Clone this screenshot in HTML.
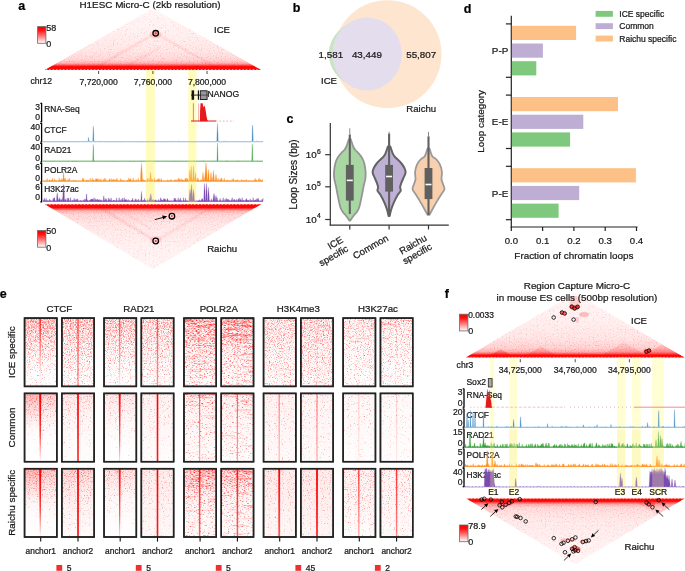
<!DOCTYPE html>
<html><head><meta charset="utf-8"><style>
html,body{margin:0;padding:0;background:#fff;width:685px;height:571px;overflow:hidden}
svg{display:block;will-change:transform}
text{font-family:"Liberation Sans",sans-serif;stroke:currentColor;stroke-width:0.22px;paint-order:stroke}
</style></head><body>
<svg width="685" height="571" viewBox="0 0 685 571" font-family="Liberation Sans, sans-serif">
<defs>
<filter id="speck" x="0" y="0" width="100%" height="100%" color-interpolation-filters="sRGB">
  <feTurbulence type="fractalNoise" baseFrequency="0.9" numOctaves="1" seed="4" result="n"/>
  <feColorMatrix in="n" type="matrix" values="0 0 0 0 1  0 0 0 0 0  0 0 0 0 0  9 0 0 0 -5.2"/>
</filter>
<filter id="speck2" x="0" y="0" width="100%" height="100%" color-interpolation-filters="sRGB">
  <feTurbulence type="fractalNoise" baseFrequency="0.9" numOctaves="1" seed="11" result="n"/>
  <feColorMatrix in="n" type="matrix" values="0 0 0 0 1  0 0 0 0 0  0 0 0 0 0  7 0 0 0 -3.6"/>
</filter>
<filter id="streak" x="0" y="0" width="100%" height="100%" color-interpolation-filters="sRGB">
  <feTurbulence type="fractalNoise" baseFrequency="0.35 1.2" numOctaves="2" seed="21" result="n"/>
  <feColorMatrix in="n" type="matrix" values="0 0 0 0 1  0 0 0 0 0  0 0 0 0 0  9 0 0 0 -4.9"/>
</filter>
<filter id="dens" x="0" y="0" width="100%" height="100%" color-interpolation-filters="sRGB">
  <feTurbulence type="fractalNoise" baseFrequency="0.85" numOctaves="2" seed="4" result="t"/>
  <feColorMatrix in="t" type="matrix" values="1 0 0 0 0  0 0 0 0 0  0 0 0 0 0  0 0 0 0 1" result="n"/>
  <feComposite in="n" in2="SourceGraphic" operator="arithmetic" k1="0" k2="1" k3="1" k4="-0.975" result="s"/>
  <feColorMatrix in="s" type="matrix" values="0 0 0 0 1  0 0 0 0 0.05  0 0 0 0 0.05  1.6 0 0 0 0"/>
</filter>
<filter id="densH" x="0" y="0" width="100%" height="100%" color-interpolation-filters="sRGB">
  <feTurbulence type="fractalNoise" baseFrequency="0.75" numOctaves="1" seed="9" result="t"/>
  <feColorMatrix in="t" type="matrix" values="1 0 0 0 0  0 0 0 0 0  0 0 0 0 0  0 0 0 0 1" result="n"/>
  <feComposite in="n" in2="SourceGraphic" operator="arithmetic" k1="0" k2="1" k3="1" k4="-1" result="s"/>
  <feColorMatrix in="s" type="matrix" values="0 0 0 0 1  0 0 0 0 0.1  0 0 0 0 0.1  0.8 0 0 0 0"/>
</filter>
<filter id="densS" x="0" y="0" width="100%" height="100%" color-interpolation-filters="sRGB">
  <feTurbulence type="fractalNoise" baseFrequency="0.5 1.1" numOctaves="3" seed="21" result="t"/>
  <feColorMatrix in="t" type="matrix" values="1 0 0 0 0  0 0 0 0 0  0 0 0 0 0  0 0 0 0 1" result="n"/>
  <feComposite in="n" in2="SourceGraphic" operator="arithmetic" k1="0" k2="1" k3="1" k4="-1" result="s"/>
  <feColorMatrix in="s" type="matrix" values="0 0 0 0 1  0 0 0 0 0  0 0 0 0 0  2 0 0 0 0"/>
</filter>
<linearGradient id="cbar" x1="0" y1="0" x2="0" y2="1">
  <stop offset="0" stop-color="#ff0000"/><stop offset="0.2" stop-color="#ff0a0a"/><stop offset="1" stop-color="#ffffff"/>
</linearGradient>
<linearGradient id="ga1" gradientUnits="userSpaceOnUse" x1="0" y1="70.0" x2="0" y2="8.3"><stop offset="0" stop-color="#ff0000"/><stop offset="0.055" stop-color="#ff0000"/><stop offset="0.08" stop-color="#ff6060"/><stop offset="0.11" stop-color="#ffb4b4"/><stop offset="0.16" stop-color="#ffd8d8"/><stop offset="0.3" stop-color="#ffe8e8"/><stop offset="0.6" stop-color="#fff1f1"/><stop offset="1" stop-color="#fff7f7"/></linearGradient><linearGradient id="gda1" gradientUnits="userSpaceOnUse" x1="0" y1="70.0" x2="0" y2="8.3"><stop offset="0" stop-color="#ffffff"/><stop offset="0.055" stop-color="#b2b2b2"/><stop offset="0.09" stop-color="#8a8a8a"/><stop offset="0.2" stop-color="#7a7a7a"/><stop offset="0.5" stop-color="#707070"/><stop offset="1" stop-color="#696969"/></linearGradient><clipPath id="ca1"><polygon points="44.7,70.0 261.2,70.0 152.95,8.3"/></clipPath><linearGradient id="ga2" gradientUnits="userSpaceOnUse" x1="0" y1="204.2" x2="0" y2="269.4"><stop offset="0" stop-color="#ff0000"/><stop offset="0.05" stop-color="#ff0000"/><stop offset="0.075" stop-color="#ff6060"/><stop offset="0.1" stop-color="#ffb4b4"/><stop offset="0.15" stop-color="#ffd8d8"/><stop offset="0.3" stop-color="#ffe8e8"/><stop offset="0.6" stop-color="#fff1f1"/><stop offset="1" stop-color="#fff7f7"/></linearGradient><linearGradient id="gda2" gradientUnits="userSpaceOnUse" x1="0" y1="204.2" x2="0" y2="269.4"><stop offset="0" stop-color="#ffffff"/><stop offset="0.05" stop-color="#b2b2b2"/><stop offset="0.08" stop-color="#8a8a8a"/><stop offset="0.2" stop-color="#7a7a7a"/><stop offset="0.5" stop-color="#707070"/><stop offset="1" stop-color="#696969"/></linearGradient><clipPath id="ca2"><polygon points="44.7,204.2 261.2,204.2 152.95,269.4"/></clipPath><clipPath id="hc1"><rect x="24.55" y="318.1" width="32.3" height="68.3"/></clipPath><linearGradient id="ht1" x1="0" y1="0" x2="0" y2="1"><stop offset="0" stop-color="#ff0000" stop-opacity="0.07"/><stop offset="0.35" stop-color="#ff0000" stop-opacity="0.02"/><stop offset="1" stop-color="#ff0000" stop-opacity="0"/></linearGradient><linearGradient id="hd1" x1="0" y1="0" x2="0" y2="1"><stop offset="0" stop-color="#a1a1a1"/><stop offset="0.2" stop-color="#969696"/><stop offset="0.45" stop-color="#858585"/><stop offset="0.7" stop-color="#6e6e6e"/><stop offset="1" stop-color="#545454"/></linearGradient><linearGradient id="hl1" x1="0" y1="0" x2="0" y2="1"><stop offset="0" stop-color="#ff0000" stop-opacity="0.75"/><stop offset="0.45" stop-color="#ff0000" stop-opacity="0.4"/><stop offset="0.8" stop-color="#ff0000" stop-opacity="0.12"/><stop offset="1" stop-color="#ff0000" stop-opacity="0"/></linearGradient><clipPath id="hc2"><rect x="61.849999999999994" y="318.1" width="32.3" height="68.3"/></clipPath><linearGradient id="ht2" x1="0" y1="0" x2="0" y2="1"><stop offset="0" stop-color="#ff0000" stop-opacity="0.05"/><stop offset="0.4" stop-color="#ff0000" stop-opacity="0.01"/><stop offset="1" stop-color="#ff0000" stop-opacity="0.0"/></linearGradient><linearGradient id="hd2" x1="0" y1="0" x2="0" y2="1"><stop offset="0" stop-color="#999999"/><stop offset="0.3" stop-color="#8c8c8c"/><stop offset="0.6" stop-color="#7d7d7d"/><stop offset="1" stop-color="#6b6b6b"/></linearGradient><linearGradient id="hl2" x1="0" y1="0" x2="0" y2="1"><stop offset="0" stop-color="#ff0000" stop-opacity="0.6"/><stop offset="1" stop-color="#ff0000" stop-opacity="0.35"/></linearGradient><clipPath id="hc3"><rect x="104.05" y="318.1" width="32.3" height="68.3"/></clipPath><linearGradient id="ht3" x1="0" y1="0" x2="0" y2="1"><stop offset="0" stop-color="#ff0000" stop-opacity="0.04"/><stop offset="0.4" stop-color="#ff0000" stop-opacity="0.01"/><stop offset="1" stop-color="#ff0000" stop-opacity="0"/></linearGradient><linearGradient id="hd3" x1="0" y1="0" x2="0" y2="1"><stop offset="0" stop-color="#999999"/><stop offset="0.3" stop-color="#8a8a8a"/><stop offset="0.6" stop-color="#787878"/><stop offset="1" stop-color="#5e5e5e"/></linearGradient><linearGradient id="hl3" x1="0" y1="0" x2="0" y2="1"><stop offset="0" stop-color="#ff0000" stop-opacity="0.65"/><stop offset="0.7" stop-color="#ff0000" stop-opacity="0.35"/><stop offset="1" stop-color="#ff0000" stop-opacity="0.1"/></linearGradient><clipPath id="hc4"><rect x="141.35" y="318.1" width="32.3" height="68.3"/></clipPath><linearGradient id="ht4" x1="0" y1="0" x2="0" y2="1"><stop offset="0" stop-color="#ff0000" stop-opacity="0.03"/><stop offset="1" stop-color="#ff0000" stop-opacity="0"/></linearGradient><linearGradient id="hd4" x1="0" y1="0" x2="0" y2="1"><stop offset="0" stop-color="#949494"/><stop offset="0.3" stop-color="#878787"/><stop offset="0.6" stop-color="#7a7a7a"/><stop offset="1" stop-color="#696969"/></linearGradient><linearGradient id="hl4" x1="0" y1="0" x2="0" y2="1"><stop offset="0" stop-color="#ff0000" stop-opacity="0.6"/><stop offset="1" stop-color="#ff0000" stop-opacity="0.4"/></linearGradient><clipPath id="hc5"><rect x="183.95" y="318.1" width="32.3" height="68.3"/></clipPath><linearGradient id="ht5" x1="0" y1="0" x2="0" y2="1"><stop offset="0" stop-color="#ff0000" stop-opacity="0.06"/><stop offset="0.5" stop-color="#ff0000" stop-opacity="0.03"/><stop offset="1" stop-color="#ff0000" stop-opacity="0.01"/></linearGradient><linearGradient id="hd5" x1="0" y1="0" x2="0" y2="1"><stop offset="0" stop-color="#999999"/><stop offset="0.3" stop-color="#919191"/><stop offset="0.5" stop-color="#808080"/><stop offset="1" stop-color="#737373"/></linearGradient><linearGradient id="hl5" x1="0" y1="0" x2="0" y2="1"><stop offset="0" stop-color="#ff0000" stop-opacity="0.12"/><stop offset="1" stop-color="#ff0000" stop-opacity="0.06"/></linearGradient><clipPath id="sc00"><rect x="183.95" y="318.1" width="32.3" height="68.3"/></clipPath><clipPath id="hc6"><rect x="221.25" y="318.1" width="32.3" height="68.3"/></clipPath><linearGradient id="ht6" x1="0" y1="0" x2="0" y2="1"><stop offset="0" stop-color="#ff0000" stop-opacity="0.06"/><stop offset="0.5" stop-color="#ff0000" stop-opacity="0.03"/><stop offset="1" stop-color="#ff0000" stop-opacity="0.01"/></linearGradient><linearGradient id="hd6" x1="0" y1="0" x2="0" y2="1"><stop offset="0" stop-color="#999999"/><stop offset="0.3" stop-color="#919191"/><stop offset="0.5" stop-color="#808080"/><stop offset="1" stop-color="#737373"/></linearGradient><linearGradient id="hl6" x1="0" y1="0" x2="0" y2="1"><stop offset="0" stop-color="#ff0000" stop-opacity="0.15"/><stop offset="1" stop-color="#ff0000" stop-opacity="0.08"/></linearGradient><clipPath id="sc01"><rect x="221.25" y="318.1" width="32.3" height="68.3"/></clipPath><clipPath id="hc7"><rect x="263.55" y="318.1" width="32.3" height="68.3"/></clipPath><linearGradient id="ht7" x1="0" y1="0" x2="0" y2="1"><stop offset="0" stop-color="#ff0000" stop-opacity="0.03"/><stop offset="1" stop-color="#ff0000" stop-opacity="0.01"/></linearGradient><linearGradient id="hd7" x1="0" y1="0" x2="0" y2="1"><stop offset="0" stop-color="#878787"/><stop offset="0.4" stop-color="#7d7d7d"/><stop offset="1" stop-color="#707070"/></linearGradient><linearGradient id="hl7" x1="0" y1="0" x2="0" y2="1"><stop offset="0" stop-color="#ff0000" stop-opacity="0.08"/><stop offset="1" stop-color="#ff0000" stop-opacity="0.03"/></linearGradient><clipPath id="sc030"><rect x="263.55" y="318.1" width="32.3" height="68.3"/></clipPath><clipPath id="hc8"><rect x="300.85" y="318.1" width="32.3" height="68.3"/></clipPath><linearGradient id="ht8" x1="0" y1="0" x2="0" y2="1"><stop offset="0" stop-color="#ff0000" stop-opacity="0.03"/><stop offset="1" stop-color="#ff0000" stop-opacity="0.01"/></linearGradient><linearGradient id="hd8" x1="0" y1="0" x2="0" y2="1"><stop offset="0" stop-color="#8a8a8a"/><stop offset="0.4" stop-color="#808080"/><stop offset="1" stop-color="#737373"/></linearGradient><linearGradient id="hl8" x1="0" y1="0" x2="0" y2="1"><stop offset="0" stop-color="#ff0000" stop-opacity="0.12"/><stop offset="1" stop-color="#ff0000" stop-opacity="0.05"/></linearGradient><clipPath id="sc031"><rect x="300.85" y="318.1" width="32.3" height="68.3"/></clipPath><clipPath id="hc9"><rect x="343.15" y="318.1" width="32.3" height="68.3"/></clipPath><linearGradient id="ht9" x1="0" y1="0" x2="0" y2="1"><stop offset="0" stop-color="#ff0000" stop-opacity="0.02"/><stop offset="1" stop-color="#ff0000" stop-opacity="0.0"/></linearGradient><linearGradient id="hd9" x1="0" y1="0" x2="0" y2="1"><stop offset="0" stop-color="#828282"/><stop offset="0.3" stop-color="#7a7a7a"/><stop offset="1" stop-color="#696969"/></linearGradient><linearGradient id="hl9" x1="0" y1="0" x2="0" y2="1"><stop offset="0" stop-color="#ff0000" stop-opacity="0.06"/><stop offset="1" stop-color="#ff0000" stop-opacity="0.02"/></linearGradient><clipPath id="sc040"><rect x="343.15" y="318.1" width="32.3" height="68.3"/></clipPath><clipPath id="hc10"><rect x="380.45" y="318.1" width="32.3" height="68.3"/></clipPath><linearGradient id="ht10" x1="0" y1="0" x2="0" y2="1"><stop offset="0" stop-color="#ff0000" stop-opacity="0.02"/><stop offset="1" stop-color="#ff0000" stop-opacity="0.0"/></linearGradient><linearGradient id="hd10" x1="0" y1="0" x2="0" y2="1"><stop offset="0" stop-color="#858585"/><stop offset="0.3" stop-color="#7a7a7a"/><stop offset="1" stop-color="#696969"/></linearGradient><linearGradient id="hl10" x1="0" y1="0" x2="0" y2="1"><stop offset="0" stop-color="#ff0000" stop-opacity="0.06"/><stop offset="1" stop-color="#ff0000" stop-opacity="0.02"/></linearGradient><clipPath id="sc041"><rect x="380.45" y="318.1" width="32.3" height="68.3"/></clipPath><clipPath id="hc11"><rect x="24.55" y="393.4" width="32.3" height="68.3"/></clipPath><linearGradient id="ht11" x1="0" y1="0" x2="0" y2="1"><stop offset="0" stop-color="#ff0000" stop-opacity="0.18"/><stop offset="0.3" stop-color="#ff0000" stop-opacity="0.06"/><stop offset="0.6" stop-color="#ff0000" stop-opacity="0.01"/><stop offset="1" stop-color="#ff0000" stop-opacity="0"/></linearGradient><linearGradient id="hd11" x1="0" y1="0" x2="0" y2="1"><stop offset="0" stop-color="#808080"/><stop offset="0.3" stop-color="#6b6b6b"/><stop offset="0.6" stop-color="#4f4f4f"/><stop offset="1" stop-color="#333333"/></linearGradient><linearGradient id="hl11" x1="0" y1="0" x2="0" y2="1"><stop offset="0" stop-color="#ff0000" stop-opacity="1"/><stop offset="0.6" stop-color="#ff0000" stop-opacity="0.85"/><stop offset="0.9" stop-color="#ff0000" stop-opacity="0.3"/><stop offset="1" stop-color="#ff0000" stop-opacity="0"/></linearGradient><linearGradient id="hq11" x1="0" y1="0" x2="0" y2="1"><stop offset="0" stop-color="#ff0000" stop-opacity="0.1"/><stop offset="0.5" stop-color="#ff0000" stop-opacity="0"/></linearGradient><clipPath id="hc12"><rect x="61.849999999999994" y="393.4" width="32.3" height="68.3"/></clipPath><linearGradient id="ht12" x1="0" y1="0" x2="0" y2="1"><stop offset="0" stop-color="#ff0000" stop-opacity="0.08"/><stop offset="0.4" stop-color="#ff0000" stop-opacity="0.03"/><stop offset="1" stop-color="#ff0000" stop-opacity="0.01"/></linearGradient><linearGradient id="hd12" x1="0" y1="0" x2="0" y2="1"><stop offset="0" stop-color="#737373"/><stop offset="0.4" stop-color="#5e5e5e"/><stop offset="1" stop-color="#474747"/></linearGradient><linearGradient id="hl12" x1="0" y1="0" x2="0" y2="1"><stop offset="0" stop-color="#ff0000" stop-opacity="1"/><stop offset="1" stop-color="#ff0000" stop-opacity="0.8"/></linearGradient><clipPath id="hc13"><rect x="104.05" y="393.4" width="32.3" height="68.3"/></clipPath><linearGradient id="ht13" x1="0" y1="0" x2="0" y2="1"><stop offset="0" stop-color="#ff0000" stop-opacity="0.08"/><stop offset="0.5" stop-color="#ff0000" stop-opacity="0.02"/><stop offset="1" stop-color="#ff0000" stop-opacity="0"/></linearGradient><linearGradient id="hd13" x1="0" y1="0" x2="0" y2="1"><stop offset="0" stop-color="#737373"/><stop offset="0.4" stop-color="#5c5c5c"/><stop offset="1" stop-color="#383838"/></linearGradient><linearGradient id="hl13" x1="0" y1="0" x2="0" y2="1"><stop offset="0" stop-color="#ff0000" stop-opacity="1"/><stop offset="0.7" stop-color="#ff0000" stop-opacity="0.7"/><stop offset="1" stop-color="#ff0000" stop-opacity="0.2"/></linearGradient><clipPath id="hc14"><rect x="141.35" y="393.4" width="32.3" height="68.3"/></clipPath><linearGradient id="ht14" x1="0" y1="0" x2="0" y2="1"><stop offset="0" stop-color="#ff0000" stop-opacity="0.05"/><stop offset="1" stop-color="#ff0000" stop-opacity="0.01"/></linearGradient><linearGradient id="hd14" x1="0" y1="0" x2="0" y2="1"><stop offset="0" stop-color="#666666"/><stop offset="1" stop-color="#474747"/></linearGradient><linearGradient id="hl14" x1="0" y1="0" x2="0" y2="1"><stop offset="0" stop-color="#ff0000" stop-opacity="1"/><stop offset="1" stop-color="#ff0000" stop-opacity="0.9"/></linearGradient><clipPath id="hc15"><rect x="183.95" y="393.4" width="32.3" height="68.3"/></clipPath><linearGradient id="ht15" x1="0" y1="0" x2="0" y2="1"><stop offset="0" stop-color="#ff0000" stop-opacity="0.05"/><stop offset="1" stop-color="#ff0000" stop-opacity="0.01"/></linearGradient><linearGradient id="hd15" x1="0" y1="0" x2="0" y2="1"><stop offset="0" stop-color="#7a7a7a"/><stop offset="0.4" stop-color="#6e6e6e"/><stop offset="1" stop-color="#616161"/></linearGradient><linearGradient id="hl15" x1="0" y1="0" x2="0" y2="1"><stop offset="0" stop-color="#ff0000" stop-opacity="0.6"/><stop offset="1" stop-color="#ff0000" stop-opacity="0.35"/></linearGradient><clipPath id="sc10"><rect x="183.95" y="393.4" width="32.3" height="68.3"/></clipPath><clipPath id="hc16"><rect x="221.25" y="393.4" width="32.3" height="68.3"/></clipPath><linearGradient id="ht16" x1="0" y1="0" x2="0" y2="1"><stop offset="0" stop-color="#ff0000" stop-opacity="0.05"/><stop offset="1" stop-color="#ff0000" stop-opacity="0.01"/></linearGradient><linearGradient id="hd16" x1="0" y1="0" x2="0" y2="1"><stop offset="0" stop-color="#787878"/><stop offset="0.4" stop-color="#6b6b6b"/><stop offset="1" stop-color="#616161"/></linearGradient><linearGradient id="hl16" x1="0" y1="0" x2="0" y2="1"><stop offset="0" stop-color="#ff0000" stop-opacity="0.6"/><stop offset="1" stop-color="#ff0000" stop-opacity="0.35"/></linearGradient><clipPath id="sc11"><rect x="221.25" y="393.4" width="32.3" height="68.3"/></clipPath><clipPath id="hc17"><rect x="263.55" y="393.4" width="32.3" height="68.3"/></clipPath><linearGradient id="ht17" x1="0" y1="0" x2="0" y2="1"><stop offset="0" stop-color="#ff0000" stop-opacity="0.05"/><stop offset="1" stop-color="#ff0000" stop-opacity="0.02"/></linearGradient><linearGradient id="hd17" x1="0" y1="0" x2="0" y2="1"><stop offset="0" stop-color="#666666"/><stop offset="1" stop-color="#545454"/></linearGradient><linearGradient id="hl17" x1="0" y1="0" x2="0" y2="1"><stop offset="0" stop-color="#ff0000" stop-opacity="0.42"/><stop offset="1" stop-color="#ff0000" stop-opacity="0.22"/></linearGradient><clipPath id="hc18"><rect x="300.85" y="393.4" width="32.3" height="68.3"/></clipPath><linearGradient id="ht18" x1="0" y1="0" x2="0" y2="1"><stop offset="0" stop-color="#ff0000" stop-opacity="0.04"/><stop offset="1" stop-color="#ff0000" stop-opacity="0.02"/></linearGradient><linearGradient id="hd18" x1="0" y1="0" x2="0" y2="1"><stop offset="0" stop-color="#666666"/><stop offset="1" stop-color="#545454"/></linearGradient><linearGradient id="hl18" x1="0" y1="0" x2="0" y2="1"><stop offset="0" stop-color="#ff0000" stop-opacity="0.42"/><stop offset="1" stop-color="#ff0000" stop-opacity="0.28"/></linearGradient><clipPath id="hc19"><rect x="343.15" y="393.4" width="32.3" height="68.3"/></clipPath><linearGradient id="ht19" x1="0" y1="0" x2="0" y2="1"><stop offset="0" stop-color="#ff0000" stop-opacity="0.03"/><stop offset="1" stop-color="#ff0000" stop-opacity="0.01"/></linearGradient><linearGradient id="hd19" x1="0" y1="0" x2="0" y2="1"><stop offset="0" stop-color="#616161"/><stop offset="1" stop-color="#4c4c4c"/></linearGradient><linearGradient id="hl19" x1="0" y1="0" x2="0" y2="1"><stop offset="0" stop-color="#ff0000" stop-opacity="0.18"/><stop offset="1" stop-color="#ff0000" stop-opacity="0.06"/></linearGradient><clipPath id="hc20"><rect x="380.45" y="393.4" width="32.3" height="68.3"/></clipPath><linearGradient id="ht20" x1="0" y1="0" x2="0" y2="1"><stop offset="0" stop-color="#ff0000" stop-opacity="0.02"/><stop offset="1" stop-color="#ff0000" stop-opacity="0.01"/></linearGradient><linearGradient id="hd20" x1="0" y1="0" x2="0" y2="1"><stop offset="0" stop-color="#616161"/><stop offset="1" stop-color="#4c4c4c"/></linearGradient><linearGradient id="hl20" x1="0" y1="0" x2="0" y2="1"><stop offset="0" stop-color="#ff0000" stop-opacity="0.18"/><stop offset="1" stop-color="#ff0000" stop-opacity="0.08"/></linearGradient><clipPath id="hc21"><rect x="24.55" y="468.7" width="32.3" height="68.3"/></clipPath><linearGradient id="ht21" x1="0" y1="0" x2="0" y2="1"><stop offset="0" stop-color="#ff0000" stop-opacity="0.2"/><stop offset="0.3" stop-color="#ff0000" stop-opacity="0.07"/><stop offset="0.6" stop-color="#ff0000" stop-opacity="0.02"/><stop offset="1" stop-color="#ff0000" stop-opacity="0"/></linearGradient><linearGradient id="hd21" x1="0" y1="0" x2="0" y2="1"><stop offset="0" stop-color="#878787"/><stop offset="0.3" stop-color="#737373"/><stop offset="0.6" stop-color="#525252"/><stop offset="1" stop-color="#333333"/></linearGradient><linearGradient id="hl21" x1="0" y1="0" x2="0" y2="1"><stop offset="0" stop-color="#ff0000" stop-opacity="1"/><stop offset="0.6" stop-color="#ff0000" stop-opacity="0.85"/><stop offset="0.9" stop-color="#ff0000" stop-opacity="0.3"/><stop offset="1" stop-color="#ff0000" stop-opacity="0"/></linearGradient><linearGradient id="hq21" x1="0" y1="0" x2="0" y2="1"><stop offset="0" stop-color="#ff0000" stop-opacity="0.1"/><stop offset="0.5" stop-color="#ff0000" stop-opacity="0"/></linearGradient><clipPath id="hc22"><rect x="61.849999999999994" y="468.7" width="32.3" height="68.3"/></clipPath><linearGradient id="ht22" x1="0" y1="0" x2="0" y2="1"><stop offset="0" stop-color="#ff0000" stop-opacity="0.15"/><stop offset="0.4" stop-color="#ff0000" stop-opacity="0.06"/><stop offset="1" stop-color="#ff0000" stop-opacity="0.02"/></linearGradient><linearGradient id="hd22" x1="0" y1="0" x2="0" y2="1"><stop offset="0" stop-color="#808080"/><stop offset="0.4" stop-color="#696969"/><stop offset="1" stop-color="#4c4c4c"/></linearGradient><linearGradient id="hl22" x1="0" y1="0" x2="0" y2="1"><stop offset="0" stop-color="#ff0000" stop-opacity="1"/><stop offset="1" stop-color="#ff0000" stop-opacity="0.85"/></linearGradient><clipPath id="hc23"><rect x="104.05" y="468.7" width="32.3" height="68.3"/></clipPath><linearGradient id="ht23" x1="0" y1="0" x2="0" y2="1"><stop offset="0" stop-color="#ff0000" stop-opacity="0.11"/><stop offset="0.4" stop-color="#ff0000" stop-opacity="0.03"/><stop offset="1" stop-color="#ff0000" stop-opacity="0"/></linearGradient><linearGradient id="hd23" x1="0" y1="0" x2="0" y2="1"><stop offset="0" stop-color="#7a7a7a"/><stop offset="0.4" stop-color="#616161"/><stop offset="1" stop-color="#383838"/></linearGradient><linearGradient id="hl23" x1="0" y1="0" x2="0" y2="1"><stop offset="0" stop-color="#ff0000" stop-opacity="1"/><stop offset="0.7" stop-color="#ff0000" stop-opacity="0.7"/><stop offset="1" stop-color="#ff0000" stop-opacity="0.2"/></linearGradient><clipPath id="hc24"><rect x="141.35" y="468.7" width="32.3" height="68.3"/></clipPath><linearGradient id="ht24" x1="0" y1="0" x2="0" y2="1"><stop offset="0" stop-color="#ff0000" stop-opacity="0.07"/><stop offset="1" stop-color="#ff0000" stop-opacity="0.03"/></linearGradient><linearGradient id="hd24" x1="0" y1="0" x2="0" y2="1"><stop offset="0" stop-color="#6e6e6e"/><stop offset="1" stop-color="#4c4c4c"/></linearGradient><linearGradient id="hl24" x1="0" y1="0" x2="0" y2="1"><stop offset="0" stop-color="#ff0000" stop-opacity="1"/><stop offset="1" stop-color="#ff0000" stop-opacity="0.9"/></linearGradient><clipPath id="hc25"><rect x="183.95" y="468.7" width="32.3" height="68.3"/></clipPath><linearGradient id="ht25" x1="0" y1="0" x2="0" y2="1"><stop offset="0" stop-color="#ff0000" stop-opacity="0.14"/><stop offset="0.35" stop-color="#ff0000" stop-opacity="0.05"/><stop offset="1" stop-color="#ff0000" stop-opacity="0.01"/></linearGradient><linearGradient id="hd25" x1="0" y1="0" x2="0" y2="1"><stop offset="0" stop-color="#949494"/><stop offset="0.25" stop-color="#878787"/><stop offset="0.45" stop-color="#757575"/><stop offset="1" stop-color="#696969"/></linearGradient><linearGradient id="hl25" x1="0" y1="0" x2="0" y2="1"><stop offset="0" stop-color="#ff0000" stop-opacity="0.9"/><stop offset="1" stop-color="#ff0000" stop-opacity="0.6"/></linearGradient><clipPath id="sc20"><rect x="183.95" y="468.7" width="32.3" height="68.3"/></clipPath><clipPath id="hc26"><rect x="221.25" y="468.7" width="32.3" height="68.3"/></clipPath><linearGradient id="ht26" x1="0" y1="0" x2="0" y2="1"><stop offset="0" stop-color="#ff0000" stop-opacity="0.12"/><stop offset="0.35" stop-color="#ff0000" stop-opacity="0.04"/><stop offset="1" stop-color="#ff0000" stop-opacity="0.01"/></linearGradient><linearGradient id="hd26" x1="0" y1="0" x2="0" y2="1"><stop offset="0" stop-color="#8f8f8f"/><stop offset="0.25" stop-color="#828282"/><stop offset="0.45" stop-color="#737373"/><stop offset="1" stop-color="#696969"/></linearGradient><linearGradient id="hl26" x1="0" y1="0" x2="0" y2="1"><stop offset="0" stop-color="#ff0000" stop-opacity="0.9"/><stop offset="1" stop-color="#ff0000" stop-opacity="0.6"/></linearGradient><clipPath id="sc21"><rect x="221.25" y="468.7" width="32.3" height="68.3"/></clipPath><clipPath id="hc27"><rect x="263.55" y="468.7" width="32.3" height="68.3"/></clipPath><linearGradient id="ht27" x1="0" y1="0" x2="0" y2="1"><stop offset="0" stop-color="#ff0000" stop-opacity="0.08"/><stop offset="1" stop-color="#ff0000" stop-opacity="0.03"/></linearGradient><linearGradient id="hd27" x1="0" y1="0" x2="0" y2="1"><stop offset="0" stop-color="#6b6b6b"/><stop offset="1" stop-color="#575757"/></linearGradient><linearGradient id="hl27" x1="0" y1="0" x2="0" y2="1"><stop offset="0" stop-color="#ff0000" stop-opacity="1"/><stop offset="1" stop-color="#ff0000" stop-opacity="0.65"/></linearGradient><clipPath id="hc28"><rect x="300.85" y="468.7" width="32.3" height="68.3"/></clipPath><linearGradient id="ht28" x1="0" y1="0" x2="0" y2="1"><stop offset="0" stop-color="#ff0000" stop-opacity="0.08"/><stop offset="1" stop-color="#ff0000" stop-opacity="0.04"/></linearGradient><linearGradient id="hd28" x1="0" y1="0" x2="0" y2="1"><stop offset="0" stop-color="#6b6b6b"/><stop offset="1" stop-color="#575757"/></linearGradient><linearGradient id="hl28" x1="0" y1="0" x2="0" y2="1"><stop offset="0" stop-color="#ff0000" stop-opacity="1"/><stop offset="1" stop-color="#ff0000" stop-opacity="0.8"/></linearGradient><clipPath id="hc29"><rect x="343.15" y="468.7" width="32.3" height="68.3"/></clipPath><linearGradient id="ht29" x1="0" y1="0" x2="0" y2="1"><stop offset="0" stop-color="#ff0000" stop-opacity="0.05"/><stop offset="1" stop-color="#ff0000" stop-opacity="0.01"/></linearGradient><linearGradient id="hd29" x1="0" y1="0" x2="0" y2="1"><stop offset="0" stop-color="#787878"/><stop offset="0.5" stop-color="#696969"/><stop offset="1" stop-color="#595959"/></linearGradient><linearGradient id="hl29" x1="0" y1="0" x2="0" y2="1"><stop offset="0" stop-color="#ff0000" stop-opacity="0.75"/><stop offset="1" stop-color="#ff0000" stop-opacity="0.3"/></linearGradient><clipPath id="hc30"><rect x="380.45" y="468.7" width="32.3" height="68.3"/></clipPath><linearGradient id="ht30" x1="0" y1="0" x2="0" y2="1"><stop offset="0" stop-color="#ff0000" stop-opacity="0.04"/><stop offset="1" stop-color="#ff0000" stop-opacity="0.02"/></linearGradient><linearGradient id="hd30" x1="0" y1="0" x2="0" y2="1"><stop offset="0" stop-color="#707070"/><stop offset="1" stop-color="#595959"/></linearGradient><linearGradient id="hl30" x1="0" y1="0" x2="0" y2="1"><stop offset="0" stop-color="#ff0000" stop-opacity="0.8"/><stop offset="1" stop-color="#ff0000" stop-opacity="0.45"/></linearGradient><linearGradient id="gf1" gradientUnits="userSpaceOnUse" x1="0" y1="357.4" x2="0" y2="293.0"><stop offset="0" stop-color="#ff0000"/><stop offset="0.035" stop-color="#ff0000"/><stop offset="0.055" stop-color="#ff6060"/><stop offset="0.085" stop-color="#ffb4b4"/><stop offset="0.14" stop-color="#ffd4d4"/><stop offset="0.3" stop-color="#ffe8e8"/><stop offset="0.6" stop-color="#fff1f1"/><stop offset="1" stop-color="#fff7f7"/></linearGradient><linearGradient id="gdf1" gradientUnits="userSpaceOnUse" x1="0" y1="357.4" x2="0" y2="293.0"><stop offset="0" stop-color="#ffffff"/><stop offset="0.035" stop-color="#b2b2b2"/><stop offset="0.07" stop-color="#8c8c8c"/><stop offset="0.2" stop-color="#7d7d7d"/><stop offset="0.5" stop-color="#707070"/><stop offset="1" stop-color="#696969"/></linearGradient><clipPath id="cf1"><polygon points="465.7,357.4 684.5,357.4 575.1,293.0"/></clipPath><linearGradient id="tgf10" gradientUnits="userSpaceOnUse" x1="0" y1="357.4" x2="0" y2="348.9"><stop offset="0" stop-color="#ff0000" stop-opacity="0.6"/><stop offset="1" stop-color="#ff0000" stop-opacity="0.15"/></linearGradient><linearGradient id="tgf11" gradientUnits="userSpaceOnUse" x1="0" y1="357.4" x2="0" y2="346.2"><stop offset="0" stop-color="#ff0000" stop-opacity="0.32"/><stop offset="1" stop-color="#ff0000" stop-opacity="0.08"/></linearGradient><linearGradient id="tgf12" gradientUnits="userSpaceOnUse" x1="0" y1="357.4" x2="0" y2="342.1"><stop offset="0" stop-color="#ff0000" stop-opacity="0.22"/><stop offset="1" stop-color="#ff0000" stop-opacity="0.06"/></linearGradient><linearGradient id="tgf13" gradientUnits="userSpaceOnUse" x1="0" y1="357.4" x2="0" y2="344.3"><stop offset="0" stop-color="#ff0000" stop-opacity="0.35"/><stop offset="1" stop-color="#ff0000" stop-opacity="0.09"/></linearGradient><linearGradient id="gf2" gradientUnits="userSpaceOnUse" x1="0" y1="498.6" x2="0" y2="564.3"><stop offset="0" stop-color="#ff0000"/><stop offset="0.04" stop-color="#ff0000"/><stop offset="0.06" stop-color="#ff6060"/><stop offset="0.09" stop-color="#ffb8b8"/><stop offset="0.14" stop-color="#ffdcdc"/><stop offset="0.3" stop-color="#ffeaea"/><stop offset="0.6" stop-color="#fff1f1"/><stop offset="1" stop-color="#fff7f7"/></linearGradient><linearGradient id="gdf2" gradientUnits="userSpaceOnUse" x1="0" y1="498.6" x2="0" y2="564.3"><stop offset="0" stop-color="#ffffff"/><stop offset="0.04" stop-color="#b2b2b2"/><stop offset="0.075" stop-color="#878787"/><stop offset="0.2" stop-color="#787878"/><stop offset="0.5" stop-color="#707070"/><stop offset="1" stop-color="#696969"/></linearGradient><clipPath id="cf2"><polygon points="466.3,498.6 684.5,498.6 575.4,564.3"/></clipPath><linearGradient id="tgf20" gradientUnits="userSpaceOnUse" x1="0" y1="498.6" x2="0" y2="514.8"><stop offset="0" stop-color="#ff0000" stop-opacity="0.22"/><stop offset="1" stop-color="#ff0000" stop-opacity="0.06"/></linearGradient><linearGradient id="tgf21" gradientUnits="userSpaceOnUse" x1="0" y1="498.6" x2="0" y2="515.0"><stop offset="0" stop-color="#ff0000" stop-opacity="0.18"/><stop offset="1" stop-color="#ff0000" stop-opacity="0.04"/></linearGradient></defs>
<text x="18.3" y="10.3" font-size="12.5" text-anchor="start" font-weight="bold" fill="#000" >a</text>
<text x="150" y="8.0" font-size="9.9" text-anchor="middle" fill="#1a1a1a" >H1ESC Micro-C (2kb resolution)</text>
<rect x="37.6" y="26.6" width="8.3" height="16.7" fill="url(#cbar)" stroke="#6a6a6a" stroke-width="0.8"/>
<text x="46.2" y="30.5" font-size="9.0" text-anchor="start" fill="#1a1a1a" >58</text>
<text x="46.2" y="46.599999999999994" font-size="9.0" text-anchor="start" fill="#1a1a1a" >0</text>
<polygon points="44.7,70.0 261.2,70.0 152.95,8.3" fill="url(#ga1)"/>
<g clip-path="url(#ca1)">
<ellipse cx="155.7" cy="34.5" rx="6" ry="4" fill="#ff0000" opacity="0.12"/>
<line x1="91.1" y1="70" x2="155.7" y2="33.3" stroke="#ff0000" stroke-width="3" stroke-opacity="0.07" stroke-linecap="round"/>
<line x1="220.3" y1="70" x2="155.7" y2="33.3" stroke="#ff0000" stroke-width="3" stroke-opacity="0.06" stroke-linecap="round"/>
<line x1="120" y1="70" x2="160" y2="47.3" stroke="#ff0000" stroke-width="2.5" stroke-opacity="0.05" stroke-linecap="round"/>
</g>
<polygon points="44.7,70.0 261.2,70.0 152.95,8.3" fill="url(#gda1)" filter="url(#densH)"/>
<path d="M45.23,70.05 L46.43,69.25 L47.63,70.05 Z M48.68,70.05 L49.88,69.25 L51.08,70.05 Z M52.13,70.05 L53.33,69.25 L54.53,70.05 Z M55.58,70.05 L56.78,69.25 L57.98,70.05 Z M59.03,70.05 L60.23,69.25 L61.43,70.05 Z M62.48,70.05 L63.68,69.25 L64.88,70.05 Z M65.93,70.05 L67.13,69.25 L68.33,70.05 Z M69.38,70.05 L70.58,69.25 L71.78,70.05 Z M72.83,70.05 L74.03,69.25 L75.23,70.05 Z M76.28,70.05 L77.48,69.25 L78.68,70.05 Z M79.73,70.05 L80.93,69.25 L82.13,70.05 Z M83.18,70.05 L84.38,69.25 L85.58,70.05 Z M86.63,70.05 L87.83,69.25 L89.03,70.05 Z M90.08,70.05 L91.28,69.25 L92.48,70.05 Z M93.53,70.05 L94.73,69.25 L95.93,70.05 Z M96.98,70.05 L98.18,69.25 L99.38,70.05 Z M100.43,70.05 L101.63,69.25 L102.83,70.05 Z M103.88,70.05 L105.08,69.25 L106.28,70.05 Z M107.33,70.05 L108.53,69.25 L109.73,70.05 Z M110.78,70.05 L111.98,69.25 L113.18,70.05 Z M114.23,70.05 L115.43,69.25 L116.63,70.05 Z M117.68,70.05 L118.88,69.25 L120.08,70.05 Z M121.13,70.05 L122.33,69.25 L123.53,70.05 Z M124.58,70.05 L125.78,69.25 L126.98,70.05 Z M128.03,70.05 L129.23,69.25 L130.43,70.05 Z M131.48,70.05 L132.68,69.25 L133.88,70.05 Z M134.93,70.05 L136.13,69.25 L137.33,70.05 Z M138.38,70.05 L139.58,69.25 L140.78,70.05 Z M141.83,70.05 L143.03,69.25 L144.22,70.05 Z M145.28,70.05 L146.47,69.25 L147.67,70.05 Z M148.72,70.05 L149.92,69.25 L151.12,70.05 Z M152.17,70.05 L153.37,69.25 L154.57,70.05 Z M155.62,70.05 L156.82,69.25 L158.02,70.05 Z M159.07,70.05 L160.27,69.25 L161.47,70.05 Z M162.52,70.05 L163.72,69.25 L164.92,70.05 Z M165.97,70.05 L167.17,69.25 L168.37,70.05 Z M169.42,70.05 L170.62,69.25 L171.82,70.05 Z M172.87,70.05 L174.07,69.25 L175.27,70.05 Z M176.32,70.05 L177.52,69.25 L178.72,70.05 Z M179.77,70.05 L180.97,69.25 L182.17,70.05 Z M183.22,70.05 L184.42,69.25 L185.62,70.05 Z M186.67,70.05 L187.87,69.25 L189.07,70.05 Z M190.12,70.05 L191.32,69.25 L192.52,70.05 Z M193.57,70.05 L194.77,69.25 L195.97,70.05 Z M197.02,70.05 L198.22,69.25 L199.42,70.05 Z M200.47,70.05 L201.67,69.25 L202.87,70.05 Z M203.92,70.05 L205.12,69.25 L206.32,70.05 Z M207.37,70.05 L208.57,69.25 L209.77,70.05 Z M210.82,70.05 L212.02,69.25 L213.22,70.05 Z M214.27,70.05 L215.47,69.25 L216.67,70.05 Z M217.72,70.05 L218.92,69.25 L220.12,70.05 Z M221.17,70.05 L222.37,69.25 L223.57,70.05 Z M224.62,70.05 L225.82,69.25 L227.02,70.05 Z M228.07,70.05 L229.27,69.25 L230.47,70.05 Z M231.52,70.05 L232.72,69.25 L233.92,70.05 Z M234.97,70.05 L236.17,69.25 L237.37,70.05 Z M238.42,70.05 L239.62,69.25 L240.82,70.05 Z M241.87,70.05 L243.07,69.25 L244.27,70.05 Z M245.32,70.05 L246.52,69.25 L247.72,70.05 Z M248.77,70.05 L249.97,69.25 L251.17,70.05 Z M252.22,70.05 L253.42,69.25 L254.62,70.05 Z M255.67,70.05 L256.87,69.25 L258.07,70.05 Z " fill="#fff" opacity="0.85"/>
<text x="214" y="33.2" font-size="9.6" text-anchor="start" fill="#1a1a1a" >ICE</text>
<circle cx="155.7" cy="33.3" r="2.8" fill="#ffb0b0" stroke="#000" stroke-width="1.3"/><circle cx="155.7" cy="33.3" r="1.1" fill="#ff3030"/>
<rect x="146.1" y="70" width="8.700000000000017" height="133" fill="#fffcbc"/>
<rect x="188.3" y="70" width="8.099999999999994" height="133" fill="#fffcbc"/>
<line x1="98.6" y1="71.0" x2="98.6" y2="74.0" stroke="#222" stroke-width="0.8"/>
<text x="98.6" y="85" font-size="8.6" text-anchor="middle" fill="#1a1a1a" >7,720,000</text>
<line x1="152.9" y1="71.0" x2="152.9" y2="74.0" stroke="#222" stroke-width="0.8"/>
<text x="152.9" y="85" font-size="8.6" text-anchor="middle" fill="#1a1a1a" >7,760,000</text>
<line x1="207.0" y1="71.0" x2="207.0" y2="74.0" stroke="#222" stroke-width="0.8"/>
<text x="207.0" y="85" font-size="8.6" text-anchor="middle" fill="#1a1a1a" >7,800,000</text>
<text x="30.5" y="83.9" font-size="8.6" text-anchor="start" fill="#1a1a1a" >chr12</text>
<line x1="191" y1="95.1" x2="207.5" y2="95.1" stroke="#111" stroke-width="0.9"/>
<rect x="191.6" y="90.4" width="2.5" height="9.4" fill="#151515"/>
<rect x="197.8" y="90.4" width="1.2" height="9.4" fill="#151515"/>
<rect x="200.3" y="90.8" width="6.8" height="8.7" fill="#9a9a9a" stroke="#111" stroke-width="0.9"/>
<line x1="200.3" y1="95.1" x2="207.1" y2="95.1" stroke="#222" stroke-width="0.6"/>
<text x="207.6" y="97.4" font-size="8.6" text-anchor="start" fill="#1a1a1a" >NANOG</text>
<line x1="41.6" y1="102.8" x2="41.6" y2="122.4" stroke="#000" stroke-width="1.3"/>
<line x1="40.2" y1="103.3" x2="41.6" y2="103.3" stroke="#000" stroke-width="1"/>
<line x1="40.2" y1="121.9" x2="41.6" y2="121.9" stroke="#000" stroke-width="1"/>
<text x="40.1" y="109.7" font-size="8.6" text-anchor="end" fill="#1a1a1a" >3</text>
<text x="40.1" y="120.4" font-size="8.6" text-anchor="end" fill="#1a1a1a" >0</text>
<line x1="41.6" y1="123.0" x2="41.6" y2="142.6" stroke="#000" stroke-width="1.3"/>
<line x1="40.2" y1="123.5" x2="41.6" y2="123.5" stroke="#000" stroke-width="1"/>
<line x1="40.2" y1="142.1" x2="41.6" y2="142.1" stroke="#000" stroke-width="1"/>
<text x="40.1" y="129.9" font-size="8.6" text-anchor="end" fill="#1a1a1a" >40</text>
<text x="40.1" y="140.6" font-size="8.6" text-anchor="end" fill="#1a1a1a" >0</text>
<line x1="41.6" y1="143.0" x2="41.6" y2="162.6" stroke="#000" stroke-width="1.3"/>
<line x1="40.2" y1="143.5" x2="41.6" y2="143.5" stroke="#000" stroke-width="1"/>
<line x1="40.2" y1="162.1" x2="41.6" y2="162.1" stroke="#000" stroke-width="1"/>
<text x="40.1" y="149.9" font-size="8.6" text-anchor="end" fill="#1a1a1a" >40</text>
<text x="40.1" y="160.6" font-size="8.6" text-anchor="end" fill="#1a1a1a" >0</text>
<line x1="41.6" y1="163.0" x2="41.6" y2="182.6" stroke="#000" stroke-width="1.3"/>
<line x1="40.2" y1="163.5" x2="41.6" y2="163.5" stroke="#000" stroke-width="1"/>
<line x1="40.2" y1="182.1" x2="41.6" y2="182.1" stroke="#000" stroke-width="1"/>
<text x="40.1" y="169.9" font-size="8.6" text-anchor="end" fill="#1a1a1a" >6</text>
<text x="40.1" y="180.6" font-size="8.6" text-anchor="end" fill="#1a1a1a" >0</text>
<line x1="41.6" y1="182.8" x2="41.6" y2="202.4" stroke="#000" stroke-width="1.3"/>
<line x1="40.2" y1="183.3" x2="41.6" y2="183.3" stroke="#000" stroke-width="1"/>
<line x1="40.2" y1="201.9" x2="41.6" y2="201.9" stroke="#000" stroke-width="1"/>
<text x="40.1" y="189.70000000000002" font-size="8.6" text-anchor="end" fill="#1a1a1a" >6</text>
<text x="40.1" y="200.4" font-size="8.6" text-anchor="end" fill="#1a1a1a" >0</text>
<text x="44.3" y="112.39999999999999" font-size="8.4" text-anchor="start" fill="#1a1a1a" >RNA-Seq</text>
<text x="44.3" y="132.6" font-size="8.4" text-anchor="start" fill="#1a1a1a" >CTCF</text>
<text x="44.3" y="152.6" font-size="8.4" text-anchor="start" fill="#1a1a1a" >RAD21</text>
<text x="44.3" y="172.6" font-size="8.4" text-anchor="start" fill="#1a1a1a" >POLR2A</text>
<text x="44.3" y="192.4" font-size="8.4" text-anchor="start" fill="#1a1a1a" >H3K27ac</text>
<line x1="193.4" y1="121.3" x2="193.4" y2="103.2" stroke="#e8532a" stroke-width="0.7"/>
<line x1="198.6" y1="121.3" x2="198.6" y2="103.4" stroke="#f06060" stroke-width="0.5"/>
<path d="M199.9,121.3 L200.1,110 L200.6,103.2 L202.6,103.2 L203.2,106 L203.7,107.5 L204.2,106.2 L204.8,105.8 L205.3,108.5 L205.9,112 L206.5,116 L207.2,119.5 L208,121.3 Z" fill="#e41a1c"/>
<line x1="191" y1="121.0" x2="216" y2="121.0" stroke="#e41a1c" stroke-width="1.0"/>
<line x1="216" y1="121.1" x2="234" y2="121.1" stroke="#f08080" stroke-width="0.7" stroke-dasharray="1.5 2"/>
<path d="M43.00,141.80 L43.00,141.80 L43.25,141.80 L43.50,141.80 L43.75,141.80 L44.00,141.80 L44.25,141.80 L44.50,141.80 L44.75,141.80 L45.00,141.80 L45.25,141.80 L45.50,141.80 L45.75,141.80 L46.00,141.80 L46.25,141.80 L46.50,141.80 L46.75,141.80 L47.00,141.80 L47.25,141.80 L47.50,141.80 L47.75,141.80 L48.00,141.64 L48.25,141.64 L48.50,141.80 L48.75,141.80 L49.00,141.80 L49.25,141.80 L49.50,141.80 L49.75,141.80 L50.00,141.80 L50.25,141.80 L50.50,141.80 L50.75,141.80 L51.00,141.80 L51.25,141.80 L51.50,141.80 L51.75,141.80 L52.00,141.80 L52.25,141.80 L52.50,141.80 L52.75,141.80 L53.00,141.80 L53.25,141.80 L53.50,141.80 L53.75,141.80 L54.00,141.80 L54.25,141.80 L54.50,141.80 L54.75,141.80 L55.00,141.80 L55.25,141.80 L55.50,141.80 L55.75,141.80 L56.00,141.80 L56.25,141.80 L56.50,141.57 L56.75,141.57 L57.00,141.80 L57.25,141.80 L57.50,141.80 L57.75,141.80 L58.00,141.02 L58.25,141.02 L58.50,141.80 L58.75,141.80 L59.00,141.80 L59.25,141.80 L59.50,141.80 L59.75,141.80 L60.00,141.80 L60.25,141.80 L60.50,141.80 L60.75,141.80 L61.00,141.80 L61.25,141.80 L61.50,141.80 L61.75,141.80 L62.00,141.80 L62.25,141.80 L62.50,141.26 L62.75,141.26 L63.00,141.80 L63.25,141.80 L63.50,141.80 L63.75,141.80 L64.00,141.80 L64.25,141.80 L64.50,141.80 L64.75,141.80 L65.00,141.80 L65.25,141.80 L65.50,141.80 L65.75,141.80 L66.00,141.80 L66.25,141.80 L66.50,141.80 L66.75,141.80 L67.00,141.80 L67.25,141.80 L67.50,141.80 L67.75,141.80 L68.00,141.80 L68.25,141.80 L68.50,141.80 L68.75,141.80 L69.00,141.80 L69.25,141.80 L69.50,141.80 L69.75,141.80 L70.00,141.80 L70.25,141.80 L70.50,141.72 L70.75,141.72 L71.00,141.80 L71.25,141.80 L71.50,140.99 L71.75,140.99 L72.00,141.80 L72.25,141.80 L72.50,141.80 L72.75,141.80 L73.00,141.80 L73.25,141.80 L73.50,141.80 L73.75,141.80 L74.00,141.80 L74.25,141.80 L74.50,141.80 L74.75,141.80 L75.00,141.80 L75.25,141.80 L75.50,141.80 L75.75,141.80 L76.00,141.80 L76.25,141.80 L76.50,141.80 L76.75,141.80 L77.00,141.57 L77.25,141.57 L77.50,141.80 L77.75,141.80 L78.00,141.80 L78.25,141.80 L78.50,141.15 L78.75,141.15 L79.00,141.80 L79.25,141.80 L79.50,141.80 L79.75,141.80 L80.00,141.28 L80.25,141.28 L80.50,141.41 L80.75,141.41 L81.00,141.80 L81.25,141.80 L81.50,141.05 L81.75,141.05 L82.00,141.56 L82.25,141.56 L82.50,141.80 L82.75,141.80 L83.00,141.77 L83.25,141.77 L83.50,141.80 L83.75,141.80 L84.00,141.80 L84.25,141.80 L84.50,141.80 L84.75,141.80 L85.00,141.69 L85.25,141.69 L85.50,141.38 L85.75,141.38 L86.00,140.90 L86.25,140.90 L86.50,141.30 L86.75,141.30 L87.00,141.75 L87.25,141.75 L87.50,141.80 L87.75,141.80 L88.00,141.78 L88.25,138.60 L88.50,137.30 L88.75,138.60 L89.00,141.80 L89.25,141.80 L89.50,140.82 L89.75,140.82 L90.00,141.80 L90.25,141.80 L90.50,141.80 L90.75,141.80 L91.00,141.80 L91.25,141.80 L91.50,141.80 L91.75,141.80 L92.00,141.71 L92.25,141.71 L92.50,141.63 L92.75,141.63 L93.00,130.26 L93.25,126.08 L93.50,128.52 L93.75,133.11 L94.00,141.80 L94.25,141.80 L94.50,141.80 L94.75,141.80 L95.00,141.80 L95.25,141.80 L95.50,141.80 L95.75,141.80 L96.00,141.80 L96.25,141.80 L96.50,141.40 L96.75,141.40 L97.00,141.80 L97.25,141.80 L97.50,141.63 L97.75,141.63 L98.00,141.80 L98.25,141.80 L98.50,141.49 L98.75,141.49 L99.00,141.80 L99.25,141.80 L99.50,141.80 L99.75,141.80 L100.00,140.89 L100.25,140.89 L100.50,141.80 L100.75,141.80 L101.00,141.80 L101.25,141.80 L101.50,141.80 L101.75,141.80 L102.00,141.52 L102.25,141.52 L102.50,141.80 L102.75,141.80 L103.00,141.78 L103.25,141.78 L103.50,141.43 L103.75,141.43 L104.00,141.80 L104.25,141.80 L104.50,141.80 L104.75,141.80 L105.00,141.80 L105.25,141.80 L105.50,141.80 L105.75,141.80 L106.00,141.63 L106.25,141.63 L106.50,141.80 L106.75,141.80 L107.00,141.80 L107.25,141.80 L107.50,141.80 L107.75,141.80 L108.00,141.80 L108.25,141.80 L108.50,141.80 L108.75,141.80 L109.00,141.80 L109.25,141.80 L109.50,141.80 L109.75,141.80 L110.00,141.80 L110.25,141.80 L110.50,141.80 L110.75,141.80 L111.00,141.80 L111.25,141.80 L111.50,141.31 L111.75,141.31 L112.00,141.79 L112.25,141.79 L112.50,141.76 L112.75,141.76 L113.00,141.56 L113.25,141.56 L113.50,141.80 L113.75,141.80 L114.00,141.80 L114.25,141.80 L114.50,141.80 L114.75,141.80 L115.00,140.99 L115.25,140.99 L115.50,141.80 L115.75,141.80 L116.00,141.80 L116.25,141.80 L116.50,141.80 L116.75,141.80 L117.00,141.80 L117.25,141.80 L117.50,141.80 L117.75,141.80 L118.00,141.65 L118.25,141.65 L118.50,141.80 L118.75,141.80 L119.00,141.79 L119.25,141.79 L119.50,141.80 L119.75,141.80 L120.00,141.80 L120.25,141.80 L120.50,141.80 L120.75,141.80 L121.00,141.80 L121.25,141.80 L121.50,141.80 L121.75,141.80 L122.00,141.80 L122.25,141.80 L122.50,141.80 L122.75,141.80 L123.00,141.80 L123.25,141.80 L123.50,141.36 L123.75,141.36 L124.00,141.73 L124.25,141.73 L124.50,141.80 L124.75,141.80 L125.00,141.80 L125.25,141.80 L125.50,141.63 L125.75,141.63 L126.00,141.80 L126.25,141.80 L126.50,141.80 L126.75,141.80 L127.00,141.49 L127.25,141.49 L127.50,141.74 L127.75,141.74 L128.00,141.80 L128.25,141.80 L128.50,141.80 L128.75,141.80 L129.00,141.26 L129.25,141.26 L129.50,141.51 L129.75,141.51 L130.00,141.80 L130.25,141.80 L130.50,141.80 L130.75,141.80 L131.00,141.80 L131.25,141.80 L131.50,141.80 L131.75,141.80 L132.00,141.79 L132.25,141.79 L132.50,141.10 L132.75,141.10 L133.00,141.80 L133.25,141.80 L133.50,141.80 L133.75,141.80 L134.00,141.80 L134.25,141.80 L134.50,141.40 L134.75,141.40 L135.00,141.80 L135.25,141.80 L135.50,141.80 L135.75,141.80 L136.00,141.80 L136.25,141.80 L136.50,141.80 L136.75,141.80 L137.00,141.80 L137.25,141.80 L137.50,141.80 L137.75,141.80 L138.00,141.80 L138.25,141.80 L138.50,141.80 L138.75,141.80 L139.00,141.80 L139.25,141.80 L139.50,141.80 L139.75,141.80 L140.00,141.80 L140.25,141.80 L140.50,141.80 L140.75,141.80 L141.00,141.80 L141.25,141.80 L141.50,141.80 L141.75,141.80 L142.00,141.59 L142.25,141.59 L142.50,141.80 L142.75,141.80 L143.00,141.80 L143.25,141.80 L143.50,141.80 L143.75,141.80 L144.00,141.80 L144.25,141.80 L144.50,141.80 L144.75,141.80 L145.00,141.80 L145.25,141.80 L145.50,141.70 L145.75,141.70 L146.00,141.80 L146.25,141.80 L146.50,141.65 L146.75,141.65 L147.00,141.80 L147.25,141.80 L147.50,141.80 L147.75,141.80 L148.00,141.80 L148.25,141.80 L148.50,141.80 L148.75,141.80 L149.00,141.73 L149.25,141.73 L149.50,141.38 L149.75,141.38 L150.00,141.80 L150.25,141.80 L150.50,141.80 L150.75,141.80 L151.00,141.80 L151.25,141.80 L151.50,141.54 L151.75,141.54 L152.00,141.80 L152.25,141.80 L152.50,141.80 L152.75,141.80 L153.00,141.57 L153.25,141.57 L153.50,141.80 L153.75,141.80 L154.00,141.80 L154.25,141.80 L154.50,141.80 L154.75,141.80 L155.00,141.80 L155.25,141.80 L155.50,141.80 L155.75,141.80 L156.00,141.80 L156.25,141.80 L156.50,141.80 L156.75,141.80 L157.00,141.80 L157.25,141.80 L157.50,141.80 L157.75,141.80 L158.00,141.63 L158.25,141.63 L158.50,141.48 L158.75,141.48 L159.00,141.80 L159.25,141.80 L159.50,141.57 L159.75,141.57 L160.00,141.80 L160.25,141.80 L160.50,141.80 L160.75,141.80 L161.00,141.80 L161.25,141.80 L161.50,141.80 L161.75,141.80 L162.00,141.80 L162.25,141.80 L162.50,141.80 L162.75,141.80 L163.00,141.80 L163.25,141.80 L163.50,141.80 L163.75,141.80 L164.00,141.80 L164.25,141.80 L164.50,141.80 L164.75,141.80 L165.00,141.80 L165.25,141.80 L165.50,141.80 L165.75,141.80 L166.00,141.45 L166.25,141.45 L166.50,141.80 L166.75,141.80 L167.00,141.80 L167.25,141.80 L167.50,141.80 L167.75,141.80 L168.00,141.80 L168.25,141.80 L168.50,141.61 L168.75,141.61 L169.00,141.80 L169.25,141.80 L169.50,141.80 L169.75,141.80 L170.00,141.80 L170.25,141.80 L170.50,141.80 L170.75,141.80 L171.00,140.92 L171.25,140.92 L171.50,141.80 L171.75,141.80 L172.00,141.80 L172.25,141.80 L172.50,141.80 L172.75,141.80 L173.00,141.80 L173.25,141.80 L173.50,141.16 L173.75,141.16 L174.00,141.80 L174.25,141.80 L174.50,141.28 L174.75,141.28 L175.00,141.80 L175.25,141.80 L175.50,141.18 L175.75,141.18 L176.00,141.46 L176.25,141.46 L176.50,141.80 L176.75,141.80 L177.00,141.80 L177.25,141.80 L177.50,141.80 L177.75,141.80 L178.00,141.80 L178.25,141.80 L178.50,140.87 L178.75,140.87 L179.00,141.80 L179.25,141.80 L179.50,141.80 L179.75,141.80 L180.00,141.80 L180.25,141.80 L180.50,141.80 L180.75,141.80 L181.00,141.80 L181.25,141.80 L181.50,141.80 L181.75,141.80 L182.00,141.80 L182.25,141.80 L182.50,141.80 L182.75,141.80 L183.00,141.80 L183.25,141.80 L183.50,141.80 L183.75,141.80 L184.00,141.80 L184.25,141.80 L184.50,141.80 L184.75,141.80 L185.00,141.27 L185.25,141.27 L185.50,141.80 L185.75,141.80 L186.00,141.80 L186.25,141.80 L186.50,141.80 L186.75,141.80 L187.00,141.80 L187.25,141.80 L187.50,141.80 L187.75,141.80 L188.00,141.78 L188.25,141.78 L188.50,141.80 L188.75,141.80 L189.00,141.80 L189.25,141.80 L189.50,141.80 L189.75,141.80 L190.00,141.52 L190.25,141.52 L190.50,141.80 L190.75,141.80 L191.00,141.80 L191.25,141.80 L191.50,141.80 L191.75,141.80 L192.00,141.80 L192.25,141.80 L192.50,141.80 L192.75,141.80 L193.00,141.80 L193.25,141.80 L193.50,141.80 L193.75,141.80 L194.00,141.80 L194.25,141.80 L194.50,141.80 L194.75,141.80 L195.00,141.80 L195.25,141.80 L195.50,141.80 L195.75,141.80 L196.00,141.15 L196.25,141.15 L196.50,141.80 L196.75,141.80 L197.00,141.80 L197.25,141.80 L197.50,141.80 L197.75,141.80 L198.00,141.80 L198.25,141.80 L198.50,141.80 L198.75,141.80 L199.00,141.80 L199.25,141.80 L199.50,141.43 L199.75,141.43 L200.00,141.80 L200.25,141.80 L200.50,141.80 L200.75,141.80 L201.00,141.80 L201.25,141.80 L201.50,141.80 L201.75,141.80 L202.00,141.80 L202.25,141.80 L202.50,141.80 L202.75,141.80 L203.00,141.62 L203.25,141.62 L203.50,141.74 L203.75,141.74 L204.00,141.80 L204.25,141.80 L204.50,141.16 L204.75,141.16 L205.00,141.80 L205.25,141.80 L205.50,141.80 L205.75,141.80 L206.00,141.80 L206.25,141.80 L206.50,141.62 L206.75,141.62 L207.00,141.63 L207.25,141.63 L207.50,141.80 L207.75,141.80 L208.00,141.80 L208.25,141.80 L208.50,141.80 L208.75,141.80 L209.00,141.80 L209.25,141.80 L209.50,141.80 L209.75,141.80 L210.00,141.80 L210.25,141.80 L210.50,141.80 L210.75,141.80 L211.00,141.76 L211.25,141.76 L211.50,141.37 L211.75,141.37 L212.00,141.80 L212.25,141.80 L212.50,141.80 L212.75,141.80 L213.00,141.80 L213.25,141.80 L213.50,141.17 L213.75,141.17 L214.00,141.80 L214.25,141.80 L214.50,141.80 L214.75,141.80 L215.00,141.80 L215.25,141.80 L215.50,141.80 L215.75,141.80 L216.00,141.80 L216.25,141.80 L216.50,141.80 L216.75,141.80 L217.00,133.27 L217.25,127.95 L217.50,123.40 L217.75,127.95 L218.00,133.27 L218.25,141.80 L218.50,141.80 L218.75,141.80 L219.00,141.80 L219.25,141.80 L219.50,141.80 L219.75,141.80 L220.00,141.80 L220.25,141.80 L220.50,141.80 L220.75,141.80 L221.00,141.80 L221.25,141.80 L221.50,141.80 L221.75,141.80 L222.00,141.80 L222.25,141.80 L222.50,141.80 L222.75,141.80 L223.00,141.80 L223.25,141.80 L223.50,141.80 L223.75,141.80 L224.00,140.89 L224.25,140.89 L224.50,141.80 L224.75,141.80 L225.00,141.80 L225.25,141.80 L225.50,141.80 L225.75,141.80 L226.00,140.88 L226.25,140.88 L226.50,141.80 L226.75,141.80 L227.00,141.80 L227.25,141.80 L227.50,141.80 L227.75,141.80 L228.00,141.80 L228.25,141.80 L228.50,141.80 L228.75,141.80 L229.00,141.80 L229.25,141.80 L229.50,141.80 L229.75,141.80 L230.00,141.80 L230.25,141.80 L230.50,141.13 L230.75,141.13 L231.00,141.80 L231.25,141.80 L231.50,141.80 L231.75,141.80 L232.00,141.80 L232.25,141.80 L232.50,141.72 L232.75,141.72 L233.00,141.80 L233.25,141.80 L233.50,141.79 L233.75,141.79 L234.00,141.75 L234.25,141.75 L234.50,141.80 L234.75,141.80 L235.00,141.80 L235.25,141.80 L235.50,141.80 L235.75,141.80 L236.00,141.76 L236.25,141.76 L236.50,141.80 L236.75,141.80 L237.00,141.80 L237.25,141.80 L237.50,141.80 L237.75,141.80 L238.00,141.80 L238.25,141.80 L238.50,141.79 L238.75,141.79 L239.00,141.80 L239.25,141.80 L239.50,141.80 L239.75,141.80 L240.00,141.80 L240.25,141.80 L240.50,141.56 L240.75,141.56 L241.00,141.80 L241.25,141.80 L241.50,141.80 L241.75,141.80 L242.00,141.80 L242.25,141.80 L242.50,141.80 L242.75,141.80 L243.00,141.80 L243.25,141.80 L243.50,141.80 L243.75,141.80 L244.00,141.80 L244.25,141.80 L244.50,141.80 L244.75,141.80 L245.00,141.80 L245.25,141.80 L245.50,141.80 L245.75,141.80 L246.00,141.80 L246.25,141.80 L246.50,141.80 L246.75,141.80 L247.00,141.80 L247.25,141.80 L247.50,141.80 L247.75,141.80 L248.00,141.80 L248.25,141.80 L248.50,141.80 L248.75,141.80 L249.00,141.80 L249.25,141.80 L249.50,141.80 L249.75,141.80 L250.00,141.80 L250.25,141.80 L250.50,141.80 L250.75,141.80 L251.00,141.79 L251.25,141.79 L251.50,141.80 L251.75,141.80 L252.00,140.93 L252.25,129.95 L252.50,125.15 L252.75,126.06 L253.00,131.01 L253.25,141.80 L253.50,141.73 L253.75,141.73 L254.00,141.80 L254.25,141.80 L254.50,141.79 L254.75,141.79 L255.00,141.80 L255.25,141.80 L255.50,141.79 L255.75,141.79 L256.00,141.80 L256.25,141.80 L256.50,140.86 L256.75,140.86 L257.00,141.80 L257.25,141.80 L257.50,141.01 L257.75,141.01 L258.00,141.60 L258.25,141.60 L258.50,141.80 L258.75,141.80 L259.00,141.58 L259.25,141.58 L259.50,141.77 L259.75,141.77 L260.00,141.80 L260.25,141.80 L260.50,141.80 L260.75,141.80 L261.00,141.80 L261.25,141.80 L261.50,141.80 L261.75,141.80 L262.00,141.80 L262.25,141.80 L262.50,141.59 L262.75,141.59 L263.00,141.79 L263.00,141.80 Z" fill="#4a90c8" fill-opacity="1.0" stroke="#4a90c8" stroke-width="0.5" stroke-opacity="0.5"/>
<line x1="43" y1="141.5" x2="263" y2="141.5" stroke="#a9cbe6" stroke-width="0.9"/>
<path d="M43.00,161.40 L43.00,161.40 L43.25,161.40 L43.50,161.40 L43.75,161.40 L44.00,161.40 L44.25,161.40 L44.50,161.40 L44.75,161.40 L45.00,161.40 L45.25,161.40 L45.50,161.40 L45.75,161.40 L46.00,161.40 L46.25,161.40 L46.50,161.40 L46.75,161.40 L47.00,161.40 L47.25,161.40 L47.50,161.40 L47.75,161.40 L48.00,161.40 L48.25,161.40 L48.50,161.40 L48.75,161.40 L49.00,161.40 L49.25,161.40 L49.50,161.40 L49.75,161.40 L50.00,161.18 L50.25,161.18 L50.50,161.40 L50.75,161.40 L51.00,161.40 L51.25,161.40 L51.50,161.40 L51.75,161.40 L52.00,161.40 L52.25,161.40 L52.50,161.07 L52.75,161.07 L53.00,161.40 L53.25,161.40 L53.50,161.40 L53.75,161.40 L54.00,160.96 L54.25,160.96 L54.50,161.40 L54.75,161.40 L55.00,161.40 L55.25,161.40 L55.50,161.40 L55.75,161.40 L56.00,161.40 L56.25,161.40 L56.50,161.40 L56.75,161.40 L57.00,161.40 L57.25,161.40 L57.50,161.40 L57.75,161.40 L58.00,161.40 L58.25,161.40 L58.50,161.40 L58.75,161.40 L59.00,161.40 L59.25,161.40 L59.50,161.39 L59.75,161.39 L60.00,161.40 L60.25,161.40 L60.50,161.40 L60.75,161.40 L61.00,161.40 L61.25,161.40 L61.50,161.40 L61.75,161.40 L62.00,161.40 L62.25,161.40 L62.50,161.40 L62.75,161.40 L63.00,161.40 L63.25,161.40 L63.50,161.40 L63.75,161.40 L64.00,161.40 L64.25,161.40 L64.50,161.40 L64.75,161.40 L65.00,161.40 L65.25,161.40 L65.50,161.40 L65.75,161.40 L66.00,161.40 L66.25,161.40 L66.50,161.40 L66.75,161.40 L67.00,161.40 L67.25,161.40 L67.50,161.40 L67.75,161.40 L68.00,160.97 L68.25,160.97 L68.50,161.40 L68.75,161.40 L69.00,161.40 L69.25,161.40 L69.50,161.40 L69.75,161.40 L70.00,161.40 L70.25,161.40 L70.50,161.40 L70.75,161.40 L71.00,161.40 L71.25,161.40 L71.50,161.40 L71.75,161.40 L72.00,161.40 L72.25,161.40 L72.50,160.98 L72.75,160.98 L73.00,161.40 L73.25,161.40 L73.50,161.03 L73.75,161.03 L74.00,161.40 L74.25,161.40 L74.50,161.36 L74.75,161.36 L75.00,161.40 L75.25,161.40 L75.50,161.40 L75.75,161.40 L76.00,161.19 L76.25,161.19 L76.50,161.11 L76.75,161.11 L77.00,161.40 L77.25,161.40 L77.50,161.40 L77.75,161.40 L78.00,161.40 L78.25,161.40 L78.50,161.40 L78.75,161.40 L79.00,161.40 L79.25,161.40 L79.50,161.40 L79.75,161.40 L80.00,161.21 L80.25,161.21 L80.50,161.38 L80.75,161.38 L81.00,161.40 L81.25,161.40 L81.50,161.40 L81.75,161.40 L82.00,161.40 L82.25,161.40 L82.50,161.40 L82.75,161.40 L83.00,161.40 L83.25,161.40 L83.50,161.40 L83.75,161.40 L84.00,161.40 L84.25,161.40 L84.50,161.40 L84.75,161.40 L85.00,161.40 L85.25,161.40 L85.50,161.40 L85.75,161.40 L86.00,161.40 L86.25,161.40 L86.50,161.40 L86.75,161.40 L87.00,161.40 L87.25,161.40 L87.50,161.40 L87.75,161.40 L88.00,161.40 L88.25,161.40 L88.50,161.40 L88.75,161.40 L89.00,161.40 L89.25,161.40 L89.50,161.40 L89.75,161.40 L90.00,161.40 L90.25,161.40 L90.50,161.40 L90.75,161.40 L91.00,161.40 L91.25,161.40 L91.50,161.40 L91.75,161.40 L92.00,161.40 L92.25,161.40 L92.50,161.31 L92.75,161.31 L93.00,149.92 L93.25,144.66 L93.50,147.72 L93.75,161.19 L94.00,161.40 L94.25,161.40 L94.50,161.18 L94.75,161.18 L95.00,161.40 L95.25,161.40 L95.50,161.40 L95.75,161.40 L96.00,161.40 L96.25,161.40 L96.50,161.40 L96.75,161.40 L97.00,161.40 L97.25,161.40 L97.50,161.40 L97.75,161.40 L98.00,161.40 L98.25,161.40 L98.50,161.40 L98.75,161.40 L99.00,161.40 L99.25,161.40 L99.50,161.40 L99.75,161.40 L100.00,161.40 L100.25,161.40 L100.50,161.40 L100.75,161.40 L101.00,161.40 L101.25,161.40 L101.50,161.40 L101.75,161.40 L102.00,161.40 L102.25,161.40 L102.50,161.40 L102.75,161.40 L103.00,161.40 L103.25,161.40 L103.50,161.40 L103.75,161.40 L104.00,161.40 L104.25,161.40 L104.50,161.23 L104.75,161.23 L105.00,161.40 L105.25,161.40 L105.50,161.40 L105.75,161.40 L106.00,161.40 L106.25,161.40 L106.50,161.40 L106.75,161.40 L107.00,161.40 L107.25,161.40 L107.50,161.30 L107.75,161.30 L108.00,161.40 L108.25,161.40 L108.50,161.35 L108.75,161.35 L109.00,161.40 L109.25,161.40 L109.50,161.40 L109.75,161.40 L110.00,161.40 L110.25,161.40 L110.50,161.40 L110.75,161.40 L111.00,161.35 L111.25,161.35 L111.50,161.40 L111.75,161.40 L112.00,161.40 L112.25,161.40 L112.50,161.40 L112.75,161.40 L113.00,161.40 L113.25,161.40 L113.50,161.25 L113.75,161.25 L114.00,161.03 L114.25,161.03 L114.50,161.40 L114.75,161.40 L115.00,161.36 L115.25,161.36 L115.50,161.40 L115.75,161.40 L116.00,161.40 L116.25,161.40 L116.50,161.40 L116.75,161.40 L117.00,161.40 L117.25,161.40 L117.50,161.36 L117.75,161.36 L118.00,161.40 L118.25,161.40 L118.50,161.40 L118.75,161.40 L119.00,161.40 L119.25,161.40 L119.50,161.40 L119.75,161.40 L120.00,161.40 L120.25,161.40 L120.50,161.40 L120.75,161.40 L121.00,161.40 L121.25,161.40 L121.50,161.40 L121.75,161.40 L122.00,161.40 L122.25,161.40 L122.50,161.40 L122.75,161.40 L123.00,161.40 L123.25,161.40 L123.50,161.40 L123.75,161.40 L124.00,161.40 L124.25,161.40 L124.50,161.40 L124.75,161.40 L125.00,161.40 L125.25,161.40 L125.50,161.40 L125.75,161.40 L126.00,161.40 L126.25,161.40 L126.50,161.40 L126.75,161.40 L127.00,161.40 L127.25,161.40 L127.50,161.40 L127.75,161.40 L128.00,161.40 L128.25,161.40 L128.50,161.40 L128.75,161.40 L129.00,161.21 L129.25,161.21 L129.50,161.40 L129.75,161.40 L130.00,161.40 L130.25,161.40 L130.50,160.92 L130.75,160.92 L131.00,161.40 L131.25,161.40 L131.50,161.40 L131.75,161.40 L132.00,161.40 L132.25,161.40 L132.50,161.40 L132.75,161.40 L133.00,161.40 L133.25,161.40 L133.50,161.09 L133.75,161.09 L134.00,161.36 L134.25,161.36 L134.50,161.40 L134.75,161.40 L135.00,161.40 L135.25,161.40 L135.50,161.40 L135.75,161.40 L136.00,161.40 L136.25,161.40 L136.50,161.40 L136.75,161.40 L137.00,161.40 L137.25,161.40 L137.50,161.40 L137.75,161.40 L138.00,161.40 L138.25,161.40 L138.50,161.40 L138.75,161.40 L139.00,161.40 L139.25,161.40 L139.50,161.40 L139.75,161.40 L140.00,161.25 L140.25,161.25 L140.50,161.40 L140.75,161.40 L141.00,161.04 L141.25,161.04 L141.50,161.40 L141.75,161.40 L142.00,161.40 L142.25,161.40 L142.50,161.40 L142.75,161.40 L143.00,161.18 L143.25,161.18 L143.50,161.40 L143.75,161.40 L144.00,161.37 L144.25,161.37 L144.50,161.40 L144.75,161.40 L145.00,161.40 L145.25,161.40 L145.50,161.40 L145.75,161.40 L146.00,161.40 L146.25,161.40 L146.50,161.40 L146.75,161.40 L147.00,161.40 L147.25,161.40 L147.50,161.39 L147.75,161.39 L148.00,160.83 L148.25,160.83 L148.50,161.40 L148.75,161.40 L149.00,161.27 L149.25,161.27 L149.50,161.40 L149.75,161.40 L150.00,161.40 L150.25,161.40 L150.50,161.40 L150.75,161.40 L151.00,161.40 L151.25,161.40 L151.50,161.40 L151.75,161.40 L152.00,161.40 L152.25,161.40 L152.50,161.35 L152.75,161.35 L153.00,161.24 L153.25,161.24 L153.50,161.40 L153.75,161.40 L154.00,161.40 L154.25,161.40 L154.50,161.39 L154.75,161.39 L155.00,161.40 L155.25,161.40 L155.50,161.40 L155.75,161.40 L156.00,161.40 L156.25,161.40 L156.50,161.40 L156.75,161.40 L157.00,161.40 L157.25,161.40 L157.50,161.40 L157.75,161.40 L158.00,161.40 L158.25,161.40 L158.50,161.40 L158.75,161.40 L159.00,161.40 L159.25,161.40 L159.50,161.40 L159.75,161.40 L160.00,161.40 L160.25,161.40 L160.50,161.40 L160.75,161.40 L161.00,161.40 L161.25,161.40 L161.50,161.40 L161.75,161.40 L162.00,161.40 L162.25,161.40 L162.50,161.40 L162.75,161.40 L163.00,161.31 L163.25,161.31 L163.50,161.40 L163.75,161.40 L164.00,161.40 L164.25,161.40 L164.50,161.40 L164.75,161.40 L165.00,161.40 L165.25,161.40 L165.50,161.40 L165.75,161.40 L166.00,161.40 L166.25,161.40 L166.50,161.40 L166.75,161.40 L167.00,161.40 L167.25,161.40 L167.50,161.02 L167.75,161.02 L168.00,161.40 L168.25,161.40 L168.50,161.40 L168.75,161.40 L169.00,161.40 L169.25,161.40 L169.50,161.40 L169.75,161.40 L170.00,161.40 L170.25,161.40 L170.50,161.40 L170.75,161.40 L171.00,161.21 L171.25,161.21 L171.50,161.39 L171.75,161.39 L172.00,161.40 L172.25,161.40 L172.50,161.40 L172.75,161.40 L173.00,160.95 L173.25,160.95 L173.50,161.40 L173.75,161.40 L174.00,161.40 L174.25,161.40 L174.50,160.99 L174.75,160.99 L175.00,161.40 L175.25,161.40 L175.50,161.40 L175.75,161.40 L176.00,161.40 L176.25,161.40 L176.50,161.40 L176.75,161.40 L177.00,161.40 L177.25,161.40 L177.50,161.06 L177.75,161.06 L178.00,161.40 L178.25,161.40 L178.50,161.40 L178.75,161.40 L179.00,161.08 L179.25,161.08 L179.50,161.40 L179.75,161.40 L180.00,161.35 L180.25,161.35 L180.50,161.40 L180.75,161.40 L181.00,161.40 L181.25,161.40 L181.50,161.40 L181.75,161.40 L182.00,161.37 L182.25,161.37 L182.50,161.40 L182.75,161.40 L183.00,161.40 L183.25,161.40 L183.50,161.40 L183.75,161.40 L184.00,161.40 L184.25,161.40 L184.50,161.40 L184.75,161.40 L185.00,161.40 L185.25,161.40 L185.50,161.40 L185.75,161.40 L186.00,161.27 L186.25,161.27 L186.50,161.40 L186.75,161.40 L187.00,161.40 L187.25,161.40 L187.50,161.40 L187.75,161.40 L188.00,161.13 L188.25,161.13 L188.50,161.40 L188.75,161.40 L189.00,161.40 L189.25,161.40 L189.50,161.40 L189.75,161.40 L190.00,161.40 L190.25,161.40 L190.50,161.40 L190.75,161.40 L191.00,161.40 L191.25,161.40 L191.50,161.40 L191.75,161.40 L192.00,161.40 L192.25,161.40 L192.50,161.40 L192.75,161.40 L193.00,161.40 L193.25,161.40 L193.50,161.40 L193.75,161.40 L194.00,161.40 L194.25,161.40 L194.50,161.37 L194.75,161.37 L195.00,161.22 L195.25,161.22 L195.50,161.40 L195.75,161.40 L196.00,161.40 L196.25,161.40 L196.50,161.40 L196.75,161.40 L197.00,161.40 L197.25,161.40 L197.50,161.40 L197.75,161.40 L198.00,161.40 L198.25,161.40 L198.50,161.40 L198.75,161.40 L199.00,161.40 L199.25,161.40 L199.50,161.40 L199.75,161.40 L200.00,161.40 L200.25,161.40 L200.50,161.40 L200.75,161.40 L201.00,161.28 L201.25,161.28 L201.50,161.40 L201.75,161.40 L202.00,161.34 L202.25,161.34 L202.50,161.40 L202.75,161.40 L203.00,161.40 L203.25,161.40 L203.50,160.81 L203.75,160.81 L204.00,161.40 L204.25,161.40 L204.50,161.40 L204.75,161.40 L205.00,161.40 L205.25,161.40 L205.50,161.40 L205.75,161.40 L206.00,161.40 L206.25,161.40 L206.50,161.40 L206.75,161.40 L207.00,161.40 L207.25,161.40 L207.50,161.40 L207.75,161.40 L208.00,161.40 L208.25,161.40 L208.50,161.40 L208.75,161.40 L209.00,161.40 L209.25,161.40 L209.50,161.40 L209.75,161.40 L210.00,161.40 L210.25,161.40 L210.50,161.40 L210.75,161.40 L211.00,161.40 L211.25,161.40 L211.50,161.40 L211.75,161.40 L212.00,161.40 L212.25,161.40 L212.50,161.40 L212.75,161.40 L213.00,161.40 L213.25,161.40 L213.50,161.40 L213.75,161.40 L214.00,161.37 L214.25,161.37 L214.50,161.12 L214.75,161.12 L215.00,161.40 L215.25,161.40 L215.50,161.40 L215.75,161.40 L216.00,161.40 L216.25,161.40 L216.50,161.40 L216.75,161.40 L217.00,161.40 L217.25,148.37 L217.50,143.10 L217.75,148.37 L218.00,161.40 L218.25,161.40 L218.50,161.40 L218.75,161.40 L219.00,161.40 L219.25,161.40 L219.50,161.40 L219.75,161.40 L220.00,161.40 L220.25,161.40 L220.50,161.40 L220.75,161.40 L221.00,161.40 L221.25,161.40 L221.50,161.35 L221.75,161.35 L222.00,161.40 L222.25,161.40 L222.50,161.40 L222.75,161.40 L223.00,161.40 L223.25,161.40 L223.50,161.40 L223.75,161.40 L224.00,161.40 L224.25,161.40 L224.50,161.40 L224.75,161.40 L225.00,161.40 L225.25,161.40 L225.50,161.37 L225.75,161.37 L226.00,161.40 L226.25,161.40 L226.50,160.94 L226.75,160.94 L227.00,161.40 L227.25,161.40 L227.50,160.87 L227.75,160.87 L228.00,161.40 L228.25,161.40 L228.50,161.40 L228.75,161.40 L229.00,161.40 L229.25,161.40 L229.50,161.40 L229.75,161.40 L230.00,161.40 L230.25,161.40 L230.50,161.40 L230.75,161.40 L231.00,161.40 L231.25,161.40 L231.50,161.40 L231.75,161.40 L232.00,161.40 L232.25,161.40 L232.50,161.40 L232.75,161.40 L233.00,161.40 L233.25,161.40 L233.50,161.40 L233.75,161.40 L234.00,161.27 L234.25,161.27 L234.50,161.40 L234.75,161.40 L235.00,161.40 L235.25,161.40 L235.50,161.40 L235.75,161.40 L236.00,161.40 L236.25,161.40 L236.50,161.17 L236.75,161.17 L237.00,161.40 L237.25,161.40 L237.50,160.94 L237.75,160.94 L238.00,161.40 L238.25,161.40 L238.50,160.89 L238.75,160.89 L239.00,161.35 L239.25,161.35 L239.50,161.40 L239.75,161.40 L240.00,161.40 L240.25,161.40 L240.50,161.40 L240.75,161.40 L241.00,161.40 L241.25,161.40 L241.50,161.40 L241.75,161.40 L242.00,161.40 L242.25,161.40 L242.50,161.40 L242.75,161.40 L243.00,161.40 L243.25,161.40 L243.50,161.40 L243.75,161.40 L244.00,161.40 L244.25,161.40 L244.50,161.40 L244.75,161.40 L245.00,161.40 L245.25,161.40 L245.50,161.40 L245.75,161.40 L246.00,161.40 L246.25,161.40 L246.50,161.40 L246.75,161.40 L247.00,161.27 L247.25,161.27 L247.50,161.40 L247.75,161.40 L248.00,161.40 L248.25,161.40 L248.50,161.40 L248.75,161.40 L249.00,161.40 L249.25,161.40 L249.50,161.40 L249.75,161.40 L250.00,161.40 L250.25,161.40 L250.50,161.40 L250.75,161.40 L251.00,161.40 L251.25,161.40 L251.50,161.40 L251.75,161.40 L252.00,149.54 L252.25,144.10 L252.50,147.25 L252.75,161.40 L253.00,161.40 L253.25,161.40 L253.50,161.40 L253.75,161.40 L254.00,161.38 L254.25,161.38 L254.50,161.40 L254.75,161.40 L255.00,161.40 L255.25,161.40 L255.50,161.40 L255.75,161.40 L256.00,161.40 L256.25,161.40 L256.50,161.40 L256.75,161.40 L257.00,161.32 L257.25,161.32 L257.50,161.25 L257.75,161.25 L258.00,161.40 L258.25,161.40 L258.50,161.40 L258.75,161.40 L259.00,161.40 L259.25,161.40 L259.50,161.40 L259.75,161.40 L260.00,161.03 L260.25,161.03 L260.50,161.40 L260.75,161.40 L261.00,161.40 L261.25,161.40 L261.50,161.40 L261.75,161.40 L262.00,161.40 L262.25,161.40 L262.50,161.40 L262.75,161.40 L263.00,161.40 L263.00,161.40 Z" fill="#3aa23a" fill-opacity="1.0" stroke="#3aa23a" stroke-width="0.5" stroke-opacity="0.5"/>
<line x1="43" y1="161.1" x2="263" y2="161.1" stroke="#6fbf6f" stroke-width="0.9"/>
<path d="M43.00,181.30 L43.00,181.28 L43.25,181.28 L43.50,181.24 L43.75,181.24 L44.00,180.84 L44.25,180.84 L44.50,181.30 L44.75,181.30 L45.00,181.30 L45.25,181.30 L45.50,181.18 L45.75,181.18 L46.00,181.10 L46.25,181.10 L46.50,181.28 L46.75,181.28 L47.00,178.42 L47.25,178.42 L47.50,181.30 L47.75,181.30 L48.00,181.30 L48.25,181.30 L48.50,181.30 L48.75,181.30 L49.00,181.04 L49.25,181.04 L49.50,179.59 L49.75,179.59 L50.00,181.30 L50.25,181.30 L50.50,181.30 L50.75,181.30 L51.00,180.17 L51.25,180.17 L51.50,180.54 L51.75,180.54 L52.00,180.64 L52.25,180.64 L52.50,178.37 L52.75,178.37 L53.00,181.30 L53.25,181.30 L53.50,181.06 L53.75,181.06 L54.00,181.30 L54.25,181.30 L54.50,178.72 L54.75,178.72 L55.00,181.30 L55.25,181.30 L55.50,180.81 L55.75,180.81 L56.00,180.77 L56.25,180.77 L56.50,181.05 L56.75,181.05 L57.00,181.30 L57.25,181.30 L57.50,181.30 L57.75,181.30 L58.00,181.09 L58.25,181.09 L58.50,180.65 L58.75,180.65 L59.00,177.92 L59.25,177.92 L59.50,180.81 L59.75,180.81 L60.00,180.06 L60.25,180.06 L60.50,180.95 L60.75,180.95 L61.00,181.02 L61.25,181.02 L61.50,178.57 L61.75,178.57 L62.00,181.29 L62.25,181.29 L62.50,179.41 L62.75,179.41 L63.00,181.16 L63.25,174.67 L63.50,171.98 L63.75,172.49 L64.00,175.26 L64.25,181.30 L64.50,178.63 L64.75,178.63 L65.00,181.30 L65.25,181.30 L65.50,178.19 L65.75,178.19 L66.00,181.08 L66.25,181.08 L66.50,181.30 L66.75,181.30 L67.00,180.82 L67.25,180.82 L67.50,181.30 L67.75,181.30 L68.00,179.11 L68.25,179.11 L68.50,181.21 L68.75,181.21 L69.00,181.26 L69.25,181.26 L69.50,178.18 L69.75,178.18 L70.00,181.30 L70.25,181.30 L70.50,181.23 L70.75,181.23 L71.00,180.93 L71.25,180.93 L71.50,181.28 L71.75,181.28 L72.00,181.30 L72.25,181.30 L72.50,181.19 L72.75,181.19 L73.00,181.29 L73.25,181.29 L73.50,179.86 L73.75,179.86 L74.00,181.30 L74.25,181.30 L74.50,181.14 L74.75,181.14 L75.00,181.30 L75.25,181.30 L75.50,180.46 L75.75,180.46 L76.00,180.82 L76.25,180.82 L76.50,181.30 L76.75,181.30 L77.00,181.15 L77.25,181.15 L77.50,181.30 L77.75,181.30 L78.00,181.14 L78.25,181.14 L78.50,181.30 L78.75,181.30 L79.00,181.30 L79.25,181.30 L79.50,181.30 L79.75,181.30 L80.00,181.15 L80.25,181.15 L80.50,181.16 L80.75,181.16 L81.00,181.30 L81.25,181.30 L81.50,181.30 L81.75,181.30 L82.00,181.30 L82.25,181.30 L82.50,177.97 L82.75,177.97 L83.00,178.60 L83.25,178.60 L83.50,179.27 L83.75,179.27 L84.00,180.58 L84.25,180.58 L84.50,181.19 L84.75,181.19 L85.00,181.30 L85.25,181.30 L85.50,181.30 L85.75,181.30 L86.00,181.30 L86.25,181.30 L86.50,179.95 L86.75,179.95 L87.00,180.02 L87.25,180.02 L87.50,181.30 L87.75,181.30 L88.00,179.96 L88.25,179.96 L88.50,181.11 L88.75,181.11 L89.00,181.30 L89.25,181.30 L89.50,181.30 L89.75,181.30 L90.00,178.11 L90.25,178.11 L90.50,181.30 L90.75,181.30 L91.00,181.30 L91.25,181.30 L91.50,181.30 L91.75,181.30 L92.00,178.13 L92.25,178.13 L92.50,181.29 L92.75,181.29 L93.00,180.05 L93.25,180.05 L93.50,179.51 L93.75,179.51 L94.00,181.30 L94.25,181.30 L94.50,181.30 L94.75,181.30 L95.00,181.30 L95.25,181.30 L95.50,178.76 L95.75,178.76 L96.00,179.16 L96.25,179.16 L96.50,178.75 L96.75,178.75 L97.00,178.74 L97.25,178.74 L97.50,179.88 L97.75,179.88 L98.00,178.66 L98.25,178.66 L98.50,180.65 L98.75,180.65 L99.00,181.30 L99.25,181.30 L99.50,180.22 L99.75,180.22 L100.00,178.83 L100.25,178.83 L100.50,181.26 L100.75,181.26 L101.00,179.40 L101.25,179.40 L101.50,181.30 L101.75,181.30 L102.00,181.30 L102.25,181.30 L102.50,181.30 L102.75,181.30 L103.00,180.41 L103.25,180.41 L103.50,179.29 L103.75,179.29 L104.00,181.16 L104.25,181.16 L104.50,178.15 L104.75,178.15 L105.00,181.27 L105.25,181.27 L105.50,178.70 L105.75,178.70 L106.00,180.76 L106.25,180.76 L106.50,181.30 L106.75,181.30 L107.00,181.29 L107.25,181.29 L107.50,181.30 L107.75,181.30 L108.00,181.06 L108.25,181.06 L108.50,181.30 L108.75,181.30 L109.00,179.23 L109.25,179.23 L109.50,178.77 L109.75,178.77 L110.00,181.25 L110.25,181.25 L110.50,180.99 L110.75,180.99 L111.00,178.58 L111.25,178.58 L111.50,181.30 L111.75,181.30 L112.00,180.41 L112.25,180.41 L112.50,179.67 L112.75,179.67 L113.00,181.29 L113.25,181.29 L113.50,178.94 L113.75,178.94 L114.00,179.40 L114.25,179.40 L114.50,181.30 L114.75,181.30 L115.00,179.86 L115.25,179.86 L115.50,181.04 L115.75,181.04 L116.00,181.30 L116.25,181.30 L116.50,178.53 L116.75,178.53 L117.00,178.81 L117.25,178.81 L117.50,180.14 L117.75,180.14 L118.00,181.25 L118.25,181.25 L118.50,180.94 L118.75,180.94 L119.00,181.26 L119.25,181.26 L119.50,181.25 L119.75,181.25 L120.00,181.30 L120.25,181.30 L120.50,178.59 L120.75,178.59 L121.00,180.29 L121.25,180.29 L121.50,180.11 L121.75,180.11 L122.00,180.84 L122.25,180.84 L122.50,181.30 L122.75,181.30 L123.00,179.96 L123.25,179.96 L123.50,181.06 L123.75,181.06 L124.00,181.30 L124.25,181.30 L124.50,181.30 L124.75,181.30 L125.00,181.30 L125.25,181.30 L125.50,181.30 L125.75,181.30 L126.00,181.30 L126.25,181.30 L126.50,181.30 L126.75,181.30 L127.00,180.26 L127.25,180.26 L127.50,180.30 L127.75,180.30 L128.00,181.30 L128.25,181.30 L128.50,178.13 L128.75,178.13 L129.00,179.98 L129.25,179.98 L129.50,179.52 L129.75,179.52 L130.00,179.04 L130.25,179.04 L130.50,178.42 L130.75,178.42 L131.00,180.20 L131.25,180.20 L131.50,181.30 L131.75,181.30 L132.00,181.04 L132.25,181.04 L132.50,181.01 L132.75,181.01 L133.00,177.93 L133.25,177.93 L133.50,181.30 L133.75,181.30 L134.00,180.85 L134.25,180.85 L134.50,181.30 L134.75,181.30 L135.00,180.82 L135.25,180.82 L135.50,181.22 L135.75,181.22 L136.00,179.78 L136.25,179.78 L136.50,180.93 L136.75,180.93 L137.00,181.30 L137.25,181.30 L137.50,181.24 L137.75,181.24 L138.00,178.09 L138.25,178.09 L138.50,181.30 L138.75,181.30 L139.00,181.30 L139.25,181.30 L139.50,181.04 L139.75,181.04 L140.00,181.13 L140.25,181.13 L140.50,178.41 L140.75,173.73 L141.00,169.73 L141.25,166.25 L141.50,163.10 L141.75,166.25 L142.00,169.73 L142.25,173.73 L142.50,181.30 L142.75,181.30 L143.00,179.27 L143.25,179.27 L143.50,180.40 L143.75,180.40 L144.00,181.30 L144.25,181.30 L144.50,180.48 L144.75,180.48 L145.00,181.28 L145.25,181.28 L145.50,181.03 L145.75,181.03 L146.00,181.29 L146.25,181.29 L146.50,181.30 L146.75,181.30 L147.00,178.67 L147.25,178.67 L147.50,179.59 L147.75,179.59 L148.00,178.24 L148.25,178.24 L148.50,181.30 L148.75,181.30 L149.00,180.35 L149.25,180.35 L149.50,179.63 L149.75,179.63 L150.00,177.14 L150.25,174.54 L150.50,172.32 L150.75,172.75 L151.00,175.02 L151.25,181.29 L151.50,178.77 L151.75,178.77 L152.00,180.87 L152.25,180.87 L152.50,178.85 L152.75,178.85 L153.00,180.88 L153.25,180.88 L153.50,181.30 L153.75,181.30 L154.00,181.30 L154.25,181.30 L154.50,178.19 L154.75,178.19 L155.00,181.24 L155.25,181.24 L155.50,181.30 L155.75,181.30 L156.00,181.30 L156.25,181.30 L156.50,180.37 L156.75,180.37 L157.00,179.66 L157.25,179.66 L157.50,179.07 L157.75,179.07 L158.00,181.30 L158.25,181.30 L158.50,178.46 L158.75,178.46 L159.00,181.30 L159.25,181.30 L159.50,178.94 L159.75,178.94 L160.00,181.30 L160.25,181.30 L160.50,181.28 L160.75,181.28 L161.00,178.53 L161.25,178.53 L161.50,180.00 L161.75,180.00 L162.00,181.30 L162.25,181.30 L162.50,181.30 L162.75,181.30 L163.00,181.13 L163.25,181.13 L163.50,181.30 L163.75,181.30 L164.00,181.05 L164.25,181.05 L164.50,181.30 L164.75,181.30 L165.00,180.98 L165.25,180.98 L165.50,181.30 L165.75,181.30 L166.00,181.30 L166.25,181.30 L166.50,181.30 L166.75,181.30 L167.00,181.30 L167.25,181.30 L167.50,179.75 L167.75,179.75 L168.00,180.47 L168.25,180.47 L168.50,181.30 L168.75,181.30 L169.00,181.29 L169.25,181.29 L169.50,180.57 L169.75,180.57 L170.00,180.20 L170.25,180.20 L170.50,181.20 L170.75,181.20 L171.00,179.32 L171.25,179.32 L171.50,181.30 L171.75,181.30 L172.00,181.27 L172.25,181.27 L172.50,181.30 L172.75,181.30 L173.00,181.30 L173.25,181.30 L173.50,181.30 L173.75,181.30 L174.00,181.30 L174.25,181.30 L174.50,180.10 L174.75,180.10 L175.00,179.58 L175.25,179.58 L175.50,180.63 L175.75,180.63 L176.00,180.94 L176.25,180.94 L176.50,181.30 L176.75,181.30 L177.00,179.13 L177.25,179.13 L177.50,180.88 L177.75,180.88 L178.00,181.30 L178.25,181.30 L178.50,178.09 L178.75,178.09 L179.00,178.84 L179.25,178.84 L179.50,179.79 L179.75,179.79 L180.00,179.73 L180.25,179.73 L180.50,181.23 L180.75,181.23 L181.00,178.69 L181.25,178.69 L181.50,181.30 L181.75,181.30 L182.00,179.46 L182.25,179.46 L182.50,180.08 L182.75,180.08 L183.00,181.30 L183.25,181.30 L183.50,180.11 L183.75,180.11 L184.00,180.52 L184.25,180.52 L184.50,181.12 L184.75,181.12 L185.00,178.51 L185.25,178.51 L185.50,179.45 L185.75,179.45 L186.00,178.00 L186.25,178.00 L186.50,181.28 L186.75,181.28 L187.00,178.38 L187.25,178.38 L187.50,178.67 L187.75,178.67 L188.00,181.27 L188.25,181.27 L188.50,180.70 L188.75,180.70 L189.00,181.30 L189.25,175.51 L189.50,172.45 L189.75,169.80 L190.00,171.35 L190.25,174.22 L190.50,178.11 L190.75,171.86 L191.00,168.04 L191.25,165.96 L191.50,169.50 L191.75,173.58 L192.00,178.94 L192.25,178.94 L192.50,179.66 L192.75,179.66 L193.00,172.11 L193.25,168.78 L193.50,165.80 L193.75,168.78 L194.00,172.11 L194.25,181.01 L194.50,178.03 L194.75,178.03 L195.00,176.46 L195.25,174.25 L195.50,172.30 L195.75,174.25 L196.00,176.46 L196.25,181.18 L196.50,181.30 L196.75,181.30 L197.00,181.30 L197.25,181.30 L197.50,178.06 L197.75,178.06 L198.00,178.58 L198.25,178.58 L198.50,179.90 L198.75,179.90 L199.00,181.30 L199.25,181.30 L199.50,181.20 L199.75,181.20 L200.00,180.63 L200.25,180.63 L200.50,180.42 L200.75,180.42 L201.00,179.53 L201.25,179.53 L201.50,181.30 L201.75,181.30 L202.00,181.30 L202.25,181.30 L202.50,176.46 L202.75,174.25 L203.00,172.30 L203.25,174.25 L203.50,176.46 L203.75,180.09 L204.00,180.93 L204.25,180.93 L204.50,178.30 L204.75,178.30 L205.00,175.30 L205.25,171.56 L205.50,168.36 L205.75,165.48 L206.00,162.80 L206.25,165.48 L206.50,168.36 L206.75,171.56 L207.00,175.30 L207.25,178.34 L207.50,181.30 L207.75,181.30 L208.00,174.85 L208.25,171.90 L208.50,169.30 L208.75,171.90 L209.00,174.85 L209.25,180.67 L209.50,180.72 L209.75,180.72 L210.00,181.30 L210.25,181.30 L210.50,176.46 L210.75,174.25 L211.00,172.30 L211.25,174.25 L211.50,176.46 L211.75,180.36 L212.00,181.30 L212.25,181.30 L212.50,178.09 L212.75,178.09 L213.00,175.39 L213.25,172.68 L213.50,170.30 L213.75,172.68 L214.00,175.39 L214.25,179.63 L214.50,180.75 L214.75,180.75 L215.00,181.30 L215.25,181.30 L215.50,177.54 L215.75,175.81 L216.00,174.30 L216.25,175.81 L216.50,177.54 L216.75,181.03 L217.00,181.23 L217.25,181.23 L217.50,179.86 L217.75,179.86 L218.00,178.20 L218.25,178.20 L218.50,181.30 L218.75,181.30 L219.00,180.99 L219.25,180.99 L219.50,180.41 L219.75,180.41 L220.00,178.84 L220.25,178.84 L220.50,180.65 L220.75,180.65 L221.00,178.71 L221.25,178.71 L221.50,177.99 L221.75,177.99 L222.00,179.69 L222.25,179.69 L222.50,181.30 L222.75,181.30 L223.00,181.30 L223.25,181.30 L223.50,181.30 L223.75,181.30 L224.00,178.32 L224.25,178.32 L224.50,180.18 L224.75,180.18 L225.00,181.12 L225.25,181.12 L225.50,180.64 L225.75,180.64 L226.00,181.30 L226.25,181.30 L226.50,180.65 L226.75,180.65 L227.00,179.79 L227.25,179.79 L227.50,181.30 L227.75,181.30 L228.00,181.30 L228.25,181.30 L228.50,180.80 L228.75,180.80 L229.00,180.46 L229.25,180.46 L229.50,181.30 L229.75,181.30 L230.00,181.30 L230.25,181.30 L230.50,180.76 L230.75,180.76 L231.00,180.78 L231.25,180.78 L231.50,181.30 L231.75,181.30 L232.00,178.95 L232.25,178.95 L232.50,181.30 L232.75,181.30 L233.00,181.30 L233.25,181.30 L233.50,178.48 L233.75,178.48 L234.00,181.30 L234.25,181.30 L234.50,181.30 L234.75,181.30 L235.00,181.30 L235.25,181.30 L235.50,180.50 L235.75,180.50 L236.00,181.28 L236.25,181.28 L236.50,179.90 L236.75,179.90 L237.00,180.53 L237.25,180.53 L237.50,179.80 L237.75,179.80 L238.00,180.75 L238.25,180.75 L238.50,181.28 L238.75,181.28 L239.00,181.01 L239.25,181.01 L239.50,181.10 L239.75,181.10 L240.00,181.27 L240.25,181.27 L240.50,181.29 L240.75,181.29 L241.00,181.30 L241.25,181.30 L241.50,179.40 L241.75,179.40 L242.00,180.78 L242.25,180.78 L242.50,180.94 L242.75,180.94 L243.00,180.48 L243.25,180.48 L243.50,181.14 L243.75,181.14 L244.00,181.23 L244.25,181.23 L244.50,179.98 L244.75,179.98 L245.00,180.27 L245.25,180.27 L245.50,181.21 L245.75,181.21 L246.00,181.30 L246.25,181.30 L246.50,179.62 L246.75,179.62 L247.00,181.30 L247.25,181.30 L247.50,181.00 L247.75,181.00 L248.00,181.03 L248.25,181.03 L248.50,181.03 L248.75,181.03 L249.00,180.61 L249.25,180.61 L249.50,180.92 L249.75,180.92 L250.00,181.03 L250.25,181.03 L250.50,181.30 L250.75,181.30 L251.00,181.01 L251.25,181.01 L251.50,181.30 L251.75,181.30 L252.00,181.28 L252.25,181.28 L252.50,181.30 L252.75,181.30 L253.00,181.30 L253.25,181.30 L253.50,181.30 L253.75,181.30 L254.00,179.96 L254.25,179.96 L254.50,181.17 L254.75,181.17 L255.00,178.14 L255.25,178.14 L255.50,181.15 L255.75,181.15 L256.00,179.59 L256.25,179.59 L256.50,181.28 L256.75,181.28 L257.00,181.28 L257.25,181.28 L257.50,181.30 L257.75,181.30 L258.00,181.30 L258.25,181.30 L258.50,179.56 L258.75,179.56 L259.00,178.09 L259.25,178.09 L259.50,180.96 L259.75,180.96 L260.00,181.30 L260.25,181.30 L260.50,179.44 L260.75,179.44 L261.00,180.59 L261.25,180.59 L261.50,181.30 L261.75,181.30 L262.00,179.59 L262.25,179.59 L262.50,181.28 L262.75,181.28 L263.00,181.19 L263.00,181.30 Z" fill="#ff8c1a" fill-opacity="1.0" stroke="#ff8c1a" stroke-width="0.5" stroke-opacity="0.5"/>
<line x1="43" y1="181.0" x2="263" y2="181.0" stroke="#ff8c1a" stroke-width="0.9"/>
<path d="M43.00,201.40 L43.00,199.43 L43.25,199.43 L43.50,201.40 L43.75,201.40 L44.00,201.40 L44.25,201.40 L44.50,198.22 L44.75,198.22 L45.00,200.69 L45.25,200.69 L45.50,201.40 L45.75,201.40 L46.00,198.38 L46.25,198.38 L46.50,200.68 L46.75,200.68 L47.00,200.41 L47.25,200.41 L47.50,201.40 L47.75,201.40 L48.00,201.17 L48.25,201.17 L48.50,201.40 L48.75,201.40 L49.00,201.40 L49.25,201.40 L49.50,199.09 L49.75,199.09 L50.00,200.08 L50.25,200.08 L50.50,201.40 L50.75,201.40 L51.00,201.40 L51.25,201.40 L51.50,201.27 L51.75,201.27 L52.00,201.40 L52.25,201.40 L52.50,201.40 L52.75,201.40 L53.00,197.91 L53.25,197.91 L53.50,199.78 L53.75,199.78 L54.00,198.08 L54.25,198.08 L54.50,197.87 L54.75,197.87 L55.00,201.40 L55.25,201.40 L55.50,201.00 L55.75,201.00 L56.00,201.35 L56.25,201.35 L56.50,201.13 L56.75,196.09 L57.00,193.94 L57.25,192.77 L57.50,194.76 L57.75,197.06 L58.00,198.95 L58.25,198.95 L58.50,201.10 L58.75,201.10 L59.00,199.64 L59.25,199.64 L59.50,197.81 L59.75,197.81 L60.00,199.38 L60.25,199.38 L60.50,201.40 L60.75,201.40 L61.00,199.15 L61.25,199.15 L61.50,200.26 L61.75,200.26 L62.00,201.40 L62.25,201.40 L62.50,197.96 L62.75,197.96 L63.00,191.45 L63.25,187.85 L63.50,184.62 L63.75,185.24 L64.00,188.53 L64.25,192.24 L64.50,201.01 L64.75,201.01 L65.00,199.23 L65.25,199.23 L65.50,199.39 L65.75,199.39 L66.00,201.40 L66.25,201.40 L66.50,201.40 L66.75,201.40 L67.00,198.04 L67.25,198.04 L67.50,201.04 L67.75,201.04 L68.00,198.25 L68.25,198.25 L68.50,198.21 L68.75,198.21 L69.00,201.11 L69.25,201.11 L69.50,201.32 L69.75,201.32 L70.00,201.34 L70.25,201.34 L70.50,197.63 L70.75,197.63 L71.00,201.40 L71.25,201.40 L71.50,201.40 L71.75,201.40 L72.00,200.88 L72.25,200.88 L72.50,200.19 L72.75,200.19 L73.00,201.40 L73.25,201.40 L73.50,200.83 L73.75,200.83 L74.00,198.27 L74.25,198.27 L74.50,200.60 L74.75,200.60 L75.00,201.40 L75.25,201.40 L75.50,199.49 L75.75,199.49 L76.00,201.40 L76.25,201.40 L76.50,199.15 L76.75,199.15 L77.00,200.79 L77.25,200.79 L77.50,198.78 L77.75,198.78 L78.00,200.73 L78.25,200.73 L78.50,201.40 L78.75,201.40 L79.00,201.40 L79.25,201.40 L79.50,201.40 L79.75,201.40 L80.00,200.62 L80.25,200.62 L80.50,200.65 L80.75,200.65 L81.00,200.88 L81.25,200.88 L81.50,200.96 L81.75,200.96 L82.00,201.40 L82.25,201.40 L82.50,201.40 L82.75,201.40 L83.00,200.58 L83.25,200.58 L83.50,201.38 L83.75,201.38 L84.00,199.19 L84.25,199.19 L84.50,201.40 L84.75,201.40 L85.00,199.16 L85.25,199.16 L85.50,201.40 L85.75,201.40 L86.00,199.86 L86.25,196.45 L86.50,193.84 L86.75,194.33 L87.00,199.64 L87.25,199.64 L87.50,200.62 L87.75,200.62 L88.00,201.40 L88.25,201.40 L88.50,201.14 L88.75,201.14 L89.00,201.40 L89.25,201.40 L89.50,200.25 L89.75,200.25 L90.00,200.39 L90.25,200.39 L90.50,199.82 L90.75,199.82 L91.00,198.97 L91.25,198.97 L91.50,199.09 L91.75,199.09 L92.00,199.96 L92.25,199.96 L92.50,198.89 L92.75,198.89 L93.00,198.79 L93.25,198.79 L93.50,201.40 L93.75,201.40 L94.00,197.80 L94.25,197.80 L94.50,201.40 L94.75,201.40 L95.00,200.46 L95.25,200.46 L95.50,198.83 L95.75,198.83 L96.00,201.40 L96.25,201.40 L96.50,199.71 L96.75,199.71 L97.00,199.50 L97.25,199.50 L97.50,199.20 L97.75,199.20 L98.00,199.85 L98.25,199.85 L98.50,200.05 L98.75,200.05 L99.00,201.40 L99.25,201.40 L99.50,199.55 L99.75,199.55 L100.00,201.33 L100.25,201.33 L100.50,199.93 L100.75,199.93 L101.00,199.74 L101.25,199.74 L101.50,201.40 L101.75,201.40 L102.00,201.26 L102.25,201.26 L102.50,201.35 L102.75,201.35 L103.00,201.31 L103.25,201.31 L103.50,197.51 L103.75,195.73 L104.00,196.76 L104.25,200.95 L104.50,200.21 L104.75,200.21 L105.00,198.36 L105.25,198.36 L105.50,200.88 L105.75,200.88 L106.00,200.87 L106.25,200.87 L106.50,198.87 L106.75,198.87 L107.00,201.40 L107.25,201.40 L107.50,201.38 L107.75,201.38 L108.00,201.05 L108.25,201.05 L108.50,197.94 L108.75,197.94 L109.00,201.40 L109.25,201.40 L109.50,198.99 L109.75,198.99 L110.00,200.98 L110.25,200.98 L110.50,200.18 L110.75,200.18 L111.00,197.95 L111.25,197.95 L111.50,201.40 L111.75,201.40 L112.00,201.02 L112.25,201.02 L112.50,201.40 L112.75,201.40 L113.00,201.37 L113.25,201.37 L113.50,200.10 L113.75,200.10 L114.00,200.03 L114.25,200.03 L114.50,201.40 L114.75,201.40 L115.00,200.80 L115.25,200.80 L115.50,201.15 L115.75,201.15 L116.00,201.40 L116.25,201.40 L116.50,197.92 L116.75,197.92 L117.00,201.40 L117.25,201.40 L117.50,201.20 L117.75,201.20 L118.00,201.40 L118.25,201.40 L118.50,200.85 L118.75,200.85 L119.00,197.73 L119.25,197.73 L119.50,201.16 L119.75,201.16 L120.00,201.36 L120.25,201.36 L120.50,200.76 L120.75,200.76 L121.00,199.19 L121.25,199.19 L121.50,201.40 L121.75,201.40 L122.00,200.45 L122.25,200.45 L122.50,198.12 L122.75,198.12 L123.00,201.40 L123.25,201.40 L123.50,201.19 L123.75,201.19 L124.00,197.69 L124.25,197.69 L124.50,200.13 L124.75,200.13 L125.00,199.95 L125.25,199.95 L125.50,199.42 L125.75,199.42 L126.00,199.32 L126.25,199.32 L126.50,200.45 L126.75,200.45 L127.00,201.14 L127.25,201.14 L127.50,200.70 L127.75,200.70 L128.00,199.41 L128.25,199.41 L128.50,201.40 L128.75,201.40 L129.00,200.73 L129.25,200.73 L129.50,201.40 L129.75,201.40 L130.00,201.40 L130.25,201.40 L130.50,201.40 L130.75,201.40 L131.00,201.40 L131.25,201.40 L131.50,200.27 L131.75,200.27 L132.00,200.01 L132.25,200.01 L132.50,198.30 L132.75,198.30 L133.00,200.92 L133.25,200.92 L133.50,201.40 L133.75,201.40 L134.00,201.14 L134.25,201.14 L134.50,201.40 L134.75,201.40 L135.00,198.84 L135.25,198.84 L135.50,200.80 L135.75,200.80 L136.00,199.20 L136.25,199.20 L136.50,201.40 L136.75,201.40 L137.00,200.65 L137.25,200.65 L137.50,200.58 L137.75,200.58 L138.00,201.34 L138.25,201.34 L138.50,199.00 L138.75,199.00 L139.00,201.25 L139.25,201.25 L139.50,201.40 L139.75,201.40 L140.00,201.40 L140.25,201.40 L140.50,201.40 L140.75,201.40 L141.00,197.78 L141.25,194.28 L141.50,191.40 L141.75,194.28 L142.00,201.40 L142.25,201.40 L142.50,201.40 L142.75,201.40 L143.00,199.95 L143.25,199.95 L143.50,201.40 L143.75,201.40 L144.00,201.35 L144.25,201.35 L144.50,198.25 L144.75,198.25 L145.00,200.12 L145.25,200.12 L145.50,201.33 L145.75,201.33 L146.00,201.40 L146.25,201.40 L146.50,200.95 L146.75,200.95 L147.00,201.39 L147.25,201.39 L147.50,199.43 L147.75,199.43 L148.00,201.40 L148.25,201.40 L148.50,200.80 L148.75,200.80 L149.00,200.16 L149.25,200.16 L149.50,198.09 L149.75,198.09 L150.00,201.39 L150.25,196.64 L150.50,195.08 L150.75,193.67 L151.00,194.50 L151.25,195.99 L151.50,197.69 L151.75,201.40 L152.00,200.07 L152.25,200.07 L152.50,200.37 L152.75,200.37 L153.00,199.38 L153.25,199.38 L153.50,201.35 L153.75,201.35 L154.00,200.97 L154.25,200.97 L154.50,201.31 L154.75,201.31 L155.00,199.90 L155.25,199.90 L155.50,199.84 L155.75,199.84 L156.00,201.36 L156.25,201.36 L156.50,201.24 L156.75,201.24 L157.00,201.40 L157.25,201.40 L157.50,201.08 L157.75,201.08 L158.00,201.40 L158.25,201.40 L158.50,199.53 L158.75,199.53 L159.00,201.34 L159.25,201.34 L159.50,201.40 L159.75,201.40 L160.00,201.26 L160.25,201.26 L160.50,197.82 L160.75,197.82 L161.00,198.94 L161.25,198.94 L161.50,200.05 L161.75,200.05 L162.00,201.24 L162.25,201.24 L162.50,200.10 L162.75,200.10 L163.00,200.93 L163.25,200.93 L163.50,198.87 L163.75,198.87 L164.00,199.05 L164.25,199.05 L164.50,198.73 L164.75,198.73 L165.00,200.20 L165.25,200.20 L165.50,199.44 L165.75,199.44 L166.00,201.38 L166.25,201.38 L166.50,201.29 L166.75,201.29 L167.00,198.46 L167.25,198.46 L167.50,199.32 L167.75,199.32 L168.00,200.68 L168.25,200.68 L168.50,201.40 L168.75,201.40 L169.00,200.81 L169.25,200.81 L169.50,201.38 L169.75,201.38 L170.00,201.33 L170.25,201.33 L170.50,200.93 L170.75,200.93 L171.00,201.40 L171.25,201.40 L171.50,201.21 L171.75,201.21 L172.00,201.33 L172.25,201.33 L172.50,201.24 L172.75,201.24 L173.00,201.40 L173.25,201.40 L173.50,201.40 L173.75,201.40 L174.00,198.10 L174.25,198.10 L174.50,199.81 L174.75,199.81 L175.00,198.04 L175.25,198.04 L175.50,199.83 L175.75,199.83 L176.00,199.80 L176.25,199.80 L176.50,201.33 L176.75,201.33 L177.00,201.40 L177.25,201.40 L177.50,201.39 L177.75,201.39 L178.00,197.82 L178.25,197.82 L178.50,201.11 L178.75,201.11 L179.00,201.16 L179.25,201.16 L179.50,199.57 L179.75,199.57 L180.00,201.23 L180.25,201.23 L180.50,198.08 L180.75,198.08 L181.00,200.80 L181.25,200.80 L181.50,201.40 L181.75,201.40 L182.00,201.39 L182.25,201.39 L182.50,201.40 L182.75,201.40 L183.00,201.40 L183.25,201.40 L183.50,197.69 L183.75,197.69 L184.00,201.02 L184.25,201.02 L184.50,201.39 L184.75,201.39 L185.00,201.40 L185.25,201.40 L185.50,198.12 L185.75,198.12 L186.00,201.23 L186.25,201.23 L186.50,200.90 L186.75,200.90 L187.00,201.21 L187.25,201.21 L187.50,201.12 L187.75,201.12 L188.00,201.40 L188.25,201.40 L188.50,201.40 L188.75,201.40 L189.00,200.54 L189.25,196.41 L189.50,193.77 L189.75,191.48 L190.00,189.40 L190.25,191.48 L190.50,193.77 L190.75,194.33 L191.00,190.59 L191.25,187.35 L191.50,184.40 L191.75,187.35 L192.00,190.59 L192.25,194.33 L192.50,200.62 L192.75,196.41 L193.00,193.77 L193.25,191.48 L193.50,189.40 L193.75,191.48 L194.00,193.77 L194.25,196.41 L194.50,200.75 L194.75,200.75 L195.00,201.40 L195.25,201.40 L195.50,201.37 L195.75,201.37 L196.00,201.38 L196.25,201.38 L196.50,201.40 L196.75,201.40 L197.00,201.40 L197.25,201.40 L197.50,201.36 L197.75,201.36 L198.00,201.23 L198.25,201.23 L198.50,200.81 L198.75,200.81 L199.00,201.23 L199.25,201.23 L199.50,199.66 L199.75,199.66 L200.00,201.29 L200.25,201.29 L200.50,200.96 L200.75,200.96 L201.00,200.83 L201.25,200.83 L201.50,199.37 L201.75,199.37 L202.00,198.41 L202.25,198.41 L202.50,199.32 L202.75,199.32 L203.00,200.77 L203.25,200.77 L203.50,201.40 L203.75,201.40 L204.00,191.73 L204.25,187.29 L204.50,183.40 L204.75,187.29 L205.00,191.73 L205.25,199.00 L205.50,201.36 L205.75,201.36 L206.00,191.73 L206.25,187.29 L206.50,183.40 L206.75,187.29 L207.00,191.73 L207.25,201.39 L207.50,201.40 L207.75,201.40 L208.00,193.88 L208.25,190.43 L208.50,187.40 L208.75,190.43 L209.00,193.88 L209.25,198.67 L209.50,201.40 L209.75,201.40 L210.00,201.25 L210.25,201.25 L210.50,200.99 L210.75,200.99 L211.00,201.40 L211.25,201.40 L211.50,198.90 L211.75,198.90 L212.00,201.38 L212.25,201.38 L212.50,201.32 L212.75,201.32 L213.00,200.76 L213.25,198.07 L213.50,196.31 L213.75,194.79 L214.00,193.40 L214.25,194.79 L214.50,196.31 L214.75,198.07 L215.00,201.40 L215.25,201.40 L215.50,198.18 L215.75,196.70 L216.00,195.40 L216.25,196.70 L216.50,198.18 L216.75,201.40 L217.00,197.85 L217.25,197.85 L217.50,201.37 L217.75,201.37 L218.00,201.40 L218.25,201.40 L218.50,201.39 L218.75,201.39 L219.00,201.40 L219.25,201.40 L219.50,200.27 L219.75,200.27 L220.00,198.52 L220.25,198.52 L220.50,201.27 L220.75,201.27 L221.00,201.29 L221.25,201.29 L221.50,201.01 L221.75,201.01 L222.00,201.40 L222.25,201.40 L222.50,201.02 L222.75,201.02 L223.00,197.75 L223.25,197.75 L223.50,201.40 L223.75,201.40 L224.00,201.40 L224.25,201.40 L224.50,200.89 L224.75,200.89 L225.00,198.87 L225.25,198.87 L225.50,201.40 L225.75,201.40 L226.00,201.38 L226.25,201.38 L226.50,198.38 L226.75,198.38 L227.00,199.09 L227.25,199.09 L227.50,199.76 L227.75,199.76 L228.00,201.40 L228.25,201.40 L228.50,199.07 L228.75,199.07 L229.00,201.40 L229.25,201.40 L229.50,200.22 L229.75,200.22 L230.00,200.92 L230.25,200.92 L230.50,201.40 L230.75,201.40 L231.00,200.94 L231.25,200.94 L231.50,199.65 L231.75,199.65 L232.00,197.75 L232.25,197.75 L232.50,201.40 L232.75,201.40 L233.00,201.40 L233.25,201.40 L233.50,199.82 L233.75,199.82 L234.00,199.08 L234.25,199.08 L234.50,200.19 L234.75,200.19 L235.00,200.49 L235.25,200.49 L235.50,201.39 L235.75,201.39 L236.00,201.01 L236.25,201.01 L236.50,199.32 L236.75,199.32 L237.00,201.12 L237.25,201.12 L237.50,201.40 L237.75,201.40 L238.00,199.58 L238.25,199.58 L238.50,199.36 L238.75,199.36 L239.00,197.95 L239.25,197.95 L239.50,201.40 L239.75,201.40 L240.00,198.82 L240.25,198.82 L240.50,200.11 L240.75,200.11 L241.00,200.51 L241.25,200.51 L241.50,201.40 L241.75,201.40 L242.00,197.81 L242.25,197.81 L242.50,200.91 L242.75,200.91 L243.00,200.92 L243.25,200.92 L243.50,199.91 L243.75,199.91 L244.00,201.40 L244.25,201.40 L244.50,201.40 L244.75,201.40 L245.00,200.93 L245.25,200.93 L245.50,199.73 L245.75,199.73 L246.00,199.58 L246.25,199.58 L246.50,198.48 L246.75,198.48 L247.00,201.12 L247.25,201.12 L247.50,200.06 L247.75,200.06 L248.00,201.40 L248.25,201.40 L248.50,200.01 L248.75,200.01 L249.00,201.40 L249.25,201.40 L249.50,201.39 L249.75,201.39 L250.00,198.88 L250.25,198.88 L250.50,201.40 L250.75,201.40 L251.00,200.85 L251.25,200.85 L251.50,200.46 L251.75,200.46 L252.00,201.40 L252.25,201.40 L252.50,201.17 L252.75,201.17 L253.00,197.87 L253.25,197.87 L253.50,201.40 L253.75,201.40 L254.00,200.33 L254.25,200.33 L254.50,201.31 L254.75,201.31 L255.00,200.19 L255.25,200.19 L255.50,199.72 L255.75,199.72 L256.00,201.39 L256.25,201.39 L256.50,198.85 L256.75,198.85 L257.00,201.40 L257.25,201.40 L257.50,198.74 L257.75,198.74 L258.00,198.19 L258.25,198.19 L258.50,199.68 L258.75,199.68 L259.00,201.40 L259.25,201.40 L259.50,201.38 L259.75,201.38 L260.00,201.34 L260.25,201.34 L260.50,201.34 L260.75,201.34 L261.00,201.37 L261.25,201.37 L261.50,201.40 L261.75,201.40 L262.00,198.97 L262.25,198.97 L262.50,201.40 L262.75,201.40 L263.00,198.21 L263.00,201.40 Z" fill="#7a4bb0" fill-opacity="1.0" stroke="#7a4bb0" stroke-width="0.5" stroke-opacity="0.5"/>
<line x1="43" y1="201.1" x2="263" y2="201.1" stroke="#7a4bb0" stroke-width="0.9"/>
<rect x="145.9" y="160" width="8.5" height="42" fill="#f8f0a0" opacity="0.35"/>
<rect x="188.2" y="160" width="8.0" height="42" fill="#f8f0a0" opacity="0.35"/>
<polygon points="44.7,204.2 261.2,204.2 152.95,269.4" fill="url(#ga2)"/>
<g clip-path="url(#ca2)">
<ellipse cx="155.7" cy="240" rx="6" ry="4" fill="#ff0000" opacity="0.12"/>
<ellipse cx="171.9" cy="216.2" rx="4" ry="3" fill="#ff0000" opacity="0.08"/>
<line x1="94.6" y1="204.2" x2="155.7" y2="241" stroke="#ff0000" stroke-width="3" stroke-opacity="0.08" stroke-linecap="round"/>
<line x1="216.8" y1="204.2" x2="155.7" y2="241" stroke="#ff0000" stroke-width="3" stroke-opacity="0.06" stroke-linecap="round"/>
<line x1="110" y1="204.2" x2="150" y2="228.3" stroke="#ff0000" stroke-width="2.5" stroke-opacity="0.05" stroke-linecap="round"/>
</g>
<polygon points="44.7,204.2 261.2,204.2 152.95,269.4" fill="url(#gda2)" filter="url(#densH)"/>
<path d="M45.23,204.15 L46.43,204.95 L47.63,204.15 Z M48.68,204.15 L49.88,204.95 L51.08,204.15 Z M52.13,204.15 L53.33,204.95 L54.53,204.15 Z M55.58,204.15 L56.78,204.95 L57.98,204.15 Z M59.03,204.15 L60.23,204.95 L61.43,204.15 Z M62.48,204.15 L63.68,204.95 L64.88,204.15 Z M65.93,204.15 L67.13,204.95 L68.33,204.15 Z M69.38,204.15 L70.58,204.95 L71.78,204.15 Z M72.83,204.15 L74.03,204.95 L75.23,204.15 Z M76.28,204.15 L77.48,204.95 L78.68,204.15 Z M79.73,204.15 L80.93,204.95 L82.13,204.15 Z M83.18,204.15 L84.38,204.95 L85.58,204.15 Z M86.63,204.15 L87.83,204.95 L89.03,204.15 Z M90.08,204.15 L91.28,204.95 L92.48,204.15 Z M93.53,204.15 L94.73,204.95 L95.93,204.15 Z M96.98,204.15 L98.18,204.95 L99.38,204.15 Z M100.43,204.15 L101.63,204.95 L102.83,204.15 Z M103.88,204.15 L105.08,204.95 L106.28,204.15 Z M107.33,204.15 L108.53,204.95 L109.73,204.15 Z M110.78,204.15 L111.98,204.95 L113.18,204.15 Z M114.23,204.15 L115.43,204.95 L116.63,204.15 Z M117.68,204.15 L118.88,204.95 L120.08,204.15 Z M121.13,204.15 L122.33,204.95 L123.53,204.15 Z M124.58,204.15 L125.78,204.95 L126.98,204.15 Z M128.03,204.15 L129.23,204.95 L130.43,204.15 Z M131.48,204.15 L132.68,204.95 L133.88,204.15 Z M134.93,204.15 L136.13,204.95 L137.33,204.15 Z M138.38,204.15 L139.58,204.95 L140.78,204.15 Z M141.83,204.15 L143.03,204.95 L144.22,204.15 Z M145.28,204.15 L146.47,204.95 L147.67,204.15 Z M148.72,204.15 L149.92,204.95 L151.12,204.15 Z M152.17,204.15 L153.37,204.95 L154.57,204.15 Z M155.62,204.15 L156.82,204.95 L158.02,204.15 Z M159.07,204.15 L160.27,204.95 L161.47,204.15 Z M162.52,204.15 L163.72,204.95 L164.92,204.15 Z M165.97,204.15 L167.17,204.95 L168.37,204.15 Z M169.42,204.15 L170.62,204.95 L171.82,204.15 Z M172.87,204.15 L174.07,204.95 L175.27,204.15 Z M176.32,204.15 L177.52,204.95 L178.72,204.15 Z M179.77,204.15 L180.97,204.95 L182.17,204.15 Z M183.22,204.15 L184.42,204.95 L185.62,204.15 Z M186.67,204.15 L187.87,204.95 L189.07,204.15 Z M190.12,204.15 L191.32,204.95 L192.52,204.15 Z M193.57,204.15 L194.77,204.95 L195.97,204.15 Z M197.02,204.15 L198.22,204.95 L199.42,204.15 Z M200.47,204.15 L201.67,204.95 L202.87,204.15 Z M203.92,204.15 L205.12,204.95 L206.32,204.15 Z M207.37,204.15 L208.57,204.95 L209.77,204.15 Z M210.82,204.15 L212.02,204.95 L213.22,204.15 Z M214.27,204.15 L215.47,204.95 L216.67,204.15 Z M217.72,204.15 L218.92,204.95 L220.12,204.15 Z M221.17,204.15 L222.37,204.95 L223.57,204.15 Z M224.62,204.15 L225.82,204.95 L227.02,204.15 Z M228.07,204.15 L229.27,204.95 L230.47,204.15 Z M231.52,204.15 L232.72,204.95 L233.92,204.15 Z M234.97,204.15 L236.17,204.95 L237.37,204.15 Z M238.42,204.15 L239.62,204.95 L240.82,204.15 Z M241.87,204.15 L243.07,204.95 L244.27,204.15 Z M245.32,204.15 L246.52,204.95 L247.72,204.15 Z M248.77,204.15 L249.97,204.95 L251.17,204.15 Z M252.22,204.15 L253.42,204.95 L254.62,204.15 Z M255.67,204.15 L256.87,204.95 L258.07,204.15 Z " fill="#fff" opacity="0.85"/>
<circle cx="171.9" cy="216.2" r="2.8" fill="#ffe0e0" stroke="#000" stroke-width="1.3"/><circle cx="171.9" cy="216.2" r="1.1" fill="#ff5050"/>
<circle cx="155.7" cy="241.0" r="2.8" fill="#ffe0e0" stroke="#000" stroke-width="1.3"/><circle cx="155.7" cy="241.0" r="1.1" fill="#ff3030"/>
<line x1="154.8" y1="219.6" x2="163" y2="217.5" stroke="#000" stroke-width="0.9"/>
<path d="M167.2,216.3 L162.2,215.4 L163.3,219.6 Z" fill="#000"/>
<rect x="37.6" y="230.5" width="8.3" height="16.7" fill="url(#cbar)" stroke="#6a6a6a" stroke-width="0.8"/>
<text x="46.2" y="234.4" font-size="9.0" text-anchor="start" fill="#1a1a1a" >50</text>
<text x="46.2" y="250.5" font-size="9.0" text-anchor="start" fill="#1a1a1a" >0</text>
<text x="207.2" y="252.4" font-size="9.6" text-anchor="start" fill="#1a1a1a" >Raichu</text>
<text x="292.8" y="12.4" font-size="12.5" text-anchor="start" font-weight="bold" fill="#000" >b</text>
<circle cx="387.5" cy="54.2" r="54" fill="#fee5cf"/>
<circle cx="361.0" cy="54" r="32.2" fill="#c8e5c2"/>
<ellipse cx="367" cy="54" rx="34.7" ry="36.4" fill="#e3ddee"/>
<text x="318.6" y="57.7" font-size="9.8" text-anchor="start" fill="#1a1a1a" >1,581</text>
<text x="351.9" y="57.7" font-size="9.8" text-anchor="start" fill="#1a1a1a" >43,449</text>
<text x="406.2" y="57.7" font-size="9.8" text-anchor="start" fill="#1a1a1a" >55,807</text>
<text x="321" y="84" font-size="9.6" text-anchor="start" fill="#1a1a1a" >ICE</text>
<text x="406.3" y="111.9" font-size="9.6" text-anchor="start" fill="#1a1a1a" >Raichu</text>
<text x="286.5" y="122.6" font-size="12.5" text-anchor="start" font-weight="bold" fill="#000" >c</text>
<line x1="330.3" y1="123" x2="330.3" y2="225.4" stroke="#333" stroke-width="1.2"/>
<line x1="329.7" y1="225.2" x2="448.8" y2="225.2" stroke="#333" stroke-width="1.2"/>
<line x1="325.2" y1="154.7" x2="330.3" y2="154.7" stroke="#333" stroke-width="1.2"/>
<text x="316.6" y="158.29999999999998" font-size="9.8" text-anchor="end" fill="#1a1a1a">10</text>
<text x="316.9" y="153.5" font-size="6.8" fill="#1a1a1a">6</text>
<line x1="325.2" y1="186.8" x2="330.3" y2="186.8" stroke="#333" stroke-width="1.2"/>
<text x="316.6" y="190.4" font-size="9.8" text-anchor="end" fill="#1a1a1a">10</text>
<text x="316.9" y="185.60000000000002" font-size="6.8" fill="#1a1a1a">5</text>
<line x1="325.2" y1="219.5" x2="330.3" y2="219.5" stroke="#333" stroke-width="1.2"/>
<text x="316.6" y="223.1" font-size="9.8" text-anchor="end" fill="#1a1a1a">10</text>
<text x="316.9" y="218.3" font-size="6.8" fill="#1a1a1a">4</text>
<line x1="349.8" y1="225.2" x2="349.8" y2="229.5" stroke="#333" stroke-width="1.2"/>
<line x1="389.1" y1="225.2" x2="389.1" y2="229.5" stroke="#333" stroke-width="1.2"/>
<line x1="428.5" y1="225.2" x2="428.5" y2="229.5" stroke="#333" stroke-width="1.2"/>
<text transform="translate(296.5,174.4) rotate(-90)" font-size="10" text-anchor="middle" fill="#1a1a1a">Loop Sizes (bp)</text>
<path d="M349.00,139.00 C348.77,139.67 348.07,141.67 347.60,143.00 C347.13,144.33 346.75,145.83 346.20,147.00 C345.65,148.17 345.12,149.00 344.30,150.00 C343.48,151.00 342.22,152.00 341.30,153.00 C340.38,154.00 339.60,154.83 338.80,156.00 C338.00,157.17 337.10,158.67 336.50,160.00 C335.90,161.33 335.62,162.00 335.20,164.00 C334.78,166.00 334.15,169.50 334.00,172.00 C333.85,174.50 333.97,176.62 334.30,179.00 C334.63,181.38 335.50,183.90 336.00,186.30 C336.50,188.70 336.83,191.02 337.30,193.40 C337.77,195.78 338.27,198.22 338.80,200.60 C339.33,202.98 339.83,205.80 340.50,207.70 C341.17,209.60 341.92,210.70 342.80,212.00 C343.68,213.30 344.93,214.42 345.80,215.50 C346.67,216.58 347.42,217.67 348.00,218.50 C348.58,219.33 349.08,220.17 349.30,220.50 L350.30,220.50 C350.52,220.17 351.02,219.33 351.60,218.50 C352.18,217.67 352.93,216.58 353.80,215.50 C354.67,214.42 355.92,213.30 356.80,212.00 C357.68,210.70 358.43,209.60 359.10,207.70 C359.77,205.80 360.27,202.98 360.80,200.60 C361.33,198.22 361.83,195.78 362.30,193.40 C362.77,191.02 363.10,188.70 363.60,186.30 C364.10,183.90 364.97,181.38 365.30,179.00 C365.63,176.62 365.75,174.50 365.60,172.00 C365.45,169.50 364.82,166.00 364.40,164.00 C363.98,162.00 363.70,161.33 363.10,160.00 C362.50,158.67 361.60,157.17 360.80,156.00 C360.00,154.83 359.22,154.00 358.30,153.00 C357.38,152.00 356.12,151.00 355.30,150.00 C354.48,149.00 353.95,148.17 353.40,147.00 C352.85,145.83 352.47,144.33 352.00,143.00 C351.53,141.67 350.83,139.67 350.60,139.00 Z" fill="#a9d7a4" stroke="#959595" stroke-width="1.8" stroke-linejoin="round"/>
<line x1="349.8" y1="134.5" x2="349.8" y2="214" stroke="#606060" stroke-width="2.1"/>
<line x1="349.8" y1="128.3" x2="349.8" y2="134.5" stroke="#8a8a8a" stroke-width="1"/>
<rect x="345.90000000000003" y="164.9" width="7.8" height="35.69999999999999" fill="#606060"/>
<line x1="346.8" y1="180.4" x2="352.8" y2="180.4" stroke="#fff" stroke-width="1.6"/>
<path d="M387.90,146.50 C387.45,147.77 386.10,152.23 385.20,154.10 C384.30,155.97 383.85,156.22 382.50,157.70 C381.15,159.18 378.58,161.22 377.10,163.00 C375.62,164.78 374.33,166.75 373.60,168.40 C372.87,170.05 372.55,171.40 372.70,172.90 C372.85,174.40 373.82,175.77 374.50,177.40 C375.18,179.03 376.20,181.07 376.80,182.70 C377.40,184.33 377.98,185.87 378.10,187.20 C378.22,188.53 377.07,189.37 377.50,190.70 C377.93,192.03 379.57,193.25 380.70,195.20 C381.83,197.15 383.25,200.02 384.30,202.40 C385.35,204.78 386.28,207.23 387.00,209.50 C387.72,211.77 388.33,214.92 388.60,216.00 L389.60,216.00 C389.87,214.92 390.48,211.77 391.20,209.50 C391.92,207.23 392.85,204.78 393.90,202.40 C394.95,200.02 396.37,197.15 397.50,195.20 C398.63,193.25 400.27,192.03 400.70,190.70 C401.13,189.37 399.98,188.53 400.10,187.20 C400.22,185.87 400.80,184.33 401.40,182.70 C402.00,181.07 403.02,179.03 403.70,177.40 C404.38,175.77 405.35,174.40 405.50,172.90 C405.65,171.40 405.33,170.05 404.60,168.40 C403.87,166.75 402.58,164.78 401.10,163.00 C399.62,161.22 397.05,159.18 395.70,157.70 C394.35,156.22 393.90,155.97 393.00,154.10 C392.10,152.23 390.75,147.77 390.30,146.50 Z" fill="#bfb0d6" stroke="#636363" stroke-width="2.0" stroke-linejoin="round"/>
<line x1="389.1" y1="133.5" x2="389.1" y2="216" stroke="#606060" stroke-width="2.1"/>
<line x1="389.1" y1="131.8" x2="389.1" y2="133.5" stroke="#8a8a8a" stroke-width="1"/>
<rect x="385.20000000000005" y="164.9" width="7.8" height="26.69999999999999" fill="#606060"/>
<line x1="386.1" y1="176.5" x2="392.1" y2="176.5" stroke="#fff" stroke-width="1.6"/>
<path d="M427.50,148.50 C427.07,149.73 426.07,154.07 424.90,155.90 C423.73,157.73 421.83,158.00 420.50,159.50 C419.17,161.00 417.80,162.82 416.90,164.90 C416.00,166.98 415.33,169.63 415.10,172.00 C414.87,174.37 415.65,177.17 415.50,179.10 C415.35,181.03 414.70,181.95 414.20,183.60 C413.70,185.25 412.35,187.37 412.50,189.00 C412.65,190.63 413.92,191.47 415.10,193.40 C416.28,195.33 418.17,198.22 419.60,200.60 C421.03,202.98 422.38,205.32 423.70,207.70 C425.02,210.08 426.87,213.70 427.50,214.90 L429.50,214.90 C430.13,213.70 431.98,210.08 433.30,207.70 C434.62,205.32 435.97,202.98 437.40,200.60 C438.83,198.22 440.72,195.33 441.90,193.40 C443.08,191.47 444.35,190.63 444.50,189.00 C444.65,187.37 443.30,185.25 442.80,183.60 C442.30,181.95 441.65,181.03 441.50,179.10 C441.35,177.17 442.13,174.37 441.90,172.00 C441.67,169.63 441.00,166.98 440.10,164.90 C439.20,162.82 437.83,161.00 436.50,159.50 C435.17,158.00 433.27,157.73 432.10,155.90 C430.93,154.07 429.93,149.73 429.50,148.50 Z" fill="#f8d0ae" stroke="#9a9a9a" stroke-width="1.8" stroke-linejoin="round"/>
<line x1="428.5" y1="136.3" x2="428.5" y2="215" stroke="#606060" stroke-width="2.1"/>
<line x1="428.5" y1="131.8" x2="428.5" y2="136.3" stroke="#8a8a8a" stroke-width="1"/>
<rect x="424.6" y="168" width="7.8" height="31.099999999999994" fill="#606060"/>
<line x1="425.5" y1="184.5" x2="431.5" y2="184.5" stroke="#fff" stroke-width="1.6"/>
<g transform="translate(349.0,250.6) rotate(-30)">
<text x="0" y="-10.2" font-size="9.6" text-anchor="end" fill="#1a1a1a">ICE</text>
<text x="0" y="0.0" font-size="9.6" text-anchor="end" fill="#1a1a1a">specific</text>
</g>
<g transform="translate(389.0,240.0) rotate(-30)">
<text x="0" y="0.0" font-size="9.6" text-anchor="end" fill="#1a1a1a">Common</text>
</g>
<g transform="translate(432.6,248.6) rotate(-30)">
<text x="0" y="-10.2" font-size="9.6" text-anchor="end" fill="#1a1a1a">Raichu</text>
<text x="0" y="0.0" font-size="9.6" text-anchor="end" fill="#1a1a1a">specific</text>
</g>
<text x="463.8" y="13.1" font-size="12.5" text-anchor="start" font-weight="bold" fill="#000" >d</text>
<line x1="511.3" y1="15.8" x2="511.3" y2="227.6" stroke="#222" stroke-width="1.2"/>
<line x1="510.7" y1="227" x2="637.6" y2="227" stroke="#222" stroke-width="1.2"/>
<line x1="511.3" y1="227" x2="511.3" y2="231" stroke="#222" stroke-width="1.2"/>
<text x="511.3" y="243.9" font-size="9.6" text-anchor="middle" fill="#1a1a1a" >0.0</text>
<line x1="542.6" y1="227" x2="542.6" y2="231" stroke="#222" stroke-width="1.2"/>
<text x="542.6" y="243.9" font-size="9.6" text-anchor="middle" fill="#1a1a1a" >0.1</text>
<line x1="573.9" y1="227" x2="573.9" y2="231" stroke="#222" stroke-width="1.2"/>
<text x="573.9" y="243.9" font-size="9.6" text-anchor="middle" fill="#1a1a1a" >0.2</text>
<line x1="605.2" y1="227" x2="605.2" y2="231" stroke="#222" stroke-width="1.2"/>
<text x="605.2" y="243.9" font-size="9.6" text-anchor="middle" fill="#1a1a1a" >0.3</text>
<line x1="636.5" y1="227" x2="636.5" y2="231" stroke="#222" stroke-width="1.2"/>
<text x="636.5" y="243.9" font-size="9.6" text-anchor="middle" fill="#1a1a1a" >0.4</text>
<text x="573.9" y="259.0" font-size="9.9" text-anchor="middle" fill="#1a1a1a" >Fraction of chromatin loops</text>
<line x1="505.9" y1="23.9" x2="511.3" y2="23.9" stroke="#222" stroke-width="1.2"/>
<line x1="505.9" y1="77.3" x2="511.3" y2="77.3" stroke="#222" stroke-width="1.2"/>
<rect x="511.90000000000003" y="25.8" width="64.2" height="14.2" fill="#fdc086"/>
<rect x="511.90000000000003" y="43.5" width="31.0" height="14.2" fill="#beaed4"/>
<rect x="511.90000000000003" y="61.2" width="24.4" height="14.2" fill="#7fc97f"/>
<text x="508.3" y="54.099999999999994" font-size="9.9" text-anchor="end" fill="#1a1a1a" >P-P</text>
<line x1="505.9" y1="95.1" x2="511.3" y2="95.1" stroke="#222" stroke-width="1.2"/>
<line x1="505.9" y1="148.5" x2="511.3" y2="148.5" stroke="#222" stroke-width="1.2"/>
<rect x="511.90000000000003" y="97.0" width="106.1" height="14.2" fill="#fdc086"/>
<rect x="511.90000000000003" y="114.7" width="71.4" height="14.2" fill="#beaed4"/>
<rect x="511.90000000000003" y="132.4" width="58.2" height="14.2" fill="#7fc97f"/>
<text x="508.3" y="125.3" font-size="9.9" text-anchor="end" fill="#1a1a1a" >E-E</text>
<line x1="505.9" y1="166.3" x2="511.3" y2="166.3" stroke="#222" stroke-width="1.2"/>
<line x1="505.9" y1="219.70000000000002" x2="511.3" y2="219.70000000000002" stroke="#222" stroke-width="1.2"/>
<rect x="511.90000000000003" y="168.2" width="124.0" height="14.2" fill="#fdc086"/>
<rect x="511.90000000000003" y="185.9" width="67.3" height="14.2" fill="#beaed4"/>
<rect x="511.90000000000003" y="203.6" width="46.7" height="14.2" fill="#7fc97f"/>
<text x="508.3" y="196.5" font-size="9.9" text-anchor="end" fill="#1a1a1a" >P-E</text>
<text transform="translate(484.2,121.4) rotate(-90)" font-size="9.9" text-anchor="middle" fill="#1a1a1a">Loop category</text>
<rect x="595.6" y="10.9" width="17.3" height="5.9" fill="#7fc97f"/>
<text x="619.3" y="17.0" font-size="8.5" text-anchor="start" fill="#1a1a1a" >ICE specific</text>
<rect x="595.6" y="23.2" width="17.3" height="5.9" fill="#beaed4"/>
<text x="619.3" y="29.4" font-size="8.5" text-anchor="start" fill="#1a1a1a" >Common</text>
<rect x="595.6" y="35.6" width="17.3" height="5.9" fill="#fdc086"/>
<text x="619.3" y="41.7" font-size="8.5" text-anchor="start" fill="#1a1a1a" >Raichu specific</text>
<text x="-0.3" y="298.3" font-size="12.5" text-anchor="start" font-weight="bold" fill="#000" >e</text>
<text x="59.349999999999994" y="311.8" font-size="9.7" text-anchor="middle" fill="#1a1a1a" >CTCF</text>
<text x="138.85" y="311.8" font-size="9.7" text-anchor="middle" fill="#1a1a1a" >RAD21</text>
<text x="218.75" y="311.8" font-size="9.7" text-anchor="middle" fill="#1a1a1a" >POLR2A</text>
<text x="298.35" y="311.8" font-size="9.7" text-anchor="middle" fill="#1a1a1a" >H3K4me3</text>
<text x="377.95" y="311.8" font-size="9.7" text-anchor="middle" fill="#1a1a1a" >H3K27ac</text>
<text transform="translate(14.8,352.2) rotate(-90)" font-size="9.8" text-anchor="middle" fill="#1a1a1a">ICE specific</text>
<text transform="translate(14.8,427.5) rotate(-90)" font-size="9.8" text-anchor="middle" fill="#1a1a1a">Common</text>
<text transform="translate(14.8,502.8) rotate(-90)" font-size="9.8" text-anchor="middle" fill="#1a1a1a">Raichu specific</text>
<g clip-path="url(#hc1)">
<rect x="24.55" y="318.1" width="32.3" height="68.3" fill="url(#ht1)"/>
<rect x="24.55" y="318.1" width="32.3" height="68.3" fill="url(#hd1)" filter="url(#dens)"/>
<polygon points="39.30,318.1 41.10,318.1 40.55,386.40 39.85,386.40" fill="url(#hl1)"/>
</g>
<rect x="24.55" y="318.1" width="32.3" height="68.3" fill="none" stroke="#222" stroke-width="1.5"/>
<rect x="24.55" y="318.1" width="32.3" height="68.3" fill="none" stroke="#222" stroke-width="1.5"/>
<g clip-path="url(#hc2)">
<rect x="61.849999999999994" y="318.1" width="32.3" height="68.3" fill="url(#ht2)"/>
<rect x="61.849999999999994" y="318.1" width="32.3" height="68.3" fill="url(#hd2)" filter="url(#dens)"/>
<rect x="77.20" y="318.1" width="1.6" height="68.3" fill="url(#hl2)"/>
</g>
<rect x="61.849999999999994" y="318.1" width="32.3" height="68.3" fill="none" stroke="#222" stroke-width="1.5"/>
<rect x="61.849999999999994" y="318.1" width="32.3" height="68.3" fill="none" stroke="#222" stroke-width="1.5"/>
<g clip-path="url(#hc3)">
<rect x="104.05" y="318.1" width="32.3" height="68.3" fill="url(#ht3)"/>
<rect x="104.05" y="318.1" width="32.3" height="68.3" fill="url(#hd3)" filter="url(#dens)"/>
<polygon points="119.00,318.1 120.40,318.1 120.05,386.40 119.35,386.40" fill="url(#hl3)"/>
</g>
<rect x="104.05" y="318.1" width="32.3" height="68.3" fill="none" stroke="#222" stroke-width="1.5"/>
<rect x="104.05" y="318.1" width="32.3" height="68.3" fill="none" stroke="#222" stroke-width="1.5"/>
<g clip-path="url(#hc4)">
<rect x="141.35" y="318.1" width="32.3" height="68.3" fill="url(#ht4)"/>
<rect x="141.35" y="318.1" width="32.3" height="68.3" fill="url(#hd4)" filter="url(#dens)"/>
<rect x="156.80" y="318.1" width="1.4" height="68.3" fill="url(#hl4)"/>
</g>
<rect x="141.35" y="318.1" width="32.3" height="68.3" fill="none" stroke="#222" stroke-width="1.5"/>
<rect x="141.35" y="318.1" width="32.3" height="68.3" fill="none" stroke="#222" stroke-width="1.5"/>
<g clip-path="url(#hc5)">
<rect x="183.95" y="318.1" width="32.3" height="68.3" fill="url(#ht5)"/>
<rect x="183.95" y="318.1" width="32.3" height="68.3" fill="url(#hd5)" filter="url(#densS)"/>
<rect x="199.00" y="318.1" width="1.2" height="68.3" fill="url(#hl5)"/>
</g>
<rect x="183.95" y="318.1" width="32.3" height="68.3" fill="none" stroke="#222" stroke-width="1.5"/>
<g clip-path="url(#sc00)"><rect x="191.0" y="338.5" width="13.2" height="0.95" fill="#ff0000" opacity="0.34"/><rect x="188.8" y="358.2" width="6.7" height="1.00" fill="#ff0000" opacity="0.26"/><rect x="214.9" y="334.9" width="13.2" height="1.12" fill="#ff0000" opacity="0.21"/><rect x="216.2" y="342.0" width="13.2" height="1.15" fill="#ff0000" opacity="0.17"/><rect x="211.6" y="338.4" width="12.9" height="0.83" fill="#ff0000" opacity="0.17"/><rect x="192.6" y="334.6" width="3.8" height="0.77" fill="#ff0000" opacity="0.24"/><rect x="194.1" y="360.6" width="13.7" height="0.82" fill="#ff0000" opacity="0.16"/><rect x="187.7" y="335.6" width="7.4" height="0.84" fill="#ff0000" opacity="0.35"/><rect x="180.7" y="318.5" width="6.2" height="1.21" fill="#ff0000" opacity="0.41"/><rect x="209.1" y="329.1" width="16.4" height="0.77" fill="#ff0000" opacity="0.25"/><rect x="188.3" y="370.9" width="11.5" height="0.92" fill="#ff0000" opacity="0.24"/><rect x="210.3" y="323.4" width="9.9" height="0.93" fill="#ff0000" opacity="0.19"/><rect x="216.2" y="330.1" width="16.2" height="0.80" fill="#ff0000" opacity="0.26"/><rect x="192.0" y="356.3" width="15.1" height="1.11" fill="#ff0000" opacity="0.14"/><rect x="180.1" y="319.8" width="14.8" height="1.12" fill="#ff0000" opacity="0.20"/><rect x="209.1" y="330.8" width="4.1" height="0.98" fill="#ff0000" opacity="0.20"/><rect x="195.8" y="326.2" width="10.3" height="0.82" fill="#ff0000" opacity="0.41"/><rect x="184.9" y="319.1" width="7.2" height="0.85" fill="#ff0000" opacity="0.35"/><rect x="187.0" y="319.8" width="6.1" height="1.01" fill="#ff0000" opacity="0.27"/><rect x="205.5" y="324.3" width="8.0" height="1.05" fill="#ff0000" opacity="0.37"/><rect x="213.9" y="379.1" width="10.6" height="1.08" fill="#ff0000" opacity="0.17"/><rect x="184.5" y="320.4" width="3.8" height="1.24" fill="#ff0000" opacity="0.39"/><rect x="198.3" y="349.5" width="4.2" height="1.05" fill="#ff0000" opacity="0.16"/><rect x="184.5" y="359.5" width="5.3" height="1.27" fill="#ff0000" opacity="0.12"/><rect x="202.9" y="345.2" width="16.9" height="1.04" fill="#ff0000" opacity="0.25"/><rect x="184.4" y="343.9" width="7.4" height="0.74" fill="#ff0000" opacity="0.13"/><rect x="202.5" y="351.2" width="11.7" height="0.82" fill="#ff0000" opacity="0.16"/><rect x="191.3" y="322.9" width="5.6" height="1.08" fill="#ff0000" opacity="0.36"/><rect x="187.8" y="369.2" width="14.3" height="0.97" fill="#ff0000" opacity="0.18"/><rect x="212.0" y="335.0" width="12.8" height="0.94" fill="#ff0000" opacity="0.17"/><rect x="204.9" y="361.4" width="8.0" height="1.10" fill="#ff0000" opacity="0.12"/><rect x="195.2" y="363.3" width="13.5" height="0.83" fill="#ff0000" opacity="0.27"/><rect x="209.2" y="338.1" width="9.9" height="0.71" fill="#ff0000" opacity="0.23"/><rect x="214.0" y="330.3" width="16.6" height="1.14" fill="#ff0000" opacity="0.21"/><rect x="210.0" y="324.4" width="16.6" height="0.74" fill="#ff0000" opacity="0.38"/><rect x="211.2" y="374.1" width="5.4" height="1.25" fill="#ff0000" opacity="0.13"/><rect x="196.9" y="340.3" width="8.1" height="1.00" fill="#ff0000" opacity="0.23"/><rect x="184.4" y="329.5" width="3.5" height="1.08" fill="#ff0000" opacity="0.24"/><rect x="181.9" y="322.5" width="12.9" height="0.72" fill="#ff0000" opacity="0.27"/><rect x="188.3" y="377.0" width="16.2" height="1.22" fill="#ff0000" opacity="0.12"/><rect x="183.9" y="321.0" width="11.0" height="1.06" fill="#ff0000" opacity="0.18"/><rect x="185.7" y="356.6" width="9.1" height="0.70" fill="#ff0000" opacity="0.15"/><rect x="200.8" y="320.5" width="8.3" height="1.17" fill="#ff0000" opacity="0.28"/><rect x="200.0" y="368.8" width="15.9" height="1.24" fill="#ff0000" opacity="0.21"/><rect x="203.1" y="326.8" width="8.0" height="1.16" fill="#ff0000" opacity="0.25"/></g>
<rect x="183.95" y="318.1" width="32.3" height="68.3" fill="none" stroke="#222" stroke-width="1.5"/>
<g clip-path="url(#hc6)">
<rect x="221.25" y="318.1" width="32.3" height="68.3" fill="url(#ht6)"/>
<rect x="221.25" y="318.1" width="32.3" height="68.3" fill="url(#hd6)" filter="url(#densS)"/>
<rect x="236.80" y="318.1" width="1.2" height="68.3" fill="url(#hl6)"/>
</g>
<rect x="221.25" y="318.1" width="32.3" height="68.3" fill="none" stroke="#222" stroke-width="1.5"/>
<g clip-path="url(#sc01)"><rect x="225.9" y="329.0" width="10.3" height="0.91" fill="#ff0000" opacity="0.35"/><rect x="228.5" y="335.2" width="9.5" height="1.11" fill="#ff0000" opacity="0.37"/><rect x="219.2" y="323.0" width="12.0" height="1.09" fill="#ff0000" opacity="0.26"/><rect x="240.9" y="326.2" width="10.3" height="1.02" fill="#ff0000" opacity="0.22"/><rect x="235.6" y="380.2" width="13.7" height="0.87" fill="#ff0000" opacity="0.13"/><rect x="244.1" y="325.4" width="10.3" height="1.28" fill="#ff0000" opacity="0.41"/><rect x="230.5" y="377.0" width="9.7" height="1.09" fill="#ff0000" opacity="0.08"/><rect x="250.0" y="356.3" width="13.6" height="1.07" fill="#ff0000" opacity="0.12"/><rect x="252.0" y="322.9" width="13.7" height="0.85" fill="#ff0000" opacity="0.36"/><rect x="241.6" y="366.5" width="13.8" height="1.26" fill="#ff0000" opacity="0.18"/><rect x="243.2" y="365.9" width="5.3" height="0.74" fill="#ff0000" opacity="0.23"/><rect x="222.0" y="320.5" width="11.3" height="1.29" fill="#ff0000" opacity="0.26"/><rect x="244.7" y="368.9" width="4.4" height="0.88" fill="#ff0000" opacity="0.13"/><rect x="251.0" y="375.5" width="14.4" height="0.76" fill="#ff0000" opacity="0.13"/><rect x="240.1" y="320.7" width="8.8" height="1.19" fill="#ff0000" opacity="0.25"/><rect x="231.1" y="324.9" width="11.4" height="0.80" fill="#ff0000" opacity="0.30"/><rect x="249.2" y="365.8" width="6.6" height="1.12" fill="#ff0000" opacity="0.18"/><rect x="246.8" y="360.4" width="5.7" height="0.84" fill="#ff0000" opacity="0.22"/><rect x="221.2" y="318.3" width="11.6" height="0.95" fill="#ff0000" opacity="0.28"/><rect x="230.3" y="338.9" width="6.9" height="0.99" fill="#ff0000" opacity="0.21"/><rect x="237.3" y="354.7" width="9.3" height="1.25" fill="#ff0000" opacity="0.11"/><rect x="235.2" y="322.8" width="12.1" height="0.99" fill="#ff0000" opacity="0.25"/><rect x="244.0" y="379.9" width="3.9" height="0.86" fill="#ff0000" opacity="0.20"/><rect x="239.8" y="322.6" width="9.5" height="0.77" fill="#ff0000" opacity="0.19"/><rect x="244.4" y="318.7" width="13.6" height="0.75" fill="#ff0000" opacity="0.36"/><rect x="236.4" y="339.2" width="16.2" height="1.21" fill="#ff0000" opacity="0.29"/><rect x="241.1" y="354.1" width="12.3" height="0.99" fill="#ff0000" opacity="0.23"/><rect x="241.7" y="346.6" width="12.5" height="1.13" fill="#ff0000" opacity="0.24"/><rect x="226.3" y="328.5" width="17.0" height="1.07" fill="#ff0000" opacity="0.15"/><rect x="229.8" y="365.2" width="6.7" height="0.71" fill="#ff0000" opacity="0.10"/><rect x="224.0" y="328.9" width="7.4" height="0.97" fill="#ff0000" opacity="0.22"/><rect x="245.8" y="318.7" width="5.2" height="0.94" fill="#ff0000" opacity="0.34"/><rect x="222.1" y="334.7" width="12.5" height="0.92" fill="#ff0000" opacity="0.14"/><rect x="229.7" y="334.8" width="6.5" height="0.90" fill="#ff0000" opacity="0.29"/><rect x="246.5" y="359.9" width="11.3" height="1.08" fill="#ff0000" opacity="0.18"/><rect x="221.5" y="336.6" width="4.8" height="1.26" fill="#ff0000" opacity="0.38"/><rect x="235.3" y="334.4" width="17.0" height="1.25" fill="#ff0000" opacity="0.32"/><rect x="247.7" y="370.6" width="16.6" height="1.19" fill="#ff0000" opacity="0.19"/><rect x="244.9" y="381.8" width="15.6" height="1.22" fill="#ff0000" opacity="0.12"/><rect x="249.5" y="370.7" width="4.0" height="1.06" fill="#ff0000" opacity="0.16"/><rect x="251.5" y="371.8" width="13.9" height="1.09" fill="#ff0000" opacity="0.22"/><rect x="240.5" y="358.8" width="8.3" height="0.71" fill="#ff0000" opacity="0.27"/><rect x="243.2" y="371.6" width="15.6" height="0.80" fill="#ff0000" opacity="0.22"/><rect x="217.8" y="321.4" width="3.2" height="0.90" fill="#ff0000" opacity="0.17"/><rect x="236.0" y="383.8" width="6.3" height="0.79" fill="#ff0000" opacity="0.16"/></g>
<rect x="221.25" y="318.1" width="32.3" height="68.3" fill="none" stroke="#222" stroke-width="1.5"/>
<g clip-path="url(#hc7)">
<rect x="263.55" y="318.1" width="32.3" height="68.3" fill="url(#ht7)"/>
<rect x="263.55" y="318.1" width="32.3" height="68.3" fill="url(#hd7)" filter="url(#dens)"/>
<rect x="278.60" y="318.1" width="1.2" height="68.3" fill="url(#hl7)"/>
</g>
<rect x="263.55" y="318.1" width="32.3" height="68.3" fill="none" stroke="#222" stroke-width="1.5"/>
<g clip-path="url(#sc030)"><rect x="292.8" y="370.0" width="3.6" height="0.92" fill="#ff0000" opacity="0.12"/><rect x="263.5" y="344.0" width="10.8" height="0.71" fill="#ff0000" opacity="0.10"/><rect x="279.1" y="368.0" width="10.1" height="1.15" fill="#ff0000" opacity="0.09"/><rect x="264.7" y="365.4" width="12.5" height="0.86" fill="#ff0000" opacity="0.13"/><rect x="268.3" y="318.1" width="15.7" height="0.79" fill="#ff0000" opacity="0.16"/><rect x="264.0" y="331.4" width="11.3" height="1.13" fill="#ff0000" opacity="0.09"/><rect x="292.1" y="325.6" width="13.6" height="0.98" fill="#ff0000" opacity="0.11"/><rect x="276.6" y="374.5" width="5.8" height="1.07" fill="#ff0000" opacity="0.08"/><rect x="287.1" y="319.6" width="12.2" height="1.01" fill="#ff0000" opacity="0.21"/><rect x="282.5" y="369.2" width="15.5" height="0.85" fill="#ff0000" opacity="0.11"/><rect x="260.3" y="361.7" width="5.2" height="1.14" fill="#ff0000" opacity="0.15"/><rect x="289.8" y="328.0" width="12.5" height="0.94" fill="#ff0000" opacity="0.18"/></g>
<rect x="263.55" y="318.1" width="32.3" height="68.3" fill="none" stroke="#222" stroke-width="1.5"/>
<g clip-path="url(#hc8)">
<rect x="300.85" y="318.1" width="32.3" height="68.3" fill="url(#ht8)"/>
<rect x="300.85" y="318.1" width="32.3" height="68.3" fill="url(#hd8)" filter="url(#dens)"/>
<rect x="316.40" y="318.1" width="1.2" height="68.3" fill="url(#hl8)"/>
</g>
<rect x="300.85" y="318.1" width="32.3" height="68.3" fill="none" stroke="#222" stroke-width="1.5"/>
<g clip-path="url(#sc031)"><rect x="313.0" y="356.5" width="8.4" height="0.77" fill="#ff0000" opacity="0.12"/><rect x="302.2" y="327.7" width="6.7" height="1.10" fill="#ff0000" opacity="0.10"/><rect x="317.9" y="319.7" width="9.9" height="0.78" fill="#ff0000" opacity="0.11"/><rect x="311.3" y="339.4" width="11.5" height="1.04" fill="#ff0000" opacity="0.17"/><rect x="329.5" y="336.0" width="9.1" height="1.04" fill="#ff0000" opacity="0.12"/><rect x="327.4" y="370.9" width="10.3" height="1.07" fill="#ff0000" opacity="0.13"/><rect x="315.3" y="381.5" width="8.8" height="0.92" fill="#ff0000" opacity="0.09"/><rect x="321.9" y="329.6" width="16.7" height="0.86" fill="#ff0000" opacity="0.21"/><rect x="317.8" y="325.1" width="12.0" height="1.27" fill="#ff0000" opacity="0.23"/><rect x="329.8" y="366.4" width="7.8" height="1.09" fill="#ff0000" opacity="0.06"/><rect x="297.4" y="374.6" width="7.7" height="1.15" fill="#ff0000" opacity="0.09"/><rect x="312.7" y="382.4" width="12.0" height="0.75" fill="#ff0000" opacity="0.07"/></g>
<rect x="300.85" y="318.1" width="32.3" height="68.3" fill="none" stroke="#222" stroke-width="1.5"/>
<g clip-path="url(#hc9)">
<rect x="343.15" y="318.1" width="32.3" height="68.3" fill="url(#ht9)"/>
<rect x="343.15" y="318.1" width="32.3" height="68.3" fill="url(#hd9)" filter="url(#dens)"/>
<rect x="358.20" y="318.1" width="1.2" height="68.3" fill="url(#hl9)"/>
</g>
<rect x="343.15" y="318.1" width="32.3" height="68.3" fill="none" stroke="#222" stroke-width="1.5"/>
<g clip-path="url(#sc040)"><rect x="350.0" y="341.0" width="10.8" height="0.91" fill="#ff0000" opacity="0.14"/><rect x="358.8" y="320.0" width="5.6" height="0.72" fill="#ff0000" opacity="0.19"/><rect x="370.0" y="356.6" width="12.4" height="0.80" fill="#ff0000" opacity="0.13"/><rect x="372.0" y="319.8" width="8.6" height="0.89" fill="#ff0000" opacity="0.21"/><rect x="363.1" y="365.3" width="13.2" height="1.28" fill="#ff0000" opacity="0.08"/><rect x="355.5" y="338.1" width="13.7" height="1.15" fill="#ff0000" opacity="0.14"/><rect x="364.1" y="318.6" width="7.0" height="1.20" fill="#ff0000" opacity="0.22"/><rect x="346.7" y="320.5" width="5.0" height="1.17" fill="#ff0000" opacity="0.10"/><rect x="339.7" y="371.9" width="4.4" height="1.30" fill="#ff0000" opacity="0.05"/><rect x="360.8" y="325.8" width="14.6" height="0.82" fill="#ff0000" opacity="0.16"/><rect x="371.1" y="324.2" width="7.3" height="1.16" fill="#ff0000" opacity="0.14"/><rect x="368.3" y="328.2" width="4.1" height="1.12" fill="#ff0000" opacity="0.16"/></g>
<rect x="343.15" y="318.1" width="32.3" height="68.3" fill="none" stroke="#222" stroke-width="1.5"/>
<g clip-path="url(#hc10)">
<rect x="380.45" y="318.1" width="32.3" height="68.3" fill="url(#ht10)"/>
<rect x="380.45" y="318.1" width="32.3" height="68.3" fill="url(#hd10)" filter="url(#dens)"/>
<rect x="396.00" y="318.1" width="1.2" height="68.3" fill="url(#hl10)"/>
</g>
<rect x="380.45" y="318.1" width="32.3" height="68.3" fill="none" stroke="#222" stroke-width="1.5"/>
<g clip-path="url(#sc041)"><rect x="411.1" y="338.5" width="7.4" height="0.97" fill="#ff0000" opacity="0.10"/><rect x="400.5" y="320.0" width="13.4" height="1.10" fill="#ff0000" opacity="0.22"/><rect x="410.2" y="367.2" width="11.7" height="0.85" fill="#ff0000" opacity="0.10"/><rect x="384.3" y="322.8" width="8.0" height="1.13" fill="#ff0000" opacity="0.14"/><rect x="377.4" y="323.5" width="14.7" height="1.12" fill="#ff0000" opacity="0.24"/><rect x="388.8" y="356.7" width="6.5" height="1.24" fill="#ff0000" opacity="0.13"/><rect x="386.4" y="318.9" width="12.0" height="0.97" fill="#ff0000" opacity="0.21"/><rect x="406.6" y="366.6" width="6.0" height="0.75" fill="#ff0000" opacity="0.10"/><rect x="394.0" y="326.2" width="6.6" height="0.80" fill="#ff0000" opacity="0.21"/><rect x="405.4" y="343.9" width="3.8" height="0.95" fill="#ff0000" opacity="0.12"/><rect x="382.7" y="337.8" width="3.9" height="1.10" fill="#ff0000" opacity="0.18"/><rect x="412.5" y="347.0" width="13.7" height="1.15" fill="#ff0000" opacity="0.16"/></g>
<rect x="380.45" y="318.1" width="32.3" height="68.3" fill="none" stroke="#222" stroke-width="1.5"/>
<g clip-path="url(#hc11)">
<rect x="24.55" y="393.4" width="32.3" height="68.3" fill="url(#ht11)"/>
<rect x="24.55" y="393.4" width="16.15" height="68.3" fill="url(#hq11)"/>
<rect x="24.55" y="393.4" width="32.3" height="68.3" fill="url(#hd11)" filter="url(#dens)"/>
<polygon points="39.15,393.4 41.25,393.4 40.55,461.70 39.85,461.70" fill="url(#hl11)"/>
</g>
<rect x="24.55" y="393.4" width="32.3" height="68.3" fill="none" stroke="#222" stroke-width="1.5"/>
<rect x="24.55" y="393.4" width="32.3" height="68.3" fill="none" stroke="#222" stroke-width="1.5"/>
<g clip-path="url(#hc12)">
<rect x="61.849999999999994" y="393.4" width="32.3" height="68.3" fill="url(#ht12)"/>
<rect x="61.849999999999994" y="393.4" width="32.3" height="68.3" fill="url(#hd12)" filter="url(#dens)"/>
<rect x="77.15" y="393.4" width="1.7" height="68.3" fill="url(#hl12)"/>
</g>
<rect x="61.849999999999994" y="393.4" width="32.3" height="68.3" fill="none" stroke="#222" stroke-width="1.5"/>
<rect x="61.849999999999994" y="393.4" width="32.3" height="68.3" fill="none" stroke="#222" stroke-width="1.5"/>
<g clip-path="url(#hc13)">
<rect x="104.05" y="393.4" width="32.3" height="68.3" fill="url(#ht13)"/>
<rect x="104.05" y="393.4" width="32.3" height="68.3" fill="url(#hd13)" filter="url(#dens)"/>
<polygon points="118.75,393.4 120.65,393.4 120.05,461.70 119.35,461.70" fill="url(#hl13)"/>
</g>
<rect x="104.05" y="393.4" width="32.3" height="68.3" fill="none" stroke="#222" stroke-width="1.5"/>
<rect x="104.05" y="393.4" width="32.3" height="68.3" fill="none" stroke="#222" stroke-width="1.5"/>
<g clip-path="url(#hc14)">
<rect x="141.35" y="393.4" width="32.3" height="68.3" fill="url(#ht14)"/>
<rect x="141.35" y="393.4" width="32.3" height="68.3" fill="url(#hd14)" filter="url(#dens)"/>
<rect x="156.70" y="393.4" width="1.6" height="68.3" fill="url(#hl14)"/>
</g>
<rect x="141.35" y="393.4" width="32.3" height="68.3" fill="none" stroke="#222" stroke-width="1.5"/>
<rect x="141.35" y="393.4" width="32.3" height="68.3" fill="none" stroke="#222" stroke-width="1.5"/>
<g clip-path="url(#hc15)">
<rect x="183.95" y="393.4" width="32.3" height="68.3" fill="url(#ht15)"/>
<rect x="183.95" y="393.4" width="32.3" height="68.3" fill="url(#hd15)" filter="url(#densS)"/>
<rect x="199.00" y="393.4" width="1.2" height="68.3" fill="url(#hl15)"/>
</g>
<rect x="183.95" y="393.4" width="32.3" height="68.3" fill="none" stroke="#222" stroke-width="1.5"/>
<g clip-path="url(#sc10)"><rect x="213.0" y="426.1" width="10.8" height="1.00" fill="#ff0000" opacity="0.20"/><rect x="186.6" y="396.1" width="8.3" height="0.78" fill="#ff0000" opacity="0.17"/><rect x="211.5" y="401.7" width="5.6" height="0.92" fill="#ff0000" opacity="0.22"/><rect x="182.9" y="451.9" width="16.8" height="1.27" fill="#ff0000" opacity="0.07"/><rect x="206.1" y="427.3" width="4.9" height="0.96" fill="#ff0000" opacity="0.14"/><rect x="190.1" y="400.5" width="3.7" height="1.29" fill="#ff0000" opacity="0.19"/><rect x="198.8" y="458.1" width="15.2" height="1.00" fill="#ff0000" opacity="0.10"/><rect x="212.4" y="395.0" width="15.2" height="0.75" fill="#ff0000" opacity="0.25"/><rect x="181.8" y="393.4" width="9.8" height="0.89" fill="#ff0000" opacity="0.22"/><rect x="202.2" y="397.8" width="8.3" height="1.25" fill="#ff0000" opacity="0.11"/><rect x="188.9" y="460.9" width="10.5" height="0.94" fill="#ff0000" opacity="0.10"/><rect x="183.0" y="393.5" width="7.8" height="0.85" fill="#ff0000" opacity="0.11"/><rect x="209.1" y="417.7" width="12.2" height="1.09" fill="#ff0000" opacity="0.17"/><rect x="213.4" y="408.5" width="15.3" height="1.20" fill="#ff0000" opacity="0.19"/><rect x="196.8" y="446.5" width="9.7" height="1.01" fill="#ff0000" opacity="0.10"/><rect x="198.1" y="395.2" width="8.3" height="1.04" fill="#ff0000" opacity="0.29"/><rect x="190.7" y="395.4" width="6.0" height="0.94" fill="#ff0000" opacity="0.28"/><rect x="206.8" y="393.4" width="9.2" height="1.06" fill="#ff0000" opacity="0.28"/><rect x="216.2" y="439.6" width="3.8" height="1.23" fill="#ff0000" opacity="0.17"/><rect x="187.8" y="399.1" width="4.8" height="0.88" fill="#ff0000" opacity="0.11"/><rect x="202.3" y="456.6" width="16.4" height="1.26" fill="#ff0000" opacity="0.07"/><rect x="188.0" y="405.0" width="15.1" height="0.72" fill="#ff0000" opacity="0.22"/><rect x="201.8" y="440.6" width="4.5" height="0.70" fill="#ff0000" opacity="0.07"/><rect x="189.2" y="461.1" width="6.4" height="1.18" fill="#ff0000" opacity="0.09"/><rect x="196.3" y="396.8" width="14.3" height="1.06" fill="#ff0000" opacity="0.28"/><rect x="201.3" y="415.3" width="14.6" height="0.96" fill="#ff0000" opacity="0.16"/><rect x="211.7" y="432.5" width="16.5" height="0.94" fill="#ff0000" opacity="0.19"/><rect x="200.1" y="393.6" width="16.6" height="1.20" fill="#ff0000" opacity="0.29"/></g>
<rect x="183.95" y="393.4" width="32.3" height="68.3" fill="none" stroke="#222" stroke-width="1.5"/>
<g clip-path="url(#hc16)">
<rect x="221.25" y="393.4" width="32.3" height="68.3" fill="url(#ht16)"/>
<rect x="221.25" y="393.4" width="32.3" height="68.3" fill="url(#hd16)" filter="url(#densS)"/>
<rect x="236.80" y="393.4" width="1.2" height="68.3" fill="url(#hl16)"/>
</g>
<rect x="221.25" y="393.4" width="32.3" height="68.3" fill="none" stroke="#222" stroke-width="1.5"/>
<g clip-path="url(#sc11)"><rect x="252.8" y="398.0" width="14.1" height="1.24" fill="#ff0000" opacity="0.24"/><rect x="234.3" y="452.2" width="7.4" height="0.91" fill="#ff0000" opacity="0.14"/><rect x="245.1" y="403.8" width="4.3" height="0.94" fill="#ff0000" opacity="0.18"/><rect x="245.0" y="393.7" width="16.7" height="1.17" fill="#ff0000" opacity="0.18"/><rect x="218.5" y="393.4" width="4.2" height="1.09" fill="#ff0000" opacity="0.24"/><rect x="240.9" y="399.6" width="14.3" height="1.19" fill="#ff0000" opacity="0.12"/><rect x="221.1" y="450.4" width="13.3" height="1.05" fill="#ff0000" opacity="0.09"/><rect x="248.2" y="395.2" width="6.9" height="0.96" fill="#ff0000" opacity="0.11"/><rect x="249.2" y="446.6" width="4.4" height="0.89" fill="#ff0000" opacity="0.10"/><rect x="249.5" y="433.4" width="6.3" height="0.76" fill="#ff0000" opacity="0.15"/><rect x="234.4" y="393.7" width="11.8" height="0.71" fill="#ff0000" opacity="0.13"/><rect x="249.4" y="395.0" width="12.2" height="0.75" fill="#ff0000" opacity="0.14"/><rect x="250.7" y="393.5" width="15.5" height="1.21" fill="#ff0000" opacity="0.18"/><rect x="231.5" y="393.9" width="13.5" height="0.95" fill="#ff0000" opacity="0.17"/><rect x="240.7" y="401.1" width="6.1" height="0.79" fill="#ff0000" opacity="0.22"/><rect x="222.3" y="434.9" width="12.3" height="1.28" fill="#ff0000" opacity="0.18"/><rect x="234.1" y="409.4" width="17.0" height="1.25" fill="#ff0000" opacity="0.21"/><rect x="244.9" y="417.0" width="12.7" height="1.10" fill="#ff0000" opacity="0.12"/><rect x="251.0" y="393.7" width="8.4" height="0.94" fill="#ff0000" opacity="0.29"/><rect x="233.9" y="393.6" width="16.1" height="0.94" fill="#ff0000" opacity="0.11"/><rect x="252.1" y="447.5" width="8.4" height="0.88" fill="#ff0000" opacity="0.07"/><rect x="218.7" y="393.8" width="9.3" height="1.03" fill="#ff0000" opacity="0.25"/><rect x="233.5" y="426.2" width="7.8" height="0.92" fill="#ff0000" opacity="0.09"/><rect x="231.3" y="437.9" width="16.2" height="1.10" fill="#ff0000" opacity="0.12"/><rect x="244.4" y="448.7" width="4.6" height="1.12" fill="#ff0000" opacity="0.08"/><rect x="241.4" y="445.1" width="7.9" height="0.92" fill="#ff0000" opacity="0.15"/><rect x="224.0" y="395.7" width="13.5" height="1.08" fill="#ff0000" opacity="0.19"/><rect x="240.0" y="400.5" width="8.2" height="0.98" fill="#ff0000" opacity="0.23"/></g>
<rect x="221.25" y="393.4" width="32.3" height="68.3" fill="none" stroke="#222" stroke-width="1.5"/>
<g clip-path="url(#hc17)">
<rect x="263.55" y="393.4" width="32.3" height="68.3" fill="url(#ht17)"/>
<rect x="263.55" y="393.4" width="32.3" height="68.3" fill="url(#hd17)" filter="url(#dens)"/>
<rect x="278.50" y="393.4" width="1.4" height="68.3" fill="url(#hl17)"/>
</g>
<rect x="263.55" y="393.4" width="32.3" height="68.3" fill="none" stroke="#222" stroke-width="1.5"/>
<rect x="263.55" y="393.4" width="32.3" height="68.3" fill="none" stroke="#222" stroke-width="1.5"/>
<g clip-path="url(#hc18)">
<rect x="300.85" y="393.4" width="32.3" height="68.3" fill="url(#ht18)"/>
<rect x="300.85" y="393.4" width="32.3" height="68.3" fill="url(#hd18)" filter="url(#dens)"/>
<rect x="316.30" y="393.4" width="1.4" height="68.3" fill="url(#hl18)"/>
</g>
<rect x="300.85" y="393.4" width="32.3" height="68.3" fill="none" stroke="#222" stroke-width="1.5"/>
<rect x="300.85" y="393.4" width="32.3" height="68.3" fill="none" stroke="#222" stroke-width="1.5"/>
<g clip-path="url(#hc19)">
<rect x="343.15" y="393.4" width="32.3" height="68.3" fill="url(#ht19)"/>
<rect x="343.15" y="393.4" width="32.3" height="68.3" fill="url(#hd19)" filter="url(#dens)"/>
<rect x="358.20" y="393.4" width="1.2" height="68.3" fill="url(#hl19)"/>
</g>
<rect x="343.15" y="393.4" width="32.3" height="68.3" fill="none" stroke="#222" stroke-width="1.5"/>
<rect x="343.15" y="393.4" width="32.3" height="68.3" fill="none" stroke="#222" stroke-width="1.5"/>
<g clip-path="url(#hc20)">
<rect x="380.45" y="393.4" width="32.3" height="68.3" fill="url(#ht20)"/>
<rect x="380.45" y="393.4" width="32.3" height="68.3" fill="url(#hd20)" filter="url(#dens)"/>
<rect x="396.00" y="393.4" width="1.2" height="68.3" fill="url(#hl20)"/>
</g>
<rect x="380.45" y="393.4" width="32.3" height="68.3" fill="none" stroke="#222" stroke-width="1.5"/>
<rect x="380.45" y="393.4" width="32.3" height="68.3" fill="none" stroke="#222" stroke-width="1.5"/>
<g clip-path="url(#hc21)">
<rect x="24.55" y="468.7" width="32.3" height="68.3" fill="url(#ht21)"/>
<rect x="24.55" y="468.7" width="16.15" height="68.3" fill="url(#hq21)"/>
<rect x="24.55" y="468.7" width="32.3" height="68.3" fill="url(#hd21)" filter="url(#dens)"/>
<polygon points="39.15,468.7 41.25,468.7 40.55,537.00 39.85,537.00" fill="url(#hl21)"/>
</g>
<rect x="24.55" y="468.7" width="32.3" height="68.3" fill="none" stroke="#222" stroke-width="1.5"/>
<rect x="24.55" y="468.7" width="32.3" height="68.3" fill="none" stroke="#222" stroke-width="1.5"/>
<g clip-path="url(#hc22)">
<rect x="61.849999999999994" y="468.7" width="32.3" height="68.3" fill="url(#ht22)"/>
<rect x="61.849999999999994" y="468.7" width="32.3" height="68.3" fill="url(#hd22)" filter="url(#dens)"/>
<rect x="77.10" y="468.7" width="1.8" height="68.3" fill="url(#hl22)"/>
</g>
<rect x="61.849999999999994" y="468.7" width="32.3" height="68.3" fill="none" stroke="#222" stroke-width="1.5"/>
<rect x="61.849999999999994" y="468.7" width="32.3" height="68.3" fill="none" stroke="#222" stroke-width="1.5"/>
<g clip-path="url(#hc23)">
<rect x="104.05" y="468.7" width="32.3" height="68.3" fill="url(#ht23)"/>
<rect x="104.05" y="468.7" width="32.3" height="68.3" fill="url(#hd23)" filter="url(#dens)"/>
<polygon points="118.75,468.7 120.65,468.7 120.05,537.00 119.35,537.00" fill="url(#hl23)"/>
</g>
<rect x="104.05" y="468.7" width="32.3" height="68.3" fill="none" stroke="#222" stroke-width="1.5"/>
<rect x="104.05" y="468.7" width="32.3" height="68.3" fill="none" stroke="#222" stroke-width="1.5"/>
<g clip-path="url(#hc24)">
<rect x="141.35" y="468.7" width="32.3" height="68.3" fill="url(#ht24)"/>
<rect x="141.35" y="468.7" width="32.3" height="68.3" fill="url(#hd24)" filter="url(#dens)"/>
<rect x="156.70" y="468.7" width="1.6" height="68.3" fill="url(#hl24)"/>
</g>
<rect x="141.35" y="468.7" width="32.3" height="68.3" fill="none" stroke="#222" stroke-width="1.5"/>
<rect x="141.35" y="468.7" width="32.3" height="68.3" fill="none" stroke="#222" stroke-width="1.5"/>
<g clip-path="url(#hc25)">
<rect x="183.95" y="468.7" width="32.3" height="68.3" fill="url(#ht25)"/>
<rect x="183.95" y="468.7" width="32.3" height="68.3" fill="url(#hd25)" filter="url(#densS)"/>
<rect x="198.85" y="468.7" width="1.5" height="68.3" fill="url(#hl25)"/>
</g>
<rect x="183.95" y="468.7" width="32.3" height="68.3" fill="none" stroke="#222" stroke-width="1.5"/>
<g clip-path="url(#sc20)"><rect x="189.0" y="536.1" width="7.9" height="0.72" fill="#ff0000" opacity="0.09"/><rect x="196.5" y="485.2" width="16.3" height="1.26" fill="#ff0000" opacity="0.12"/><rect x="180.3" y="510.6" width="16.9" height="0.81" fill="#ff0000" opacity="0.15"/><rect x="205.2" y="468.9" width="7.8" height="0.80" fill="#ff0000" opacity="0.38"/><rect x="205.5" y="475.7" width="11.9" height="0.80" fill="#ff0000" opacity="0.32"/><rect x="180.9" y="483.7" width="15.1" height="0.75" fill="#ff0000" opacity="0.26"/><rect x="210.3" y="477.7" width="7.7" height="0.77" fill="#ff0000" opacity="0.31"/><rect x="214.7" y="477.7" width="5.1" height="0.72" fill="#ff0000" opacity="0.27"/><rect x="182.8" y="486.1" width="11.4" height="0.90" fill="#ff0000" opacity="0.27"/><rect x="187.8" y="489.7" width="12.3" height="0.76" fill="#ff0000" opacity="0.26"/><rect x="195.3" y="471.1" width="4.7" height="0.89" fill="#ff0000" opacity="0.31"/><rect x="213.9" y="523.7" width="4.5" height="1.09" fill="#ff0000" opacity="0.10"/><rect x="208.0" y="500.6" width="12.7" height="1.08" fill="#ff0000" opacity="0.22"/><rect x="204.3" y="469.2" width="4.6" height="0.76" fill="#ff0000" opacity="0.22"/><rect x="197.3" y="468.9" width="9.9" height="1.22" fill="#ff0000" opacity="0.27"/><rect x="185.5" y="510.0" width="6.4" height="0.88" fill="#ff0000" opacity="0.10"/><rect x="207.3" y="498.8" width="12.1" height="1.05" fill="#ff0000" opacity="0.22"/><rect x="211.5" y="469.2" width="3.3" height="0.75" fill="#ff0000" opacity="0.19"/><rect x="196.8" y="474.5" width="10.1" height="1.15" fill="#ff0000" opacity="0.26"/><rect x="215.0" y="511.3" width="12.4" height="0.72" fill="#ff0000" opacity="0.19"/><rect x="189.5" y="479.2" width="9.5" height="0.81" fill="#ff0000" opacity="0.22"/><rect x="201.8" y="531.5" width="9.1" height="1.22" fill="#ff0000" opacity="0.07"/><rect x="208.9" y="471.1" width="11.8" height="1.19" fill="#ff0000" opacity="0.14"/><rect x="205.0" y="488.0" width="12.8" height="0.96" fill="#ff0000" opacity="0.14"/><rect x="197.4" y="484.7" width="10.8" height="0.77" fill="#ff0000" opacity="0.15"/><rect x="187.4" y="522.0" width="14.4" height="1.17" fill="#ff0000" opacity="0.09"/><rect x="194.3" y="480.8" width="8.2" height="0.71" fill="#ff0000" opacity="0.33"/><rect x="207.5" y="469.8" width="8.5" height="0.99" fill="#ff0000" opacity="0.23"/><rect x="207.7" y="510.3" width="6.4" height="0.82" fill="#ff0000" opacity="0.22"/><rect x="195.8" y="509.7" width="12.2" height="0.79" fill="#ff0000" opacity="0.23"/><rect x="207.6" y="469.4" width="6.2" height="0.81" fill="#ff0000" opacity="0.27"/><rect x="191.1" y="478.5" width="12.7" height="0.89" fill="#ff0000" opacity="0.28"/><rect x="211.7" y="469.0" width="7.7" height="0.95" fill="#ff0000" opacity="0.26"/><rect x="199.9" y="471.6" width="10.2" height="1.09" fill="#ff0000" opacity="0.23"/><rect x="182.7" y="496.3" width="13.9" height="1.08" fill="#ff0000" opacity="0.22"/></g>
<rect x="183.95" y="468.7" width="32.3" height="68.3" fill="none" stroke="#222" stroke-width="1.5"/>
<g clip-path="url(#hc26)">
<rect x="221.25" y="468.7" width="32.3" height="68.3" fill="url(#ht26)"/>
<rect x="221.25" y="468.7" width="32.3" height="68.3" fill="url(#hd26)" filter="url(#densS)"/>
<rect x="236.65" y="468.7" width="1.5" height="68.3" fill="url(#hl26)"/>
</g>
<rect x="221.25" y="468.7" width="32.3" height="68.3" fill="none" stroke="#222" stroke-width="1.5"/>
<g clip-path="url(#sc21)"><rect x="247.6" y="483.3" width="15.8" height="1.15" fill="#ff0000" opacity="0.25"/><rect x="241.0" y="469.4" width="4.5" height="0.76" fill="#ff0000" opacity="0.36"/><rect x="251.6" y="470.1" width="8.8" height="0.89" fill="#ff0000" opacity="0.20"/><rect x="224.1" y="519.8" width="7.6" height="0.79" fill="#ff0000" opacity="0.22"/><rect x="241.6" y="518.4" width="16.5" height="0.84" fill="#ff0000" opacity="0.22"/><rect x="246.2" y="473.1" width="11.8" height="0.88" fill="#ff0000" opacity="0.20"/><rect x="224.8" y="468.9" width="10.7" height="0.80" fill="#ff0000" opacity="0.15"/><rect x="253.1" y="470.5" width="3.2" height="1.20" fill="#ff0000" opacity="0.24"/><rect x="238.6" y="493.2" width="13.4" height="1.17" fill="#ff0000" opacity="0.11"/><rect x="230.1" y="525.3" width="6.7" height="1.08" fill="#ff0000" opacity="0.12"/><rect x="251.9" y="490.5" width="10.5" height="0.96" fill="#ff0000" opacity="0.25"/><rect x="239.5" y="524.0" width="4.5" height="1.22" fill="#ff0000" opacity="0.15"/><rect x="233.9" y="511.8" width="8.1" height="1.03" fill="#ff0000" opacity="0.19"/><rect x="233.4" y="533.3" width="14.9" height="1.13" fill="#ff0000" opacity="0.15"/><rect x="222.4" y="535.3" width="4.4" height="1.02" fill="#ff0000" opacity="0.14"/><rect x="250.0" y="506.6" width="9.9" height="1.30" fill="#ff0000" opacity="0.26"/><rect x="223.3" y="479.0" width="16.0" height="0.70" fill="#ff0000" opacity="0.21"/><rect x="222.7" y="494.7" width="9.8" height="1.28" fill="#ff0000" opacity="0.14"/><rect x="242.6" y="471.8" width="14.6" height="1.25" fill="#ff0000" opacity="0.14"/><rect x="244.3" y="484.1" width="6.8" height="1.12" fill="#ff0000" opacity="0.14"/><rect x="236.8" y="478.3" width="14.5" height="1.23" fill="#ff0000" opacity="0.34"/><rect x="230.0" y="469.3" width="10.1" height="1.05" fill="#ff0000" opacity="0.17"/><rect x="237.9" y="492.6" width="10.6" height="0.82" fill="#ff0000" opacity="0.24"/><rect x="221.3" y="468.9" width="9.3" height="1.29" fill="#ff0000" opacity="0.37"/><rect x="236.8" y="525.5" width="12.6" height="1.01" fill="#ff0000" opacity="0.18"/><rect x="232.9" y="470.5" width="6.8" height="0.91" fill="#ff0000" opacity="0.21"/><rect x="219.9" y="511.3" width="3.1" height="1.13" fill="#ff0000" opacity="0.20"/><rect x="243.9" y="471.1" width="10.9" height="0.95" fill="#ff0000" opacity="0.33"/><rect x="232.7" y="470.6" width="16.9" height="0.78" fill="#ff0000" opacity="0.30"/><rect x="252.3" y="534.7" width="9.5" height="0.82" fill="#ff0000" opacity="0.16"/><rect x="236.5" y="512.5" width="7.1" height="1.29" fill="#ff0000" opacity="0.20"/><rect x="249.7" y="505.4" width="7.8" height="0.99" fill="#ff0000" opacity="0.17"/><rect x="245.8" y="508.6" width="4.6" height="0.87" fill="#ff0000" opacity="0.25"/><rect x="243.0" y="505.0" width="11.4" height="1.11" fill="#ff0000" opacity="0.18"/><rect x="229.1" y="509.4" width="6.7" height="0.98" fill="#ff0000" opacity="0.21"/></g>
<rect x="221.25" y="468.7" width="32.3" height="68.3" fill="none" stroke="#222" stroke-width="1.5"/>
<g clip-path="url(#hc27)">
<rect x="263.55" y="468.7" width="32.3" height="68.3" fill="url(#ht27)"/>
<rect x="263.55" y="468.7" width="32.3" height="68.3" fill="url(#hd27)" filter="url(#dens)"/>
<rect x="278.30" y="468.7" width="1.8" height="68.3" fill="url(#hl27)"/>
</g>
<rect x="263.55" y="468.7" width="32.3" height="68.3" fill="none" stroke="#222" stroke-width="1.5"/>
<rect x="263.55" y="468.7" width="32.3" height="68.3" fill="none" stroke="#222" stroke-width="1.5"/>
<g clip-path="url(#hc28)">
<rect x="300.85" y="468.7" width="32.3" height="68.3" fill="url(#ht28)"/>
<rect x="300.85" y="468.7" width="32.3" height="68.3" fill="url(#hd28)" filter="url(#dens)"/>
<rect x="316.10" y="468.7" width="1.8" height="68.3" fill="url(#hl28)"/>
</g>
<rect x="300.85" y="468.7" width="32.3" height="68.3" fill="none" stroke="#222" stroke-width="1.5"/>
<rect x="300.85" y="468.7" width="32.3" height="68.3" fill="none" stroke="#222" stroke-width="1.5"/>
<g clip-path="url(#hc29)">
<rect x="343.15" y="468.7" width="32.3" height="68.3" fill="url(#ht29)"/>
<rect x="343.15" y="468.7" width="32.3" height="68.3" fill="url(#hd29)" filter="url(#dens)"/>
<rect x="358.10" y="468.7" width="1.4" height="68.3" fill="url(#hl29)"/>
</g>
<rect x="343.15" y="468.7" width="32.3" height="68.3" fill="none" stroke="#222" stroke-width="1.5"/>
<rect x="343.15" y="468.7" width="32.3" height="68.3" fill="none" stroke="#222" stroke-width="1.5"/>
<g clip-path="url(#hc30)">
<rect x="380.45" y="468.7" width="32.3" height="68.3" fill="url(#ht30)"/>
<rect x="380.45" y="468.7" width="32.3" height="68.3" fill="url(#hd30)" filter="url(#dens)"/>
<rect x="395.90" y="468.7" width="1.4" height="68.3" fill="url(#hl30)"/>
</g>
<rect x="380.45" y="468.7" width="32.3" height="68.3" fill="none" stroke="#222" stroke-width="1.5"/>
<rect x="380.45" y="468.7" width="32.3" height="68.3" fill="none" stroke="#222" stroke-width="1.5"/>
<line x1="40.7" y1="537.4" x2="40.7" y2="541.6" stroke="#111" stroke-width="1.1"/>
<text x="40.7" y="554.3" font-size="8.4" text-anchor="middle" fill="#1a1a1a" >anchor1</text>
<line x1="78.0" y1="537.4" x2="78.0" y2="541.6" stroke="#111" stroke-width="1.1"/>
<text x="78.0" y="554.3" font-size="8.4" text-anchor="middle" fill="#1a1a1a" >anchor2</text>
<line x1="120.2" y1="537.4" x2="120.2" y2="541.6" stroke="#111" stroke-width="1.1"/>
<text x="120.2" y="554.3" font-size="8.4" text-anchor="middle" fill="#1a1a1a" >anchor1</text>
<line x1="157.5" y1="537.4" x2="157.5" y2="541.6" stroke="#111" stroke-width="1.1"/>
<text x="157.5" y="554.3" font-size="8.4" text-anchor="middle" fill="#1a1a1a" >anchor2</text>
<line x1="200.1" y1="537.4" x2="200.1" y2="541.6" stroke="#111" stroke-width="1.1"/>
<text x="200.1" y="554.3" font-size="8.4" text-anchor="middle" fill="#1a1a1a" >anchor1</text>
<line x1="237.4" y1="537.4" x2="237.4" y2="541.6" stroke="#111" stroke-width="1.1"/>
<text x="237.4" y="554.3" font-size="8.4" text-anchor="middle" fill="#1a1a1a" >anchor2</text>
<line x1="279.7" y1="537.4" x2="279.7" y2="541.6" stroke="#111" stroke-width="1.1"/>
<text x="279.7" y="554.3" font-size="8.4" text-anchor="middle" fill="#1a1a1a" >anchor1</text>
<line x1="317.0" y1="537.4" x2="317.0" y2="541.6" stroke="#111" stroke-width="1.1"/>
<text x="317.0" y="554.3" font-size="8.4" text-anchor="middle" fill="#1a1a1a" >anchor2</text>
<line x1="359.3" y1="537.4" x2="359.3" y2="541.6" stroke="#111" stroke-width="1.1"/>
<text x="359.3" y="554.3" font-size="8.4" text-anchor="middle" fill="#1a1a1a" >anchor1</text>
<line x1="396.6" y1="537.4" x2="396.6" y2="541.6" stroke="#111" stroke-width="1.1"/>
<text x="396.6" y="554.3" font-size="8.4" text-anchor="middle" fill="#1a1a1a" >anchor2</text>
<rect x="56.4" y="565" width="5.8" height="5.8" fill="#f03030"/>
<text x="66.8" y="571.3" font-size="8.5" text-anchor="start" fill="#1a1a1a" >5</text>
<rect x="135.8" y="565" width="5.8" height="5.8" fill="#f03030"/>
<text x="146.2" y="571.3" font-size="8.5" text-anchor="start" fill="#1a1a1a" >5</text>
<rect x="215.8" y="565" width="5.8" height="5.8" fill="#f03030"/>
<text x="226.1" y="571.3" font-size="8.5" text-anchor="start" fill="#1a1a1a" >5</text>
<rect x="295.4" y="565" width="5.8" height="5.8" fill="#f03030"/>
<text x="305.8" y="571.3" font-size="8.5" text-anchor="start" fill="#1a1a1a" >45</text>
<rect x="374.9" y="565" width="5.8" height="5.8" fill="#f03030"/>
<text x="385.3" y="571.3" font-size="8.5" text-anchor="start" fill="#1a1a1a" >2</text>
<text x="444.8" y="297.5" font-size="12.5" text-anchor="start" font-weight="bold" fill="#000" >f</text>
<rect x="459.5" y="314.2" width="8.4" height="16.7" fill="url(#cbar)" stroke="#6a6a6a" stroke-width="0.8"/>
<text x="468.2" y="318.09999999999997" font-size="8.4" text-anchor="start" fill="#1a1a1a" >0.0033</text>
<text x="468.2" y="334.2" font-size="9.0" text-anchor="start" fill="#1a1a1a" >0</text>
<polygon points="465.7,357.4 684.5,357.4 575.1,293.0" fill="url(#gf1)"/>
<g clip-path="url(#cf1)">
<polygon points="486,357.4 515,357.4 500.5,348.9" fill="url(#tgf10)"/>
<polygon points="522,357.4 560,357.4 541.0,346.2" fill="url(#tgf11)"/>
<polygon points="598,357.4 650,357.4 624.0,342.1" fill="url(#tgf12)"/>
<polygon points="640,357.4 684.5,357.4 662.25,344.3" fill="url(#tgf13)"/>
<ellipse cx="574.6" cy="307.5" rx="5" ry="2.5" fill="#ff0000" opacity="0.45"/>
<ellipse cx="575" cy="303" rx="5" ry="7" fill="#ff0000" opacity="0.15"/>
<ellipse cx="584" cy="314.5" rx="5" ry="2.5" fill="#ff0000" opacity="0.22"/>
<ellipse cx="563" cy="313" rx="3" ry="2" fill="#ff0000" opacity="0.3"/>
<ellipse cx="647.5" cy="351" rx="4" ry="2" fill="#ff0000" opacity="0.4"/>
<ellipse cx="577" cy="320" rx="2" ry="3" fill="#ff0000" opacity="0.15"/>
</g>
<polygon points="465.7,357.4 684.5,357.4 575.1,293.0" fill="url(#gdf1)" filter="url(#densH)"/>
<path d="M466.23,357.45 L467.43,356.65 L468.62,357.45 Z M469.68,357.45 L470.88,356.65 L472.07,357.45 Z M473.12,357.45 L474.32,356.65 L475.52,357.45 Z M476.57,357.45 L477.77,356.65 L478.97,357.45 Z M480.02,357.45 L481.22,356.65 L482.42,357.45 Z M483.47,357.45 L484.67,356.65 L485.87,357.45 Z M486.92,357.45 L488.12,356.65 L489.32,357.45 Z M490.37,357.45 L491.57,356.65 L492.77,357.45 Z M493.82,357.45 L495.02,356.65 L496.22,357.45 Z M497.27,357.45 L498.47,356.65 L499.67,357.45 Z M500.72,357.45 L501.92,356.65 L503.12,357.45 Z M504.17,357.45 L505.37,356.65 L506.57,357.45 Z M507.62,357.45 L508.82,356.65 L510.02,357.45 Z M511.07,357.45 L512.27,356.65 L513.47,357.45 Z M514.52,357.45 L515.72,356.65 L516.92,357.45 Z M517.97,357.45 L519.17,356.65 L520.38,357.45 Z M521.42,357.45 L522.62,356.65 L523.83,357.45 Z M524.88,357.45 L526.08,356.65 L527.28,357.45 Z M528.33,357.45 L529.53,356.65 L530.73,357.45 Z M531.78,357.45 L532.98,356.65 L534.18,357.45 Z M535.23,357.45 L536.43,356.65 L537.63,357.45 Z M538.68,357.45 L539.88,356.65 L541.08,357.45 Z M542.13,357.45 L543.33,356.65 L544.53,357.45 Z M545.58,357.45 L546.78,356.65 L547.98,357.45 Z M549.03,357.45 L550.23,356.65 L551.43,357.45 Z M552.48,357.45 L553.68,356.65 L554.88,357.45 Z M555.93,357.45 L557.13,356.65 L558.33,357.45 Z M559.38,357.45 L560.58,356.65 L561.78,357.45 Z M562.83,357.45 L564.03,356.65 L565.23,357.45 Z M566.28,357.45 L567.48,356.65 L568.68,357.45 Z M569.73,357.45 L570.93,356.65 L572.13,357.45 Z M573.18,357.45 L574.38,356.65 L575.58,357.45 Z M576.63,357.45 L577.83,356.65 L579.03,357.45 Z M580.08,357.45 L581.28,356.65 L582.48,357.45 Z M583.53,357.45 L584.73,356.65 L585.93,357.45 Z M586.98,357.45 L588.18,356.65 L589.38,357.45 Z M590.43,357.45 L591.63,356.65 L592.83,357.45 Z M593.88,357.45 L595.08,356.65 L596.28,357.45 Z M597.33,357.45 L598.53,356.65 L599.73,357.45 Z M600.78,357.45 L601.98,356.65 L603.18,357.45 Z M604.23,357.45 L605.43,356.65 L606.63,357.45 Z M607.68,357.45 L608.88,356.65 L610.08,357.45 Z M611.13,357.45 L612.33,356.65 L613.53,357.45 Z M614.58,357.45 L615.78,356.65 L616.98,357.45 Z M618.03,357.45 L619.23,356.65 L620.43,357.45 Z M621.48,357.45 L622.68,356.65 L623.88,357.45 Z M624.93,357.45 L626.13,356.65 L627.33,357.45 Z M628.38,357.45 L629.58,356.65 L630.78,357.45 Z M631.83,357.45 L633.03,356.65 L634.23,357.45 Z M635.28,357.45 L636.48,356.65 L637.68,357.45 Z M638.73,357.45 L639.93,356.65 L641.13,357.45 Z M642.18,357.45 L643.38,356.65 L644.58,357.45 Z M645.63,357.45 L646.83,356.65 L648.03,357.45 Z M649.08,357.45 L650.28,356.65 L651.48,357.45 Z M652.53,357.45 L653.73,356.65 L654.93,357.45 Z M655.98,357.45 L657.18,356.65 L658.38,357.45 Z M659.43,357.45 L660.63,356.65 L661.83,357.45 Z M662.88,357.45 L664.08,356.65 L665.28,357.45 Z M666.33,357.45 L667.53,356.65 L668.73,357.45 Z M669.78,357.45 L670.98,356.65 L672.18,357.45 Z M673.23,357.45 L674.43,356.65 L675.63,357.45 Z M676.68,357.45 L677.88,356.65 L679.08,357.45 Z M680.13,357.45 L681.33,356.65 L682.53,357.45 Z " fill="#fff" opacity="0.85"/>
<text x="577" y="289.2" font-size="9.9" text-anchor="middle" fill="#1a1a1a" >Region Capture Micro-C</text>
<text x="577" y="301.4" font-size="9.9" text-anchor="middle" fill="#1a1a1a" >in mouse ES cells (500bp resolution)</text>
<text x="631.0" y="323.8" font-size="9.6" text-anchor="start" fill="#1a1a1a" >ICE</text>
<rect x="490.2" y="357.8" width="4.0" height="138" fill="#fffed2"/>
<rect x="509.3" y="357.8" width="7.699999999999989" height="138" fill="#fffed2"/>
<rect x="617.0" y="357.8" width="8.399999999999977" height="138" fill="#fffed2"/>
<rect x="632.1" y="357.8" width="8.5" height="138" fill="#fffed2"/>
<rect x="652.2" y="357.8" width="11.599999999999909" height="138" fill="#fffed2"/>
<line x1="520.3" y1="359.2" x2="520.3" y2="362.3" stroke="#222" stroke-width="0.8"/>
<text x="520.3" y="373" font-size="8.6" text-anchor="middle" fill="#1a1a1a" >34,725,000</text>
<line x1="575.2" y1="359.2" x2="575.2" y2="362.3" stroke="#222" stroke-width="0.8"/>
<text x="575.2" y="373" font-size="8.6" text-anchor="middle" fill="#1a1a1a" >34,760,000</text>
<line x1="629.4" y1="359.2" x2="629.4" y2="362.3" stroke="#222" stroke-width="0.8"/>
<text x="629.4" y="373" font-size="8.6" text-anchor="middle" fill="#1a1a1a" >34,795,000</text>
<text x="456.6" y="367.5" font-size="8.6" text-anchor="start" fill="#1a1a1a" >chr3</text>
<text x="466.4" y="384.9" font-size="8.6" text-anchor="start" fill="#1a1a1a" >Sox2</text>
<rect x="488.3" y="378.6" width="3.8" height="8.4" fill="#aaa" stroke="#222" stroke-width="0.8"/>
<line x1="464.0" y1="388.4" x2="464.0" y2="407.7" stroke="#000" stroke-width="1.3"/>
<line x1="462.6" y1="388.9" x2="464.0" y2="388.9" stroke="#000" stroke-width="1"/>
<line x1="462.6" y1="407.2" x2="464.0" y2="407.2" stroke="#000" stroke-width="1"/>
<text x="462.5" y="395.29999999999995" font-size="8.6" text-anchor="end" fill="#1a1a1a" >3</text>
<text x="462.5" y="405.7" font-size="8.6" text-anchor="end" fill="#1a1a1a" >0</text>
<line x1="464.0" y1="408.4" x2="464.0" y2="427.7" stroke="#000" stroke-width="1.3"/>
<line x1="462.6" y1="408.9" x2="464.0" y2="408.9" stroke="#000" stroke-width="1"/>
<line x1="462.6" y1="427.2" x2="464.0" y2="427.2" stroke="#000" stroke-width="1"/>
<text x="462.5" y="415.29999999999995" font-size="8.6" text-anchor="end" fill="#1a1a1a" >20</text>
<text x="462.5" y="425.7" font-size="8.6" text-anchor="end" fill="#1a1a1a" >0</text>
<line x1="464.0" y1="428.5" x2="464.0" y2="447.8" stroke="#000" stroke-width="1.3"/>
<line x1="462.6" y1="429.0" x2="464.0" y2="429.0" stroke="#000" stroke-width="1"/>
<line x1="462.6" y1="447.3" x2="464.0" y2="447.3" stroke="#000" stroke-width="1"/>
<text x="462.5" y="435.4" font-size="8.6" text-anchor="end" fill="#1a1a1a" >15</text>
<text x="462.5" y="445.8" font-size="8.6" text-anchor="end" fill="#1a1a1a" >0</text>
<line x1="464.0" y1="448.4" x2="464.0" y2="467.7" stroke="#000" stroke-width="1.3"/>
<line x1="462.6" y1="448.9" x2="464.0" y2="448.9" stroke="#000" stroke-width="1"/>
<line x1="462.6" y1="467.2" x2="464.0" y2="467.2" stroke="#000" stroke-width="1"/>
<text x="462.5" y="455.29999999999995" font-size="8.6" text-anchor="end" fill="#1a1a1a" >5</text>
<text x="462.5" y="465.7" font-size="8.6" text-anchor="end" fill="#1a1a1a" >0</text>
<line x1="464.0" y1="467.9" x2="464.0" y2="487.2" stroke="#000" stroke-width="1.3"/>
<line x1="462.6" y1="468.4" x2="464.0" y2="468.4" stroke="#000" stroke-width="1"/>
<line x1="462.6" y1="486.7" x2="464.0" y2="486.7" stroke="#000" stroke-width="1"/>
<text x="462.5" y="474.79999999999995" font-size="8.6" text-anchor="end" fill="#1a1a1a" >40</text>
<text x="462.5" y="485.2" font-size="8.6" text-anchor="end" fill="#1a1a1a" >0</text>
<text x="466.6" y="398.0" font-size="8.4" text-anchor="start" fill="#1a1a1a" >RNA-Seq</text>
<text x="466.6" y="418.0" font-size="8.4" text-anchor="start" fill="#1a1a1a" >CTCF</text>
<text x="466.6" y="438.1" font-size="8.4" text-anchor="start" fill="#1a1a1a" >RAD21</text>
<text x="466.6" y="458.0" font-size="8.4" text-anchor="start" fill="#1a1a1a" >POLR2A</text>
<text x="466.6" y="477.5" font-size="8.4" text-anchor="start" fill="#1a1a1a" >H3K27ac</text>
<path d="M485.50,407.40 L485.50,407.40 L485.75,407.40 L486.00,402.79 L486.25,399.91 L486.50,397.45 L486.75,395.23 L487.00,393.18 L487.25,391.24 L487.50,389.40 L487.75,391.24 L488.00,393.18 L488.25,395.23 L488.50,397.45 L488.75,396.70 L489.00,394.46 L489.25,392.37 L489.50,390.40 L489.75,392.37 L490.00,394.46 L490.25,396.70 L490.50,399.17 L490.75,399.73 L491.00,400.77 L491.25,402.68 L491.50,406.92 L491.75,406.92 L492.00,407.40 L492.00,407.40 Z" fill="#e31a1c" fill-opacity="1.0" stroke="#e31a1c" stroke-width="0.5" stroke-opacity="0.5"/>
<line x1="485.5" y1="407.09999999999997" x2="492" y2="407.09999999999997" stroke="#e31a1c" stroke-width="0.9"/>
<line x1="470" y1="407.2" x2="486" y2="407.2" stroke="#f4a0a0" stroke-width="0.6" stroke-dasharray="1.5 2"/>
<line x1="492" y1="407.2" x2="565" y2="407.2" stroke="#f4a0a0" stroke-width="0.6" stroke-dasharray="3 1.5"/>
<line x1="570" y1="407.2" x2="633" y2="407.2" stroke="#f08080" stroke-width="0.6" stroke-dasharray="1 3"/>
<line x1="634" y1="407.2" x2="685" y2="407.2" stroke="#f07070" stroke-width="0.8"/>
<path d="M465.00,427.50 L465.00,427.50 L465.25,427.50 L465.50,427.50 L465.75,427.50 L466.00,427.50 L466.25,427.50 L466.50,427.50 L466.75,417.53 L467.00,413.50 L467.25,417.53 L467.50,426.56 L467.75,426.56 L468.00,427.50 L468.25,420.02 L468.50,421.67 L468.75,427.50 L469.00,427.50 L469.25,427.50 L469.50,427.50 L469.75,427.50 L470.00,427.25 L470.25,415.40 L470.50,410.50 L470.75,415.40 L471.00,426.53 L471.25,426.53 L471.50,426.84 L471.75,426.84 L472.00,427.50 L472.25,427.50 L472.50,427.50 L472.75,416.82 L473.00,412.50 L473.25,416.82 L473.50,427.50 L473.75,427.50 L474.00,427.50 L474.25,427.50 L474.50,427.50 L474.75,418.96 L475.00,415.50 L475.25,418.96 L475.50,427.50 L475.75,427.50 L476.00,427.27 L476.25,427.27 L476.50,427.38 L476.75,427.38 L477.00,427.50 L477.25,427.50 L477.50,426.82 L477.75,426.82 L478.00,427.47 L478.25,427.47 L478.50,427.50 L478.75,427.50 L479.00,427.50 L479.25,427.50 L479.50,427.50 L479.75,427.50 L480.00,427.50 L480.25,427.50 L480.50,427.50 L480.75,427.50 L481.00,427.50 L481.25,427.50 L481.50,426.76 L481.75,426.76 L482.00,427.50 L482.25,427.50 L482.50,427.50 L482.75,427.50 L483.00,427.50 L483.25,416.11 L483.50,411.50 L483.75,416.11 L484.00,427.50 L484.25,427.50 L484.50,427.50 L484.75,427.50 L485.00,427.50 L485.25,427.50 L485.50,427.44 L485.75,427.44 L486.00,427.50 L486.25,427.50 L486.50,427.50 L486.75,427.50 L487.00,427.50 L487.25,427.50 L487.50,427.50 L487.75,427.50 L488.00,426.52 L488.25,426.52 L488.50,427.50 L488.75,427.50 L489.00,427.50 L489.25,427.50 L489.50,427.27 L489.75,427.27 L490.00,427.50 L490.25,427.50 L490.50,427.50 L490.75,427.50 L491.00,427.10 L491.25,427.10 L491.50,426.82 L491.75,426.82 L492.00,427.41 L492.25,427.41 L492.50,427.50 L492.75,427.50 L493.00,427.50 L493.25,427.50 L493.50,427.23 L493.75,427.23 L494.00,427.41 L494.25,427.41 L494.50,427.50 L494.75,427.50 L495.00,427.50 L495.25,427.50 L495.50,427.50 L495.75,427.50 L496.00,427.50 L496.25,427.50 L496.50,426.24 L496.75,426.24 L497.00,427.50 L497.25,427.50 L497.50,426.71 L497.75,426.71 L498.00,427.50 L498.25,427.50 L498.50,427.42 L498.75,427.42 L499.00,427.50 L499.25,427.50 L499.50,427.50 L499.75,427.50 L500.00,427.50 L500.25,427.50 L500.50,426.98 L500.75,426.98 L501.00,427.50 L501.25,427.50 L501.50,427.50 L501.75,427.50 L502.00,427.50 L502.25,427.50 L502.50,427.38 L502.75,427.38 L503.00,427.50 L503.25,427.50 L503.50,427.50 L503.75,427.50 L504.00,427.50 L504.25,427.50 L504.50,427.13 L504.75,427.13 L505.00,427.50 L505.25,427.50 L505.50,427.50 L505.75,427.50 L506.00,426.17 L506.25,426.17 L506.50,427.50 L506.75,427.50 L507.00,427.40 L507.25,427.40 L507.50,427.50 L507.75,427.50 L508.00,426.18 L508.25,426.18 L508.50,427.50 L508.75,427.50 L509.00,427.50 L509.25,427.50 L509.50,427.50 L509.75,427.50 L510.00,427.41 L510.25,427.41 L510.50,426.85 L510.75,426.85 L511.00,427.50 L511.25,427.50 L511.50,426.35 L511.75,426.35 L512.00,427.50 L512.25,427.50 L512.50,427.26 L512.75,427.26 L513.00,427.50 L513.25,422.26 L513.50,419.49 L513.75,420.01 L514.00,422.89 L514.25,427.50 L514.50,427.50 L514.75,427.50 L515.00,427.50 L515.25,427.50 L515.50,427.50 L515.75,427.50 L516.00,427.50 L516.25,427.50 L516.50,427.50 L516.75,427.50 L517.00,427.50 L517.25,427.50 L517.50,427.50 L517.75,427.50 L518.00,427.50 L518.25,427.50 L518.50,427.50 L518.75,427.50 L519.00,427.50 L519.25,427.50 L519.50,427.50 L519.75,427.50 L520.00,427.50 L520.25,420.52 L520.50,416.82 L520.75,417.51 L521.00,421.35 L521.25,427.50 L521.50,427.50 L521.75,427.50 L522.00,427.50 L522.25,427.50 L522.50,427.50 L522.75,427.50 L523.00,427.50 L523.25,427.50 L523.50,427.50 L523.75,427.50 L524.00,427.50 L524.25,427.50 L524.50,427.35 L524.75,427.35 L525.00,427.50 L525.25,427.50 L525.50,427.50 L525.75,427.50 L526.00,427.50 L526.25,427.50 L526.50,427.50 L526.75,427.50 L527.00,427.50 L527.25,427.50 L527.50,427.12 L527.75,427.12 L528.00,427.50 L528.25,427.50 L528.50,427.50 L528.75,427.50 L529.00,427.29 L529.25,427.29 L529.50,427.50 L529.75,427.50 L530.00,427.50 L530.25,427.50 L530.50,427.49 L530.75,427.49 L531.00,427.50 L531.25,427.50 L531.50,427.50 L531.75,427.50 L532.00,427.50 L532.25,427.50 L532.50,427.50 L532.75,427.50 L533.00,427.50 L533.25,427.50 L533.50,427.50 L533.75,427.50 L534.00,427.19 L534.25,427.19 L534.50,427.50 L534.75,427.50 L535.00,426.88 L535.25,426.88 L535.50,427.50 L535.75,427.50 L536.00,427.37 L536.25,427.37 L536.50,427.50 L536.75,427.50 L537.00,427.34 L537.25,427.34 L537.50,427.46 L537.75,427.46 L538.00,427.50 L538.25,427.50 L538.50,426.25 L538.75,426.25 L539.00,427.50 L539.25,427.50 L539.50,427.50 L539.75,427.50 L540.00,427.22 L540.25,427.22 L540.50,427.50 L540.75,427.50 L541.00,427.50 L541.25,427.50 L541.50,427.23 L541.75,427.23 L542.00,427.50 L542.25,427.50 L542.50,427.50 L542.75,427.50 L543.00,427.12 L543.25,427.12 L543.50,427.50 L543.75,427.50 L544.00,427.50 L544.25,427.50 L544.50,427.50 L544.75,427.50 L545.00,427.50 L545.25,427.50 L545.50,427.50 L545.75,427.50 L546.00,427.50 L546.25,427.50 L546.50,427.50 L546.75,427.50 L547.00,427.50 L547.25,424.65 L547.50,423.50 L547.75,424.65 L548.00,427.50 L548.25,427.50 L548.50,427.50 L548.75,427.50 L549.00,427.50 L549.25,427.50 L549.50,427.50 L549.75,427.50 L550.00,427.44 L550.25,427.44 L550.50,427.50 L550.75,427.50 L551.00,427.50 L551.25,427.50 L551.50,427.50 L551.75,427.50 L552.00,426.20 L552.25,426.20 L552.50,427.50 L552.75,427.50 L553.00,427.50 L553.25,427.50 L553.50,427.50 L553.75,427.50 L554.00,427.50 L554.25,427.50 L554.50,427.50 L554.75,427.50 L555.00,426.94 L555.25,426.94 L555.50,427.50 L555.75,427.50 L556.00,427.50 L556.25,427.50 L556.50,427.50 L556.75,427.50 L557.00,427.50 L557.25,427.50 L557.50,427.50 L557.75,427.50 L558.00,427.29 L558.25,427.29 L558.50,427.50 L558.75,427.50 L559.00,427.50 L559.25,427.50 L559.50,427.50 L559.75,427.50 L560.00,427.50 L560.25,427.50 L560.50,427.45 L560.75,427.45 L561.00,426.09 L561.25,426.09 L561.50,427.50 L561.75,427.50 L562.00,426.49 L562.25,426.49 L562.50,427.50 L562.75,427.50 L563.00,427.50 L563.25,427.50 L563.50,427.50 L563.75,427.50 L564.00,427.50 L564.25,427.50 L564.50,427.50 L564.75,427.50 L565.00,426.41 L565.25,426.41 L565.50,427.50 L565.75,427.50 L566.00,426.37 L566.25,426.37 L566.50,427.39 L566.75,427.39 L567.00,427.47 L567.25,427.47 L567.50,426.78 L567.75,426.78 L568.00,427.46 L568.25,427.46 L568.50,427.38 L568.75,427.38 L569.00,427.50 L569.25,427.50 L569.50,427.50 L569.75,427.50 L570.00,426.85 L570.25,426.85 L570.50,427.50 L570.75,427.50 L571.00,427.50 L571.25,427.50 L571.50,427.50 L571.75,427.50 L572.00,427.50 L572.25,427.50 L572.50,427.50 L572.75,427.50 L573.00,427.50 L573.25,427.50 L573.50,427.50 L573.75,427.50 L574.00,427.50 L574.25,427.50 L574.50,427.50 L574.75,427.50 L575.00,427.50 L575.25,427.50 L575.50,427.50 L575.75,427.50 L576.00,427.50 L576.25,427.50 L576.50,427.50 L576.75,427.50 L577.00,426.24 L577.25,426.24 L577.50,427.50 L577.75,427.50 L578.00,427.50 L578.25,427.50 L578.50,427.50 L578.75,427.50 L579.00,427.50 L579.25,427.50 L579.50,427.50 L579.75,427.50 L580.00,427.50 L580.25,427.50 L580.50,427.50 L580.75,427.50 L581.00,427.50 L581.25,427.50 L581.50,427.50 L581.75,427.50 L582.00,427.50 L582.25,427.50 L582.50,427.50 L582.75,427.50 L583.00,425.96 L583.25,425.00 L583.50,424.83 L583.75,425.75 L584.00,427.49 L584.25,427.49 L584.50,427.50 L584.75,427.50 L585.00,427.50 L585.25,427.50 L585.50,427.50 L585.75,427.50 L586.00,427.50 L586.25,427.50 L586.50,427.50 L586.75,427.50 L587.00,427.50 L587.25,427.50 L587.50,427.44 L587.75,427.44 L588.00,427.50 L588.25,427.50 L588.50,427.50 L588.75,427.50 L589.00,426.69 L589.25,426.69 L589.50,427.50 L589.75,427.50 L590.00,427.50 L590.25,427.50 L590.50,427.50 L590.75,427.50 L591.00,427.49 L591.25,427.49 L591.50,427.50 L591.75,427.50 L592.00,427.50 L592.25,427.50 L592.50,427.50 L592.75,427.50 L593.00,427.50 L593.25,427.50 L593.50,427.50 L593.75,427.50 L594.00,427.50 L594.25,427.50 L594.50,426.24 L594.75,426.24 L595.00,427.50 L595.25,427.50 L595.50,427.50 L595.75,427.50 L596.00,427.44 L596.25,427.44 L596.50,427.50 L596.75,425.36 L597.00,424.50 L597.25,425.36 L597.50,427.50 L597.75,427.50 L598.00,427.50 L598.25,427.50 L598.50,427.50 L598.75,427.50 L599.00,427.50 L599.25,427.50 L599.50,427.50 L599.75,427.50 L600.00,427.50 L600.25,427.50 L600.50,427.50 L600.75,427.50 L601.00,426.97 L601.25,426.97 L601.50,427.50 L601.75,427.50 L602.00,427.50 L602.25,427.50 L602.50,427.32 L602.75,427.32 L603.00,427.50 L603.25,427.50 L603.50,427.11 L603.75,427.11 L604.00,427.50 L604.25,427.50 L604.50,427.50 L604.75,427.50 L605.00,427.28 L605.25,427.28 L605.50,426.73 L605.75,426.73 L606.00,427.50 L606.25,427.50 L606.50,427.10 L606.75,427.10 L607.00,427.50 L607.25,427.50 L607.50,427.50 L607.75,427.50 L608.00,427.50 L608.25,427.50 L608.50,427.50 L608.75,427.50 L609.00,427.50 L609.25,427.50 L609.50,427.50 L609.75,427.50 L610.00,427.50 L610.25,427.50 L610.50,427.50 L610.75,425.36 L611.00,424.50 L611.25,425.36 L611.50,427.30 L611.75,427.30 L612.00,427.38 L612.25,427.38 L612.50,427.50 L612.75,427.50 L613.00,427.50 L613.25,427.50 L613.50,427.50 L613.75,427.50 L614.00,427.37 L614.25,427.37 L614.50,427.50 L614.75,427.50 L615.00,427.50 L615.25,427.50 L615.50,427.50 L615.75,427.50 L616.00,427.50 L616.25,427.50 L616.50,426.88 L616.75,426.88 L617.00,427.43 L617.25,427.43 L617.50,427.50 L617.75,427.50 L618.00,427.50 L618.25,427.50 L618.50,427.50 L618.75,427.50 L619.00,427.26 L619.25,427.26 L619.50,426.47 L619.75,426.47 L620.00,427.46 L620.25,427.46 L620.50,427.50 L620.75,427.50 L621.00,427.50 L621.25,427.50 L621.50,427.50 L621.75,427.50 L622.00,427.50 L622.25,427.50 L622.50,427.50 L622.75,427.50 L623.00,427.50 L623.25,427.50 L623.50,427.50 L623.75,427.50 L624.00,427.50 L624.25,427.50 L624.50,427.50 L624.75,427.50 L625.00,427.50 L625.25,427.50 L625.50,427.50 L625.75,427.50 L626.00,427.50 L626.25,427.50 L626.50,427.14 L626.75,427.14 L627.00,427.50 L627.25,427.50 L627.50,427.50 L627.75,427.50 L628.00,427.50 L628.25,427.50 L628.50,427.50 L628.75,427.50 L629.00,427.50 L629.25,427.50 L629.50,427.50 L629.75,427.50 L630.00,427.50 L630.25,427.50 L630.50,426.34 L630.75,426.34 L631.00,427.50 L631.25,427.50 L631.50,427.50 L631.75,427.50 L632.00,427.50 L632.25,427.50 L632.50,427.50 L632.75,427.50 L633.00,426.49 L633.25,426.49 L633.50,427.50 L633.75,427.50 L634.00,427.50 L634.25,427.50 L634.50,427.28 L634.75,427.28 L635.00,427.50 L635.25,427.50 L635.50,427.39 L635.75,427.39 L636.00,427.49 L636.25,427.49 L636.50,427.50 L636.75,427.50 L637.00,427.50 L637.25,427.50 L637.50,427.50 L637.75,427.50 L638.00,427.50 L638.25,427.50 L638.50,427.50 L638.75,427.50 L639.00,427.44 L639.25,427.44 L639.50,427.50 L639.75,427.50 L640.00,427.50 L640.25,427.50 L640.50,427.50 L640.75,427.50 L641.00,427.50 L641.25,427.50 L641.50,427.50 L641.75,427.50 L642.00,426.28 L642.25,426.28 L642.50,427.50 L642.75,427.50 L643.00,427.50 L643.25,427.50 L643.50,427.50 L643.75,427.50 L644.00,427.12 L644.25,427.12 L644.50,427.50 L644.75,427.50 L645.00,426.98 L645.25,426.98 L645.50,426.48 L645.75,426.48 L646.00,427.50 L646.25,427.50 L646.50,427.50 L646.75,427.50 L647.00,427.50 L647.25,423.94 L647.50,422.50 L647.75,423.94 L648.00,427.50 L648.25,427.50 L648.50,427.50 L648.75,427.50 L649.00,426.25 L649.25,426.25 L649.50,427.50 L649.75,427.50 L650.00,427.50 L650.25,427.50 L650.50,427.50 L650.75,427.50 L651.00,427.50 L651.25,427.50 L651.50,427.50 L651.75,427.50 L652.00,427.50 L652.25,427.50 L652.50,427.50 L652.75,427.50 L653.00,427.50 L653.25,427.50 L653.50,427.50 L653.75,427.50 L654.00,426.59 L654.25,426.59 L654.50,427.50 L654.75,427.50 L655.00,427.50 L655.25,427.50 L655.50,427.50 L655.75,427.50 L656.00,427.29 L656.25,427.29 L656.50,427.50 L656.75,427.50 L657.00,427.50 L657.25,427.50 L657.50,427.50 L657.75,427.50 L658.00,427.50 L658.25,427.50 L658.50,415.83 L658.75,410.48 L659.00,413.59 L659.25,427.50 L659.50,427.50 L659.75,427.50 L660.00,427.50 L660.25,427.50 L660.50,427.49 L660.75,427.49 L661.00,427.50 L661.25,427.50 L661.50,427.50 L661.75,427.50 L662.00,427.01 L662.25,427.01 L662.50,426.11 L662.75,426.11 L663.00,427.50 L663.25,427.50 L663.50,426.51 L663.75,426.51 L664.00,427.50 L664.25,427.50 L664.50,427.50 L664.75,427.50 L665.00,427.30 L665.25,427.30 L665.50,427.50 L665.75,427.50 L666.00,427.07 L666.25,427.07 L666.50,427.50 L666.75,427.50 L667.00,427.50 L667.25,427.50 L667.50,427.50 L667.75,427.50 L668.00,427.50 L668.25,427.50 L668.50,426.69 L668.75,426.69 L669.00,427.50 L669.25,427.50 L669.50,427.50 L669.75,427.50 L670.00,427.50 L670.25,427.50 L670.50,427.50 L670.75,427.50 L671.00,427.19 L671.25,427.19 L671.50,427.50 L671.75,427.50 L672.00,427.50 L672.25,427.50 L672.50,427.50 L672.75,427.50 L673.00,427.50 L673.25,427.50 L673.50,427.50 L673.75,427.50 L674.00,427.50 L674.25,414.69 L674.50,409.50 L674.75,414.69 L675.00,426.39 L675.25,426.39 L675.50,427.50 L675.75,427.50 L676.00,427.50 L676.25,427.50 L676.50,427.38 L676.75,427.38 L677.00,427.50 L677.25,427.50 L677.50,427.50 L677.75,427.50 L678.00,427.50 L678.25,427.50 L678.50,427.49 L678.75,427.49 L679.00,427.50 L679.25,427.50 L679.50,427.47 L679.75,427.47 L680.00,427.50 L680.25,427.50 L680.50,427.50 L680.75,427.50 L681.00,427.50 L681.25,427.50 L681.50,427.50 L681.75,427.50 L682.00,427.50 L682.25,427.50 L682.50,427.50 L682.75,427.50 L683.00,427.50 L683.25,427.50 L683.50,427.50 L683.75,427.50 L684.00,426.13 L684.25,426.13 L684.50,427.50 L684.75,427.50 L685.00,427.50 L685.00,427.50 Z" fill="#4a90c8" fill-opacity="1.0" stroke="#4a90c8" stroke-width="0.5" stroke-opacity="0.5"/>
<line x1="465" y1="427.2" x2="685" y2="427.2" stroke="#8fbde0" stroke-width="0.9"/>
<path d="M465.00,447.40 L465.00,445.40 L465.25,445.40 L465.50,444.19 L465.75,444.19 L466.00,447.22 L466.25,447.22 L466.50,447.23 L466.75,447.23 L467.00,447.35 L467.25,447.35 L467.50,447.25 L467.75,447.25 L468.00,446.68 L468.25,446.68 L468.50,445.86 L468.75,445.86 L469.00,447.13 L469.25,447.13 L469.50,440.45 L469.75,436.11 L470.00,432.40 L470.25,436.11 L470.50,440.45 L470.75,444.99 L471.00,447.40 L471.25,447.40 L471.50,447.17 L471.75,447.17 L472.00,446.46 L472.25,446.46 L472.50,446.09 L472.75,446.09 L473.00,446.90 L473.25,446.90 L473.50,447.04 L473.75,447.04 L474.00,444.43 L474.25,444.43 L474.50,442.94 L474.75,442.94 L475.00,446.14 L475.25,446.14 L475.50,447.34 L475.75,447.34 L476.00,446.63 L476.25,446.63 L476.50,447.26 L476.75,447.26 L477.00,447.18 L477.25,447.18 L477.50,445.87 L477.75,445.87 L478.00,447.35 L478.25,447.35 L478.50,447.21 L478.75,447.21 L479.00,447.27 L479.25,447.27 L479.50,447.39 L479.75,447.39 L480.00,443.26 L480.25,443.26 L480.50,445.17 L480.75,445.17 L481.00,447.40 L481.25,447.40 L481.50,447.34 L481.75,447.34 L482.00,444.28 L482.25,444.28 L482.50,447.32 L482.75,447.32 L483.00,441.84 L483.25,438.37 L483.50,435.40 L483.75,438.37 L484.00,441.84 L484.25,444.15 L484.50,445.19 L484.75,445.19 L485.00,443.09 L485.25,443.09 L485.50,445.15 L485.75,445.15 L486.00,445.81 L486.25,445.81 L486.50,445.95 L486.75,445.95 L487.00,445.11 L487.25,445.11 L487.50,447.09 L487.75,447.09 L488.00,445.41 L488.25,445.41 L488.50,447.23 L488.75,447.23 L489.00,445.66 L489.25,445.66 L489.50,446.20 L489.75,446.20 L490.00,446.65 L490.25,446.65 L490.50,447.38 L490.75,447.38 L491.00,442.82 L491.25,442.82 L491.50,447.07 L491.75,447.07 L492.00,445.92 L492.25,445.92 L492.50,446.53 L492.75,446.53 L493.00,444.31 L493.25,444.31 L493.50,446.99 L493.75,446.99 L494.00,443.10 L494.25,443.10 L494.50,446.51 L494.75,446.51 L495.00,447.08 L495.25,447.08 L495.50,446.39 L495.75,446.39 L496.00,447.40 L496.25,447.40 L496.50,447.17 L496.75,447.17 L497.00,444.19 L497.25,444.19 L497.50,445.97 L497.75,445.97 L498.00,447.19 L498.25,447.19 L498.50,447.26 L498.75,447.26 L499.00,447.40 L499.25,447.40 L499.50,447.38 L499.75,447.38 L500.00,445.91 L500.25,445.91 L500.50,444.78 L500.75,444.78 L501.00,446.48 L501.25,446.48 L501.50,446.99 L501.75,446.99 L502.00,446.66 L502.25,446.66 L502.50,444.07 L502.75,444.07 L503.00,444.40 L503.25,444.40 L503.50,447.07 L503.75,447.07 L504.00,447.40 L504.25,447.40 L504.50,446.91 L504.75,446.91 L505.00,443.96 L505.25,443.96 L505.50,447.40 L505.75,447.40 L506.00,446.24 L506.25,446.24 L506.50,444.56 L506.75,444.56 L507.00,443.81 L507.25,443.81 L507.50,447.35 L507.75,447.35 L508.00,447.19 L508.25,447.19 L508.50,447.33 L508.75,447.33 L509.00,446.88 L509.25,446.88 L509.50,444.57 L509.75,444.57 L510.00,445.18 L510.25,445.18 L510.50,443.43 L510.75,443.43 L511.00,443.57 L511.25,443.57 L511.50,446.05 L511.75,446.05 L512.00,444.27 L512.25,444.27 L512.50,447.36 L512.75,447.36 L513.00,446.24 L513.25,446.24 L513.50,446.24 L513.75,446.24 L514.00,443.18 L514.25,443.18 L514.50,447.38 L514.75,447.38 L515.00,447.40 L515.25,447.40 L515.50,447.37 L515.75,447.37 L516.00,444.05 L516.25,444.05 L516.50,447.40 L516.75,447.40 L517.00,446.70 L517.25,446.70 L517.50,444.32 L517.75,444.32 L518.00,447.10 L518.25,447.10 L518.50,447.36 L518.75,447.36 L519.00,442.84 L519.25,442.84 L519.50,447.15 L519.75,447.15 L520.00,446.61 L520.25,446.61 L520.50,447.40 L520.75,447.40 L521.00,446.99 L521.25,446.99 L521.50,447.40 L521.75,447.40 L522.00,444.18 L522.25,444.18 L522.50,446.73 L522.75,446.73 L523.00,447.40 L523.25,447.40 L523.50,446.47 L523.75,446.47 L524.00,446.56 L524.25,446.56 L524.50,447.40 L524.75,447.40 L525.00,447.28 L525.25,447.28 L525.50,446.50 L525.75,446.50 L526.00,446.05 L526.25,446.05 L526.50,444.42 L526.75,444.42 L527.00,447.37 L527.25,447.37 L527.50,447.06 L527.75,447.06 L528.00,446.41 L528.25,446.41 L528.50,444.31 L528.75,444.31 L529.00,444.99 L529.25,444.99 L529.50,446.69 L529.75,446.69 L530.00,447.40 L530.25,447.40 L530.50,444.08 L530.75,444.08 L531.00,444.27 L531.25,444.27 L531.50,447.39 L531.75,447.39 L532.00,443.52 L532.25,443.52 L532.50,446.46 L532.75,446.46 L533.00,447.19 L533.25,447.19 L533.50,447.40 L533.75,447.40 L534.00,444.89 L534.25,444.89 L534.50,447.23 L534.75,447.23 L535.00,445.30 L535.25,445.30 L535.50,443.63 L535.75,443.63 L536.00,447.37 L536.25,447.37 L536.50,447.40 L536.75,447.40 L537.00,447.40 L537.25,447.40 L537.50,444.34 L537.75,444.34 L538.00,445.16 L538.25,445.16 L538.50,445.96 L538.75,445.96 L539.00,447.35 L539.25,447.35 L539.50,445.92 L539.75,445.92 L540.00,445.67 L540.25,445.67 L540.50,446.35 L540.75,446.35 L541.00,443.96 L541.25,443.96 L541.50,444.47 L541.75,444.47 L542.00,446.05 L542.25,446.05 L542.50,443.45 L542.75,443.45 L543.00,443.27 L543.25,443.27 L543.50,445.48 L543.75,445.48 L544.00,447.40 L544.25,447.40 L544.50,446.87 L544.75,446.87 L545.00,446.49 L545.25,446.49 L545.50,444.47 L545.75,444.47 L546.00,442.94 L546.25,442.94 L546.50,446.75 L546.75,446.75 L547.00,444.96 L547.25,444.96 L547.50,447.24 L547.75,447.24 L548.00,447.01 L548.25,447.01 L548.50,443.12 L548.75,443.12 L549.00,443.45 L549.25,443.45 L549.50,447.26 L549.75,447.26 L550.00,447.40 L550.25,447.40 L550.50,447.36 L550.75,447.36 L551.00,447.39 L551.25,447.39 L551.50,447.25 L551.75,447.25 L552.00,447.40 L552.25,447.40 L552.50,447.39 L552.75,447.39 L553.00,446.09 L553.25,446.09 L553.50,445.56 L553.75,445.56 L554.00,445.30 L554.25,445.30 L554.50,444.16 L554.75,444.16 L555.00,447.39 L555.25,447.39 L555.50,446.31 L555.75,446.31 L556.00,444.72 L556.25,444.72 L556.50,445.26 L556.75,445.26 L557.00,446.71 L557.25,446.71 L557.50,447.12 L557.75,447.12 L558.00,446.15 L558.25,446.15 L558.50,447.40 L558.75,447.40 L559.00,445.20 L559.25,445.20 L559.50,445.60 L559.75,445.60 L560.00,444.12 L560.25,444.12 L560.50,447.40 L560.75,447.40 L561.00,444.52 L561.25,444.52 L561.50,447.06 L561.75,447.06 L562.00,446.64 L562.25,446.64 L562.50,445.27 L562.75,445.27 L563.00,446.72 L563.25,446.72 L563.50,447.21 L563.75,447.21 L564.00,446.90 L564.25,446.90 L564.50,443.87 L564.75,443.87 L565.00,447.37 L565.25,447.37 L565.50,444.44 L565.75,444.44 L566.00,446.71 L566.25,446.71 L566.50,447.40 L566.75,447.40 L567.00,447.19 L567.25,447.19 L567.50,443.70 L567.75,443.70 L568.00,446.91 L568.25,446.91 L568.50,444.98 L568.75,444.98 L569.00,445.01 L569.25,445.01 L569.50,445.74 L569.75,445.74 L570.00,447.40 L570.25,447.40 L570.50,445.91 L570.75,445.91 L571.00,446.43 L571.25,446.43 L571.50,444.45 L571.75,444.45 L572.00,446.86 L572.25,446.86 L572.50,444.66 L572.75,444.66 L573.00,446.69 L573.25,446.69 L573.50,446.14 L573.75,446.14 L574.00,444.31 L574.25,444.31 L574.50,446.12 L574.75,446.12 L575.00,446.64 L575.25,446.64 L575.50,444.95 L575.75,444.95 L576.00,445.00 L576.25,445.00 L576.50,446.13 L576.75,446.13 L577.00,447.28 L577.25,447.28 L577.50,446.66 L577.75,446.66 L578.00,443.76 L578.25,443.76 L578.50,446.94 L578.75,446.94 L579.00,446.57 L579.25,446.57 L579.50,447.32 L579.75,447.32 L580.00,446.68 L580.25,446.68 L580.50,447.39 L580.75,447.39 L581.00,444.56 L581.25,444.56 L581.50,446.10 L581.75,446.10 L582.00,447.40 L582.25,447.40 L582.50,446.62 L582.75,446.62 L583.00,445.84 L583.25,445.84 L583.50,443.97 L583.75,443.97 L584.00,443.20 L584.25,443.20 L584.50,443.11 L584.75,443.11 L585.00,446.61 L585.25,446.61 L585.50,447.40 L585.75,447.40 L586.00,446.36 L586.25,446.36 L586.50,444.60 L586.75,444.60 L587.00,447.20 L587.25,447.20 L587.50,446.72 L587.75,446.72 L588.00,447.40 L588.25,447.40 L588.50,446.54 L588.75,446.54 L589.00,444.36 L589.25,444.36 L589.50,445.09 L589.75,445.09 L590.00,443.16 L590.25,443.16 L590.50,444.63 L590.75,444.63 L591.00,447.40 L591.25,447.40 L591.50,447.09 L591.75,447.09 L592.00,443.18 L592.25,443.18 L592.50,446.43 L592.75,446.43 L593.00,447.18 L593.25,447.18 L593.50,447.36 L593.75,447.36 L594.00,447.39 L594.25,447.39 L594.50,447.29 L594.75,447.29 L595.00,447.39 L595.25,447.39 L595.50,445.76 L595.75,445.76 L596.00,443.86 L596.25,443.86 L596.50,442.84 L596.75,442.84 L597.00,445.74 L597.25,445.74 L597.50,447.30 L597.75,447.30 L598.00,447.20 L598.25,447.20 L598.50,444.68 L598.75,444.68 L599.00,446.05 L599.25,446.05 L599.50,445.15 L599.75,445.15 L600.00,447.31 L600.25,447.31 L600.50,447.19 L600.75,447.19 L601.00,446.60 L601.25,446.60 L601.50,447.37 L601.75,447.37 L602.00,447.21 L602.25,447.21 L602.50,444.46 L602.75,444.46 L603.00,445.17 L603.25,445.17 L603.50,447.24 L603.75,447.24 L604.00,446.22 L604.25,446.22 L604.50,445.89 L604.75,445.89 L605.00,444.73 L605.25,444.73 L605.50,446.71 L605.75,446.71 L606.00,446.64 L606.25,446.64 L606.50,447.14 L606.75,447.14 L607.00,443.94 L607.25,443.94 L607.50,447.39 L607.75,447.39 L608.00,447.36 L608.25,447.36 L608.50,445.80 L608.75,445.80 L609.00,443.76 L609.25,443.76 L609.50,446.07 L609.75,446.07 L610.00,446.54 L610.25,446.54 L610.50,446.54 L610.75,446.54 L611.00,443.21 L611.25,443.21 L611.50,445.05 L611.75,445.05 L612.00,443.86 L612.25,443.86 L612.50,444.12 L612.75,444.12 L613.00,445.93 L613.25,445.93 L613.50,447.40 L613.75,447.40 L614.00,446.04 L614.25,446.04 L614.50,446.00 L614.75,446.00 L615.00,447.11 L615.25,447.11 L615.50,446.73 L615.75,446.73 L616.00,447.28 L616.25,447.28 L616.50,446.84 L616.75,446.84 L617.00,447.06 L617.25,447.06 L617.50,447.40 L617.75,447.40 L618.00,445.41 L618.25,444.77 L618.50,443.90 L618.75,443.12 L619.00,442.40 L619.25,443.12 L619.50,443.90 L619.75,444.77 L620.00,445.78 L620.25,447.40 L620.50,447.40 L620.75,447.40 L621.00,447.31 L621.25,447.31 L621.50,444.60 L621.75,444.60 L622.00,445.01 L622.25,445.01 L622.50,443.64 L622.75,443.64 L623.00,443.19 L623.25,443.19 L623.50,447.33 L623.75,447.33 L624.00,444.81 L624.25,444.81 L624.50,447.18 L624.75,447.18 L625.00,446.33 L625.25,446.33 L625.50,447.37 L625.75,447.37 L626.00,447.40 L626.25,447.40 L626.50,447.24 L626.75,447.24 L627.00,443.81 L627.25,443.81 L627.50,444.25 L627.75,444.25 L628.00,447.40 L628.25,447.40 L628.50,447.28 L628.75,447.28 L629.00,447.40 L629.25,447.40 L629.50,447.40 L629.75,447.40 L630.00,445.09 L630.25,445.09 L630.50,447.37 L630.75,447.37 L631.00,446.64 L631.25,446.64 L631.50,446.11 L631.75,446.11 L632.00,446.70 L632.25,446.70 L632.50,444.06 L632.75,444.06 L633.00,443.81 L633.25,443.81 L633.50,447.26 L633.75,447.26 L634.00,447.31 L634.25,447.31 L634.50,445.58 L634.75,445.58 L635.00,447.28 L635.25,447.28 L635.50,447.35 L635.75,447.35 L636.00,443.15 L636.25,443.15 L636.50,446.71 L636.75,446.71 L637.00,446.89 L637.25,446.89 L637.50,447.30 L637.75,447.30 L638.00,445.36 L638.25,445.36 L638.50,447.39 L638.75,447.39 L639.00,444.26 L639.25,444.26 L639.50,444.35 L639.75,444.35 L640.00,445.76 L640.25,445.76 L640.50,446.01 L640.75,446.01 L641.00,446.32 L641.25,446.32 L641.50,447.40 L641.75,447.40 L642.00,447.25 L642.25,447.25 L642.50,447.40 L642.75,447.40 L643.00,447.40 L643.25,447.40 L643.50,444.09 L643.75,444.09 L644.00,445.18 L644.25,445.18 L644.50,444.20 L644.75,444.20 L645.00,446.45 L645.25,446.45 L645.50,447.26 L645.75,447.26 L646.00,444.08 L646.25,444.08 L646.50,446.65 L646.75,446.65 L647.00,447.28 L647.25,447.28 L647.50,444.28 L647.75,444.28 L648.00,447.40 L648.25,447.40 L648.50,447.10 L648.75,447.10 L649.00,444.07 L649.25,444.07 L649.50,447.29 L649.75,447.29 L650.00,447.38 L650.25,447.38 L650.50,447.22 L650.75,447.22 L651.00,443.49 L651.25,443.49 L651.50,447.09 L651.75,447.09 L652.00,447.40 L652.25,447.40 L652.50,446.05 L652.75,446.05 L653.00,446.94 L653.25,446.94 L653.50,447.40 L653.75,447.40 L654.00,447.30 L654.25,447.30 L654.50,447.39 L654.75,447.39 L655.00,447.40 L655.25,447.40 L655.50,443.69 L655.75,441.38 L656.00,439.40 L656.25,441.38 L656.50,443.69 L656.75,447.40 L657.00,447.40 L657.25,447.40 L657.50,446.21 L657.75,446.21 L658.00,439.98 L658.25,435.35 L658.50,431.40 L658.75,435.35 L659.00,439.98 L659.25,444.70 L659.50,447.09 L659.75,447.09 L660.00,440.95 L660.25,438.00 L660.50,435.40 L660.75,438.00 L661.00,440.95 L661.25,445.89 L661.50,443.23 L661.75,440.62 L662.00,438.40 L662.25,440.62 L662.50,443.23 L662.75,444.80 L663.00,445.89 L663.25,445.89 L663.50,446.27 L663.75,446.27 L664.00,447.03 L664.25,447.03 L664.50,447.33 L664.75,447.33 L665.00,447.40 L665.25,447.40 L665.50,447.38 L665.75,447.38 L666.00,446.70 L666.25,446.70 L666.50,444.13 L666.75,444.13 L667.00,447.09 L667.25,447.09 L667.50,443.32 L667.75,443.32 L668.00,445.62 L668.25,445.62 L668.50,446.49 L668.75,446.49 L669.00,443.67 L669.25,443.67 L669.50,447.40 L669.75,447.40 L670.00,446.99 L670.25,446.99 L670.50,443.61 L670.75,443.61 L671.00,446.70 L671.25,446.70 L671.50,447.06 L671.75,447.06 L672.00,444.70 L672.25,444.70 L672.50,446.15 L672.75,446.15 L673.00,446.56 L673.25,446.56 L673.50,447.40 L673.75,447.40 L674.00,447.37 L674.25,447.37 L674.50,447.40 L674.75,447.40 L675.00,447.40 L675.25,447.40 L675.50,447.09 L675.75,447.09 L676.00,445.07 L676.25,445.07 L676.50,446.62 L676.75,446.62 L677.00,447.37 L677.25,447.37 L677.50,443.94 L677.75,443.94 L678.00,447.40 L678.25,447.40 L678.50,444.72 L678.75,444.72 L679.00,446.30 L679.25,446.30 L679.50,447.37 L679.75,447.37 L680.00,446.97 L680.25,446.97 L680.50,444.62 L680.75,442.88 L681.00,441.40 L681.25,442.88 L681.50,444.62 L681.75,445.71 L682.00,446.93 L682.25,446.93 L682.50,446.11 L682.75,446.11 L683.00,447.38 L683.25,447.38 L683.50,447.40 L683.75,447.40 L684.00,447.26 L684.25,447.26 L684.50,447.40 L684.75,447.40 L685.00,443.23 L685.00,447.40 Z" fill="#3aa23a" fill-opacity="1.0" stroke="#3aa23a" stroke-width="0.5" stroke-opacity="0.5"/>
<line x1="465" y1="447.09999999999997" x2="685" y2="447.09999999999997" stroke="#3aa23a" stroke-width="0.9"/>
<path d="M465.00,466.60 L465.00,465.22 L465.25,465.22 L465.50,463.98 L465.75,463.98 L466.00,466.45 L466.25,466.45 L466.50,465.40 L466.75,465.40 L467.00,465.30 L467.25,465.30 L467.50,464.88 L467.75,464.88 L468.00,466.49 L468.25,466.49 L468.50,466.60 L468.75,466.60 L469.00,466.44 L469.25,466.44 L469.50,466.60 L469.75,466.60 L470.00,466.55 L470.25,466.55 L470.50,465.38 L470.75,465.38 L471.00,465.43 L471.25,465.43 L471.50,466.33 L471.75,466.33 L472.00,466.51 L472.25,466.51 L472.50,466.60 L472.75,466.60 L473.00,463.66 L473.25,463.66 L473.50,465.60 L473.75,465.60 L474.00,466.60 L474.25,466.60 L474.50,466.58 L474.75,466.58 L475.00,465.50 L475.25,465.50 L475.50,466.58 L475.75,466.58 L476.00,466.60 L476.25,466.60 L476.50,466.52 L476.75,466.52 L477.00,466.49 L477.25,466.49 L477.50,465.95 L477.75,465.95 L478.00,464.67 L478.25,464.67 L478.50,466.42 L478.75,466.42 L479.00,465.05 L479.25,465.05 L479.50,465.87 L479.75,465.87 L480.00,466.00 L480.25,466.00 L480.50,465.84 L480.75,465.84 L481.00,465.99 L481.25,465.99 L481.50,465.64 L481.75,465.64 L482.00,466.02 L482.25,466.02 L482.50,464.42 L482.75,464.42 L483.00,466.60 L483.25,466.60 L483.50,466.56 L483.75,466.56 L484.00,465.72 L484.25,465.72 L484.50,465.21 L484.75,465.21 L485.00,466.60 L485.25,466.60 L485.50,466.31 L485.75,466.31 L486.00,463.99 L486.25,463.99 L486.50,466.38 L486.75,456.57 L487.00,452.51 L487.25,450.31 L487.50,454.07 L487.75,458.40 L488.00,466.60 L488.25,466.60 L488.50,463.71 L488.75,463.71 L489.00,466.41 L489.25,466.41 L489.50,466.60 L489.75,466.60 L490.00,466.46 L490.25,466.46 L490.50,466.56 L490.75,466.56 L491.00,466.48 L491.25,466.48 L491.50,466.60 L491.75,457.75 L492.00,454.17 L492.25,452.22 L492.50,455.54 L492.75,459.36 L493.00,464.95 L493.25,464.95 L493.50,465.76 L493.75,465.76 L494.00,463.97 L494.25,463.97 L494.50,463.82 L494.75,462.08 L495.00,460.60 L495.25,462.08 L495.50,463.82 L495.75,466.23 L496.00,466.60 L496.25,466.60 L496.50,464.90 L496.75,464.90 L497.00,464.13 L497.25,464.13 L497.50,466.46 L497.75,466.46 L498.00,466.60 L498.25,466.60 L498.50,466.32 L498.75,466.32 L499.00,466.58 L499.25,466.58 L499.50,465.26 L499.75,465.26 L500.00,466.45 L500.25,466.45 L500.50,465.81 L500.75,465.81 L501.00,464.84 L501.25,464.84 L501.50,466.27 L501.75,466.27 L502.00,466.57 L502.25,466.57 L502.50,466.56 L502.75,466.56 L503.00,466.56 L503.25,466.56 L503.50,466.49 L503.75,466.49 L504.00,465.41 L504.25,465.41 L504.50,464.02 L504.75,464.02 L505.00,465.77 L505.25,465.77 L505.50,466.19 L505.75,466.19 L506.00,466.03 L506.25,466.03 L506.50,466.60 L506.75,466.60 L507.00,466.60 L507.25,466.60 L507.50,465.32 L507.75,465.32 L508.00,466.60 L508.25,466.60 L508.50,466.58 L508.75,466.58 L509.00,466.60 L509.25,466.60 L509.50,463.73 L509.75,463.73 L510.00,466.60 L510.25,466.60 L510.50,466.60 L510.75,466.60 L511.00,466.60 L511.25,466.60 L511.50,464.80 L511.75,464.80 L512.00,466.56 L512.25,466.56 L512.50,465.66 L512.75,465.66 L513.00,466.08 L513.25,466.08 L513.50,465.96 L513.75,465.96 L514.00,466.39 L514.25,466.39 L514.50,466.60 L514.75,466.60 L515.00,465.31 L515.25,465.31 L515.50,466.60 L515.75,466.60 L516.00,466.60 L516.25,466.60 L516.50,463.67 L516.75,463.67 L517.00,466.60 L517.25,466.60 L517.50,466.60 L517.75,466.60 L518.00,466.60 L518.25,466.60 L518.50,466.09 L518.75,466.09 L519.00,464.01 L519.25,464.01 L519.50,466.56 L519.75,466.56 L520.00,466.60 L520.25,466.60 L520.50,466.60 L520.75,466.60 L521.00,463.81 L521.25,463.81 L521.50,464.58 L521.75,464.58 L522.00,464.22 L522.25,464.22 L522.50,466.11 L522.75,466.11 L523.00,464.79 L523.25,464.79 L523.50,465.31 L523.75,465.31 L524.00,466.60 L524.25,466.60 L524.50,466.51 L524.75,466.51 L525.00,464.44 L525.25,464.44 L525.50,466.23 L525.75,466.23 L526.00,466.57 L526.25,466.57 L526.50,466.48 L526.75,466.48 L527.00,464.45 L527.25,464.45 L527.50,466.58 L527.75,466.58 L528.00,466.60 L528.25,466.60 L528.50,466.60 L528.75,466.60 L529.00,465.29 L529.25,465.29 L529.50,464.89 L529.75,464.89 L530.00,466.49 L530.25,466.49 L530.50,465.53 L530.75,465.53 L531.00,466.53 L531.25,466.53 L531.50,465.27 L531.75,465.27 L532.00,465.62 L532.25,465.62 L532.50,464.99 L532.75,464.99 L533.00,465.95 L533.25,465.95 L533.50,466.60 L533.75,466.60 L534.00,466.53 L534.25,466.53 L534.50,466.56 L534.75,466.56 L535.00,466.60 L535.25,466.60 L535.50,464.20 L535.75,463.59 L536.00,462.60 L536.25,463.59 L536.50,464.75 L536.75,465.31 L537.00,465.49 L537.25,465.49 L537.50,463.86 L537.75,463.86 L538.00,464.78 L538.25,464.78 L538.50,465.93 L538.75,465.93 L539.00,466.57 L539.25,466.57 L539.50,464.20 L539.75,464.20 L540.00,466.19 L540.25,466.19 L540.50,465.61 L540.75,465.61 L541.00,466.30 L541.25,466.30 L541.50,466.60 L541.75,466.60 L542.00,466.30 L542.25,466.30 L542.50,466.60 L542.75,466.60 L543.00,466.60 L543.25,466.60 L543.50,466.60 L543.75,466.60 L544.00,464.23 L544.25,464.23 L544.50,466.51 L544.75,466.51 L545.00,466.57 L545.25,466.57 L545.50,466.60 L545.75,466.60 L546.00,466.23 L546.25,466.23 L546.50,466.58 L546.75,466.58 L547.00,466.11 L547.25,466.11 L547.50,464.94 L547.75,464.94 L548.00,464.65 L548.25,464.65 L548.50,466.60 L548.75,466.60 L549.00,465.66 L549.25,465.66 L549.50,465.83 L549.75,465.83 L550.00,466.25 L550.25,466.25 L550.50,466.57 L550.75,466.57 L551.00,466.60 L551.25,466.60 L551.50,464.61 L551.75,464.61 L552.00,465.03 L552.25,465.03 L552.50,465.77 L552.75,465.77 L553.00,464.21 L553.25,464.21 L553.50,466.02 L553.75,466.02 L554.00,466.23 L554.25,466.23 L554.50,465.37 L554.75,465.37 L555.00,466.60 L555.25,466.60 L555.50,464.23 L555.75,464.23 L556.00,466.43 L556.25,466.43 L556.50,463.78 L556.75,463.78 L557.00,465.50 L557.25,465.50 L557.50,466.08 L557.75,466.08 L558.00,466.59 L558.25,466.59 L558.50,466.47 L558.75,466.47 L559.00,465.91 L559.25,465.91 L559.50,464.07 L559.75,464.07 L560.00,466.60 L560.25,466.60 L560.50,466.53 L560.75,466.53 L561.00,466.60 L561.25,466.60 L561.50,466.32 L561.75,466.32 L562.00,466.60 L562.25,466.60 L562.50,463.91 L562.75,463.91 L563.00,463.95 L563.25,463.95 L563.50,463.96 L563.75,463.96 L564.00,465.25 L564.25,465.25 L564.50,466.47 L564.75,466.47 L565.00,466.54 L565.25,466.54 L565.50,466.60 L565.75,466.60 L566.00,466.47 L566.25,466.47 L566.50,466.51 L566.75,466.51 L567.00,466.45 L567.25,466.45 L567.50,466.60 L567.75,466.60 L568.00,465.40 L568.25,465.40 L568.50,464.23 L568.75,464.23 L569.00,466.49 L569.25,466.49 L569.50,466.60 L569.75,466.60 L570.00,464.72 L570.25,464.72 L570.50,466.60 L570.75,466.60 L571.00,464.52 L571.25,464.52 L571.50,465.94 L571.75,465.94 L572.00,466.60 L572.25,466.60 L572.50,466.47 L572.75,466.47 L573.00,464.30 L573.25,464.30 L573.50,465.18 L573.75,465.18 L574.00,463.73 L574.25,463.73 L574.50,466.60 L574.75,466.60 L575.00,466.60 L575.25,466.60 L575.50,464.16 L575.75,464.16 L576.00,466.57 L576.25,466.57 L576.50,466.60 L576.75,466.60 L577.00,466.60 L577.25,466.60 L577.50,466.15 L577.75,466.15 L578.00,466.35 L578.25,466.35 L578.50,464.76 L578.75,464.76 L579.00,466.31 L579.25,466.31 L579.50,463.87 L579.75,463.87 L580.00,466.10 L580.25,466.10 L580.50,466.60 L580.75,466.60 L581.00,466.23 L581.25,466.23 L581.50,466.47 L581.75,466.47 L582.00,466.41 L582.25,466.41 L582.50,465.72 L582.75,465.72 L583.00,465.05 L583.25,465.05 L583.50,463.92 L583.75,463.92 L584.00,466.60 L584.25,466.60 L584.50,466.60 L584.75,466.60 L585.00,466.07 L585.25,466.07 L585.50,464.45 L585.75,464.45 L586.00,465.02 L586.25,465.02 L586.50,466.27 L586.75,466.27 L587.00,465.10 L587.25,465.10 L587.50,465.96 L587.75,465.96 L588.00,464.60 L588.25,464.60 L588.50,466.60 L588.75,466.60 L589.00,466.48 L589.25,466.48 L589.50,466.60 L589.75,466.60 L590.00,466.17 L590.25,466.17 L590.50,466.60 L590.75,466.60 L591.00,466.60 L591.25,466.60 L591.50,464.40 L591.75,464.40 L592.00,466.60 L592.25,466.60 L592.50,464.04 L592.75,464.04 L593.00,466.35 L593.25,466.35 L593.50,466.51 L593.75,466.51 L594.00,466.60 L594.25,466.60 L594.50,466.59 L594.75,466.59 L595.00,466.60 L595.25,466.60 L595.50,465.21 L595.75,464.34 L596.00,463.60 L596.25,464.33 L596.50,465.21 L596.75,465.73 L597.00,466.60 L597.25,466.60 L597.50,464.60 L597.75,464.60 L598.00,465.82 L598.25,465.82 L598.50,464.49 L598.75,464.49 L599.00,466.58 L599.25,466.58 L599.50,465.55 L599.75,465.55 L600.00,465.48 L600.25,465.48 L600.50,466.35 L600.75,466.35 L601.00,465.11 L601.25,465.11 L601.50,466.60 L601.75,466.60 L602.00,466.35 L602.25,466.35 L602.50,463.84 L602.75,463.84 L603.00,466.60 L603.25,466.60 L603.50,466.60 L603.75,466.60 L604.00,464.34 L604.25,464.34 L604.50,464.84 L604.75,464.84 L605.00,464.84 L605.25,464.84 L605.50,466.43 L605.75,466.43 L606.00,466.60 L606.25,466.60 L606.50,466.33 L606.75,466.33 L607.00,464.80 L607.25,464.80 L607.50,466.36 L607.75,466.36 L608.00,466.60 L608.25,466.60 L608.50,466.60 L608.75,466.60 L609.00,465.81 L609.25,465.81 L609.50,466.29 L609.75,466.29 L610.00,466.60 L610.25,466.60 L610.50,463.64 L610.75,463.64 L611.00,466.60 L611.25,466.60 L611.50,466.59 L611.75,466.59 L612.00,463.68 L612.25,463.68 L612.50,465.61 L612.75,465.61 L613.00,466.24 L613.25,466.24 L613.50,466.21 L613.75,466.21 L614.00,464.71 L614.25,464.71 L614.50,466.25 L614.75,466.25 L615.00,466.60 L615.25,466.60 L615.50,464.38 L615.75,464.38 L616.00,465.52 L616.25,465.52 L616.50,465.50 L616.75,465.50 L617.00,466.60 L617.25,466.60 L617.50,466.60 L617.75,466.60 L618.00,463.85 L618.25,463.85 L618.50,464.06 L618.75,464.06 L619.00,466.60 L619.25,466.60 L619.50,466.58 L619.75,466.58 L620.00,466.60 L620.25,466.60 L620.50,466.33 L620.75,466.33 L621.00,466.60 L621.25,466.60 L621.50,465.46 L621.75,465.46 L622.00,464.40 L622.25,464.40 L622.50,466.58 L622.75,466.58 L623.00,466.06 L623.25,466.06 L623.50,466.42 L623.75,466.42 L624.00,466.40 L624.25,466.40 L624.50,466.57 L624.75,466.57 L625.00,464.66 L625.25,464.66 L625.50,466.45 L625.75,466.45 L626.00,466.58 L626.25,466.58 L626.50,464.96 L626.75,464.96 L627.00,465.45 L627.25,465.45 L627.50,466.60 L627.75,466.60 L628.00,466.36 L628.25,466.36 L628.50,466.55 L628.75,466.55 L629.00,465.56 L629.25,465.56 L629.50,466.54 L629.75,466.54 L630.00,465.97 L630.25,465.97 L630.50,466.60 L630.75,466.60 L631.00,465.30 L631.25,465.30 L631.50,466.42 L631.75,466.42 L632.00,464.65 L632.25,464.65 L632.50,465.80 L632.75,465.80 L633.00,466.58 L633.25,466.58 L633.50,466.54 L633.75,466.54 L634.00,466.60 L634.25,466.60 L634.50,464.74 L634.75,464.74 L635.00,466.60 L635.25,466.60 L635.50,466.60 L635.75,466.60 L636.00,464.76 L636.25,464.76 L636.50,465.17 L636.75,465.17 L637.00,465.04 L637.25,465.04 L637.50,463.86 L637.75,463.86 L638.00,464.77 L638.25,464.77 L638.50,465.11 L638.75,465.11 L639.00,466.18 L639.25,466.18 L639.50,465.38 L639.75,465.38 L640.00,466.42 L640.25,466.42 L640.50,466.60 L640.75,466.60 L641.00,466.01 L641.25,466.01 L641.50,466.58 L641.75,466.58 L642.00,463.95 L642.25,463.95 L642.50,465.14 L642.75,465.14 L643.00,464.58 L643.25,464.58 L643.50,466.60 L643.75,466.60 L644.00,464.08 L644.25,464.08 L644.50,466.57 L644.75,466.57 L645.00,465.24 L645.25,465.24 L645.50,465.28 L645.75,465.28 L646.00,466.02 L646.25,466.02 L646.50,463.84 L646.75,463.84 L647.00,465.24 L647.25,465.24 L647.50,466.57 L647.75,466.57 L648.00,466.49 L648.25,466.49 L648.50,466.51 L648.75,466.51 L649.00,466.32 L649.25,466.32 L649.50,466.26 L649.75,466.26 L650.00,464.12 L650.25,464.12 L650.50,466.12 L650.75,466.12 L651.00,466.47 L651.25,466.47 L651.50,465.85 L651.75,465.85 L652.00,466.60 L652.25,466.60 L652.50,466.52 L652.75,466.52 L653.00,465.74 L653.25,465.74 L653.50,466.60 L653.75,466.60 L654.00,466.60 L654.25,466.60 L654.50,466.60 L654.75,466.60 L655.00,466.04 L655.25,466.04 L655.50,466.60 L655.75,466.60 L656.00,463.95 L656.25,462.02 L656.50,459.60 L656.75,457.51 L657.00,455.60 L657.25,457.51 L657.50,459.60 L657.75,462.02 L658.00,466.40 L658.25,463.69 L658.50,462.15 L658.75,460.81 L659.00,459.60 L659.25,460.81 L659.50,462.15 L659.75,463.69 L660.00,466.10 L660.25,466.10 L660.50,466.56 L660.75,466.56 L661.00,463.64 L661.25,463.64 L661.50,466.44 L661.75,466.44 L662.00,466.42 L662.25,466.42 L662.50,464.78 L662.75,464.78 L663.00,466.60 L663.25,466.60 L663.50,466.60 L663.75,466.60 L664.00,465.60 L664.25,465.60 L664.50,466.60 L664.75,466.60 L665.00,464.87 L665.25,464.87 L665.50,465.89 L665.75,465.89 L666.00,466.13 L666.25,466.13 L666.50,463.79 L666.75,463.79 L667.00,466.60 L667.25,466.60 L667.50,465.10 L667.75,465.10 L668.00,465.57 L668.25,465.57 L668.50,465.63 L668.75,465.63 L669.00,464.63 L669.25,464.63 L669.50,466.59 L669.75,466.59 L670.00,466.55 L670.25,466.55 L670.50,466.59 L670.75,466.59 L671.00,466.60 L671.25,466.60 L671.50,466.59 L671.75,466.59 L672.00,466.60 L672.25,466.60 L672.50,466.60 L672.75,466.60 L673.00,465.75 L673.25,465.75 L673.50,466.56 L673.75,466.56 L674.00,464.30 L674.25,464.30 L674.50,466.51 L674.75,466.51 L675.00,466.41 L675.25,466.41 L675.50,466.60 L675.75,466.60 L676.00,466.53 L676.25,466.53 L676.50,465.20 L676.75,465.20 L677.00,464.66 L677.25,464.66 L677.50,466.60 L677.75,466.60 L678.00,466.04 L678.25,466.04 L678.50,466.60 L678.75,466.60 L679.00,466.36 L679.25,466.36 L679.50,466.60 L679.75,466.60 L680.00,466.60 L680.25,466.60 L680.50,464.54 L680.75,464.54 L681.00,464.63 L681.25,464.63 L681.50,463.68 L681.75,463.68 L682.00,466.50 L682.25,466.50 L682.50,465.93 L682.75,465.93 L683.00,466.56 L683.25,466.56 L683.50,466.47 L683.75,466.47 L684.00,463.94 L684.25,463.94 L684.50,466.51 L684.75,466.51 L685.00,466.44 L685.00,466.60 Z" fill="#ff8c1a" fill-opacity="1.0" stroke="#ff8c1a" stroke-width="0.5" stroke-opacity="0.5"/>
<line x1="465" y1="466.3" x2="685" y2="466.3" stroke="#ff8c1a" stroke-width="0.9"/>
<path d="M465.00,487.00 L465.00,487.00 L465.25,487.00 L465.50,486.64 L465.75,486.64 L466.00,487.00 L466.25,487.00 L466.50,487.00 L466.75,487.00 L467.00,486.47 L467.25,486.47 L467.50,487.00 L467.75,487.00 L468.00,487.00 L468.25,487.00 L468.50,487.00 L468.75,487.00 L469.00,487.00 L469.25,487.00 L469.50,487.00 L469.75,487.00 L470.00,487.00 L470.25,487.00 L470.50,487.00 L470.75,487.00 L471.00,487.00 L471.25,487.00 L471.50,487.00 L471.75,487.00 L472.00,487.00 L472.25,487.00 L472.50,487.00 L472.75,487.00 L473.00,487.00 L473.25,487.00 L473.50,487.00 L473.75,487.00 L474.00,487.00 L474.25,487.00 L474.50,487.00 L474.75,487.00 L475.00,487.00 L475.25,487.00 L475.50,487.00 L475.75,487.00 L476.00,487.00 L476.25,487.00 L476.50,486.80 L476.75,486.80 L477.00,487.00 L477.25,487.00 L477.50,487.00 L477.75,487.00 L478.00,487.00 L478.25,487.00 L478.50,487.00 L478.75,487.00 L479.00,487.00 L479.25,487.00 L479.50,487.00 L479.75,487.00 L480.00,487.00 L480.25,487.00 L480.50,487.00 L480.75,487.00 L481.00,487.00 L481.25,487.00 L481.50,486.99 L481.75,486.99 L482.00,487.00 L482.25,487.00 L482.50,487.00 L482.75,487.00 L483.00,487.00 L483.25,487.00 L483.50,487.00 L483.75,487.00 L484.00,487.00 L484.25,487.00 L484.50,478.58 L484.75,473.32 L485.00,468.83 L485.25,473.32 L485.50,469.62 L485.75,472.75 L486.00,468.07 L486.25,472.75 L486.50,468.22 L486.75,472.86 L487.00,469.36 L487.25,473.72 L487.50,471.85 L487.75,475.59 L488.00,471.91 L488.25,474.28 L488.50,470.11 L488.75,473.24 L489.00,468.72 L489.25,473.24 L489.50,471.68 L489.75,474.43 L490.00,470.30 L490.25,474.43 L490.50,471.66 L490.75,474.77 L491.00,470.76 L491.25,474.77 L491.50,471.98 L491.75,474.71 L492.00,470.68 L492.25,474.13 L492.50,469.91 L492.75,474.13 L493.00,471.20 L493.25,473.34 L493.50,468.85 L493.75,473.34 L494.00,478.59 L494.25,482.87 L494.50,483.82 L494.75,484.92 L495.00,486.85 L495.25,486.85 L495.50,487.00 L495.75,487.00 L496.00,487.00 L496.25,487.00 L496.50,487.00 L496.75,487.00 L497.00,487.00 L497.25,487.00 L497.50,487.00 L497.75,487.00 L498.00,486.45 L498.25,486.45 L498.50,487.00 L498.75,487.00 L499.00,487.00 L499.25,487.00 L499.50,487.00 L499.75,487.00 L500.00,487.00 L500.25,487.00 L500.50,487.00 L500.75,487.00 L501.00,487.00 L501.25,487.00 L501.50,487.00 L501.75,487.00 L502.00,487.00 L502.25,487.00 L502.50,487.00 L502.75,487.00 L503.00,487.00 L503.25,487.00 L503.50,487.00 L503.75,487.00 L504.00,487.00 L504.25,487.00 L504.50,487.00 L504.75,487.00 L505.00,487.00 L505.25,487.00 L505.50,487.00 L505.75,487.00 L506.00,487.00 L506.25,487.00 L506.50,487.00 L506.75,487.00 L507.00,487.00 L507.25,487.00 L507.50,487.00 L507.75,487.00 L508.00,487.00 L508.25,487.00 L508.50,487.00 L508.75,487.00 L509.00,487.00 L509.25,487.00 L509.50,487.00 L509.75,487.00 L510.00,487.00 L510.25,487.00 L510.50,487.00 L510.75,487.00 L511.00,487.00 L511.25,487.00 L511.50,486.71 L511.75,486.71 L512.00,487.00 L512.25,487.00 L512.50,487.00 L512.75,487.00 L513.00,487.00 L513.25,487.00 L513.50,486.97 L513.75,486.97 L514.00,487.00 L514.25,487.00 L514.50,487.00 L514.75,487.00 L515.00,487.00 L515.25,481.69 L515.50,479.54 L515.75,478.37 L516.00,480.36 L516.25,482.66 L516.50,487.00 L516.75,487.00 L517.00,487.00 L517.25,487.00 L517.50,487.00 L517.75,487.00 L518.00,487.00 L518.25,487.00 L518.50,486.99 L518.75,486.99 L519.00,487.00 L519.25,487.00 L519.50,487.00 L519.75,487.00 L520.00,486.53 L520.25,486.53 L520.50,487.00 L520.75,487.00 L521.00,487.00 L521.25,487.00 L521.50,487.00 L521.75,487.00 L522.00,487.00 L522.25,487.00 L522.50,487.00 L522.75,487.00 L523.00,487.00 L523.25,487.00 L523.50,487.00 L523.75,487.00 L524.00,487.00 L524.25,487.00 L524.50,487.00 L524.75,487.00 L525.00,487.00 L525.25,487.00 L525.50,487.00 L525.75,487.00 L526.00,486.59 L526.25,486.59 L526.50,487.00 L526.75,487.00 L527.00,487.00 L527.25,487.00 L527.50,487.00 L527.75,487.00 L528.00,487.00 L528.25,487.00 L528.50,487.00 L528.75,487.00 L529.00,487.00 L529.25,487.00 L529.50,487.00 L529.75,487.00 L530.00,487.00 L530.25,487.00 L530.50,487.00 L530.75,487.00 L531.00,487.00 L531.25,487.00 L531.50,487.00 L531.75,487.00 L532.00,486.83 L532.25,486.83 L532.50,487.00 L532.75,487.00 L533.00,487.00 L533.25,487.00 L533.50,487.00 L533.75,487.00 L534.00,487.00 L534.25,487.00 L534.50,487.00 L534.75,487.00 L535.00,487.00 L535.25,487.00 L535.50,487.00 L535.75,487.00 L536.00,487.00 L536.25,487.00 L536.50,487.00 L536.75,487.00 L537.00,487.00 L537.25,487.00 L537.50,486.96 L537.75,486.96 L538.00,487.00 L538.25,487.00 L538.50,486.42 L538.75,486.42 L539.00,487.00 L539.25,487.00 L539.50,487.00 L539.75,487.00 L540.00,486.73 L540.25,486.73 L540.50,487.00 L540.75,487.00 L541.00,487.00 L541.25,487.00 L541.50,487.00 L541.75,487.00 L542.00,487.00 L542.25,487.00 L542.50,487.00 L542.75,487.00 L543.00,487.00 L543.25,487.00 L543.50,487.00 L543.75,487.00 L544.00,487.00 L544.25,487.00 L544.50,487.00 L544.75,487.00 L545.00,486.90 L545.25,486.90 L545.50,487.00 L545.75,487.00 L546.00,487.00 L546.25,487.00 L546.50,487.00 L546.75,487.00 L547.00,487.00 L547.25,487.00 L547.50,487.00 L547.75,487.00 L548.00,487.00 L548.25,487.00 L548.50,487.00 L548.75,487.00 L549.00,487.00 L549.25,487.00 L549.50,487.00 L549.75,487.00 L550.00,487.00 L550.25,487.00 L550.50,487.00 L550.75,487.00 L551.00,487.00 L551.25,487.00 L551.50,487.00 L551.75,487.00 L552.00,487.00 L552.25,487.00 L552.50,487.00 L552.75,487.00 L553.00,486.94 L553.25,486.94 L553.50,487.00 L553.75,487.00 L554.00,487.00 L554.25,487.00 L554.50,487.00 L554.75,487.00 L555.00,487.00 L555.25,487.00 L555.50,487.00 L555.75,487.00 L556.00,487.00 L556.25,487.00 L556.50,486.88 L556.75,486.88 L557.00,487.00 L557.25,487.00 L557.50,487.00 L557.75,487.00 L558.00,487.00 L558.25,487.00 L558.50,487.00 L558.75,487.00 L559.00,487.00 L559.25,487.00 L559.50,487.00 L559.75,487.00 L560.00,487.00 L560.25,487.00 L560.50,487.00 L560.75,487.00 L561.00,487.00 L561.25,487.00 L561.50,487.00 L561.75,487.00 L562.00,487.00 L562.25,487.00 L562.50,487.00 L562.75,487.00 L563.00,487.00 L563.25,487.00 L563.50,487.00 L563.75,487.00 L564.00,487.00 L564.25,487.00 L564.50,487.00 L564.75,487.00 L565.00,487.00 L565.25,487.00 L565.50,487.00 L565.75,487.00 L566.00,487.00 L566.25,487.00 L566.50,487.00 L566.75,487.00 L567.00,487.00 L567.25,487.00 L567.50,487.00 L567.75,487.00 L568.00,487.00 L568.25,487.00 L568.50,487.00 L568.75,487.00 L569.00,487.00 L569.25,487.00 L569.50,487.00 L569.75,487.00 L570.00,487.00 L570.25,487.00 L570.50,486.46 L570.75,486.46 L571.00,487.00 L571.25,487.00 L571.50,487.00 L571.75,487.00 L572.00,487.00 L572.25,487.00 L572.50,487.00 L572.75,487.00 L573.00,487.00 L573.25,487.00 L573.50,487.00 L573.75,487.00 L574.00,487.00 L574.25,487.00 L574.50,486.37 L574.75,486.37 L575.00,487.00 L575.25,487.00 L575.50,487.00 L575.75,487.00 L576.00,487.00 L576.25,487.00 L576.50,487.00 L576.75,487.00 L577.00,487.00 L577.25,487.00 L577.50,487.00 L577.75,487.00 L578.00,487.00 L578.25,487.00 L578.50,487.00 L578.75,487.00 L579.00,487.00 L579.25,487.00 L579.50,487.00 L579.75,487.00 L580.00,487.00 L580.25,487.00 L580.50,487.00 L580.75,487.00 L581.00,487.00 L581.25,487.00 L581.50,487.00 L581.75,487.00 L582.00,487.00 L582.25,487.00 L582.50,487.00 L582.75,487.00 L583.00,487.00 L583.25,487.00 L583.50,487.00 L583.75,487.00 L584.00,487.00 L584.25,487.00 L584.50,486.99 L584.75,486.99 L585.00,487.00 L585.25,487.00 L585.50,487.00 L585.75,487.00 L586.00,487.00 L586.25,487.00 L586.50,487.00 L586.75,487.00 L587.00,486.69 L587.25,486.69 L587.50,487.00 L587.75,487.00 L588.00,487.00 L588.25,487.00 L588.50,487.00 L588.75,487.00 L589.00,487.00 L589.25,487.00 L589.50,487.00 L589.75,487.00 L590.00,487.00 L590.25,487.00 L590.50,487.00 L590.75,487.00 L591.00,487.00 L591.25,487.00 L591.50,487.00 L591.75,487.00 L592.00,487.00 L592.25,487.00 L592.50,487.00 L592.75,487.00 L593.00,487.00 L593.25,487.00 L593.50,487.00 L593.75,487.00 L594.00,487.00 L594.25,487.00 L594.50,487.00 L594.75,487.00 L595.00,487.00 L595.25,487.00 L595.50,487.00 L595.75,487.00 L596.00,487.00 L596.25,487.00 L596.50,487.00 L596.75,487.00 L597.00,487.00 L597.25,487.00 L597.50,486.61 L597.75,486.61 L598.00,487.00 L598.25,487.00 L598.50,487.00 L598.75,487.00 L599.00,487.00 L599.25,487.00 L599.50,487.00 L599.75,487.00 L600.00,487.00 L600.25,487.00 L600.50,487.00 L600.75,487.00 L601.00,487.00 L601.25,487.00 L601.50,487.00 L601.75,487.00 L602.00,487.00 L602.25,487.00 L602.50,487.00 L602.75,487.00 L603.00,487.00 L603.25,487.00 L603.50,486.51 L603.75,486.51 L604.00,487.00 L604.25,487.00 L604.50,487.00 L604.75,487.00 L605.00,487.00 L605.25,487.00 L605.50,487.00 L605.75,487.00 L606.00,486.42 L606.25,486.42 L606.50,487.00 L606.75,487.00 L607.00,486.75 L607.25,486.75 L607.50,486.91 L607.75,486.91 L608.00,487.00 L608.25,487.00 L608.50,487.00 L608.75,487.00 L609.00,487.00 L609.25,487.00 L609.50,487.00 L609.75,487.00 L610.00,487.00 L610.25,487.00 L610.50,487.00 L610.75,487.00 L611.00,486.99 L611.25,486.99 L611.50,487.00 L611.75,487.00 L612.00,487.00 L612.25,487.00 L612.50,487.00 L612.75,487.00 L613.00,487.00 L613.25,487.00 L613.50,486.85 L613.75,486.85 L614.00,486.78 L614.25,486.78 L614.50,487.00 L614.75,487.00 L615.00,487.00 L615.25,487.00 L615.50,487.00 L615.75,487.00 L616.00,487.00 L616.25,487.00 L616.50,487.00 L616.75,487.00 L617.00,487.00 L617.25,487.00 L617.50,487.00 L617.75,487.00 L618.00,487.00 L618.25,487.00 L618.50,487.00 L618.75,487.00 L619.00,487.00 L619.25,487.00 L619.50,487.00 L619.75,481.18 L620.00,478.10 L620.25,475.43 L620.50,473.00 L620.75,475.43 L621.00,478.10 L621.25,481.18 L621.50,482.16 L621.75,479.95 L622.00,478.00 L622.25,479.95 L622.50,482.16 L622.75,487.00 L623.00,487.00 L623.25,487.00 L623.50,487.00 L623.75,487.00 L624.00,487.00 L624.25,487.00 L624.50,487.00 L624.75,487.00 L625.00,487.00 L625.25,487.00 L625.50,486.96 L625.75,486.96 L626.00,487.00 L626.25,487.00 L626.50,487.00 L626.75,487.00 L627.00,487.00 L627.25,487.00 L627.50,487.00 L627.75,487.00 L628.00,487.00 L628.25,487.00 L628.50,487.00 L628.75,487.00 L629.00,487.00 L629.25,487.00 L629.50,487.00 L629.75,487.00 L630.00,487.00 L630.25,487.00 L630.50,487.00 L630.75,487.00 L631.00,487.00 L631.25,487.00 L631.50,487.00 L631.75,487.00 L632.00,487.00 L632.25,487.00 L632.50,487.00 L632.75,487.00 L633.00,487.00 L633.25,487.00 L633.50,487.00 L633.75,487.00 L634.00,487.00 L634.25,487.00 L634.50,486.92 L634.75,486.92 L635.00,487.00 L635.25,487.00 L635.50,486.79 L635.75,481.66 L636.00,479.49 L636.25,477.57 L636.50,477.21 L636.75,479.09 L637.00,481.20 L637.25,487.00 L637.50,486.73 L637.75,486.73 L638.00,487.00 L638.25,487.00 L638.50,487.00 L638.75,487.00 L639.00,487.00 L639.25,487.00 L639.50,487.00 L639.75,487.00 L640.00,487.00 L640.25,487.00 L640.50,486.94 L640.75,486.94 L641.00,487.00 L641.25,487.00 L641.50,487.00 L641.75,487.00 L642.00,487.00 L642.25,487.00 L642.50,487.00 L642.75,487.00 L643.00,487.00 L643.25,487.00 L643.50,487.00 L643.75,487.00 L644.00,487.00 L644.25,487.00 L644.50,487.00 L644.75,487.00 L645.00,487.00 L645.25,487.00 L645.50,487.00 L645.75,487.00 L646.00,487.00 L646.25,487.00 L646.50,487.00 L646.75,487.00 L647.00,487.00 L647.25,487.00 L647.50,487.00 L647.75,487.00 L648.00,487.00 L648.25,487.00 L648.50,487.00 L648.75,487.00 L649.00,487.00 L649.25,484.59 L649.50,479.58 L649.75,474.94 L650.00,470.98 L650.25,474.94 L650.50,472.00 L650.75,475.71 L651.00,472.11 L651.25,475.52 L651.50,471.76 L651.75,473.60 L652.00,469.20 L652.25,473.60 L652.50,471.74 L652.75,475.02 L653.00,471.08 L653.25,473.88 L653.50,469.58 L653.75,473.88 L654.00,470.31 L654.25,472.93 L654.50,468.31 L654.75,472.93 L655.00,470.55 L655.25,474.62 L655.50,470.89 L655.75,474.15 L656.00,469.93 L656.25,474.15 L656.50,471.92 L656.75,473.06 L657.00,468.49 L657.25,473.06 L657.50,471.13 L657.75,475.00 L658.00,471.06 L658.25,473.89 L658.50,469.59 L658.75,473.89 L659.00,472.24 L659.25,473.97 L659.50,469.70 L659.75,473.26 L660.00,468.75 L660.25,473.26 L660.50,471.31 L660.75,472.89 L661.00,468.27 L661.25,472.89 L661.50,470.36 L661.75,473.54 L662.00,469.13 L662.25,473.54 L662.50,470.65 L662.75,474.69 L663.00,470.99 L663.25,474.94 L663.50,471.65 L663.75,475.45 L664.00,472.96 L664.25,475.69 L664.50,471.98 L664.75,472.73 L665.00,468.05 L665.25,472.73 L665.50,470.33 L665.75,474.45 L666.00,478.23 L666.25,478.42 L666.50,475.60 L666.75,478.42 L667.00,477.37 L667.25,478.07 L667.50,475.14 L667.75,478.07 L668.00,478.85 L668.25,480.87 L668.50,479.71 L668.75,478.32 L669.00,475.48 L669.25,478.32 L669.50,480.04 L669.75,481.76 L670.00,483.77 L670.25,487.00 L670.50,487.00 L670.75,487.00 L671.00,487.00 L671.25,487.00 L671.50,483.29 L671.75,480.98 L672.00,479.00 L672.25,480.98 L672.50,483.29 L672.75,487.00 L673.00,487.00 L673.25,487.00 L673.50,487.00 L673.75,487.00 L674.00,487.00 L674.25,487.00 L674.50,483.76 L674.75,481.73 L675.00,480.00 L675.25,481.73 L675.50,483.76 L675.75,486.95 L676.00,487.00 L676.25,487.00 L676.50,487.00 L676.75,487.00 L677.00,487.00 L677.25,487.00 L677.50,487.00 L677.75,487.00 L678.00,486.62 L678.25,486.62 L678.50,487.00 L678.75,487.00 L679.00,487.00 L679.25,487.00 L679.50,486.71 L679.75,486.71 L680.00,487.00 L680.25,487.00 L680.50,487.00 L680.75,487.00 L681.00,487.00 L681.25,487.00 L681.50,487.00 L681.75,487.00 L682.00,487.00 L682.25,487.00 L682.50,486.32 L682.75,486.32 L683.00,487.00 L683.25,487.00 L683.50,487.00 L683.75,487.00 L684.00,487.00 L684.25,487.00 L684.50,487.00 L684.75,487.00 L685.00,487.00 L685.00,487.00 Z" fill="#7a4bb0" fill-opacity="1.0" stroke="#7a4bb0" stroke-width="0.5" stroke-opacity="0.5"/>
<line x1="465" y1="486.7" x2="685" y2="486.7" stroke="#a68bd0" stroke-width="0.9" stroke-dasharray="1.2 2.2"/>
<rect x="490.2" y="430" width="4.0" height="58" fill="#f8f0a0" opacity="0.3"/>
<rect x="509.3" y="430" width="7.699999999999989" height="58" fill="#f8f0a0" opacity="0.3"/>
<rect x="617.0" y="430" width="8.399999999999977" height="58" fill="#f8f0a0" opacity="0.3"/>
<rect x="632.1" y="430" width="8.5" height="58" fill="#f8f0a0" opacity="0.3"/>
<rect x="652.2" y="430" width="11.599999999999909" height="58" fill="#f8f0a0" opacity="0.3"/>
<text x="493.4" y="495.0" font-size="8.5" text-anchor="middle" fill="#1a1a1a" >E1</text>
<text x="514.0" y="495.0" font-size="8.5" text-anchor="middle" fill="#1a1a1a" >E2</text>
<text x="620.0" y="495.0" font-size="8.5" text-anchor="middle" fill="#1a1a1a" >E3</text>
<text x="636.8" y="495.0" font-size="8.5" text-anchor="middle" fill="#1a1a1a" >E4</text>
<text x="658.2" y="495.0" font-size="8.5" text-anchor="middle" fill="#1a1a1a" >SCR</text>
<polygon points="466.3,498.6 684.5,498.6 575.4,564.3" fill="url(#gf2)"/>
<g clip-path="url(#cf2)">
<polygon points="466.3,498.6 520,498.6 493.15,514.8" fill="url(#tgf20)"/>
<polygon points="630,498.6 684.5,498.6 657.25,515.0" fill="url(#tgf21)"/>
<ellipse cx="575.5" cy="549" rx="5" ry="3" fill="#ff0000" opacity="0.55"/>
<ellipse cx="487" cy="500.5" rx="6" ry="2" fill="#ff0000" opacity="0.35"/>
<ellipse cx="505" cy="504" rx="7" ry="2.5" fill="#ff0000" opacity="0.3"/>
<ellipse cx="584" cy="541.5" rx="4" ry="2" fill="#ff0000" opacity="0.3"/>
<ellipse cx="650" cy="504" rx="5" ry="2" fill="#ff0000" opacity="0.35"/>
<ellipse cx="568" cy="540" rx="8" ry="2" fill="#ff0000" opacity="0.2"/>
</g>
<polygon points="466.3,498.6 684.5,498.6 575.4,564.3" fill="url(#gdf2)" filter="url(#densH)"/>
<path d="M466.83,498.55 L468.03,499.35 L469.23,498.55 Z M470.28,498.55 L471.48,499.35 L472.68,498.55 Z M473.73,498.55 L474.93,499.35 L476.12,498.55 Z M477.18,498.55 L478.38,499.35 L479.57,498.55 Z M480.62,498.55 L481.82,499.35 L483.02,498.55 Z M484.07,498.55 L485.27,499.35 L486.47,498.55 Z M487.52,498.55 L488.72,499.35 L489.92,498.55 Z M490.97,498.55 L492.17,499.35 L493.37,498.55 Z M494.42,498.55 L495.62,499.35 L496.82,498.55 Z M497.87,498.55 L499.07,499.35 L500.27,498.55 Z M501.32,498.55 L502.52,499.35 L503.72,498.55 Z M504.77,498.55 L505.97,499.35 L507.17,498.55 Z M508.22,498.55 L509.42,499.35 L510.62,498.55 Z M511.67,498.55 L512.87,499.35 L514.07,498.55 Z M515.12,498.55 L516.32,499.35 L517.52,498.55 Z M518.57,498.55 L519.77,499.35 L520.98,498.55 Z M522.02,498.55 L523.23,499.35 L524.43,498.55 Z M525.48,498.55 L526.68,499.35 L527.88,498.55 Z M528.93,498.55 L530.13,499.35 L531.33,498.55 Z M532.38,498.55 L533.58,499.35 L534.78,498.55 Z M535.83,498.55 L537.03,499.35 L538.23,498.55 Z M539.28,498.55 L540.48,499.35 L541.68,498.55 Z M542.73,498.55 L543.93,499.35 L545.13,498.55 Z M546.18,498.55 L547.38,499.35 L548.58,498.55 Z M549.63,498.55 L550.83,499.35 L552.03,498.55 Z M553.08,498.55 L554.28,499.35 L555.48,498.55 Z M556.53,498.55 L557.73,499.35 L558.93,498.55 Z M559.98,498.55 L561.18,499.35 L562.38,498.55 Z M563.43,498.55 L564.63,499.35 L565.83,498.55 Z M566.88,498.55 L568.08,499.35 L569.28,498.55 Z M570.33,498.55 L571.53,499.35 L572.73,498.55 Z M573.78,498.55 L574.98,499.35 L576.18,498.55 Z M577.23,498.55 L578.43,499.35 L579.63,498.55 Z M580.68,498.55 L581.88,499.35 L583.08,498.55 Z M584.13,498.55 L585.33,499.35 L586.53,498.55 Z M587.58,498.55 L588.78,499.35 L589.98,498.55 Z M591.03,498.55 L592.23,499.35 L593.43,498.55 Z M594.48,498.55 L595.68,499.35 L596.88,498.55 Z M597.93,498.55 L599.13,499.35 L600.33,498.55 Z M601.38,498.55 L602.58,499.35 L603.78,498.55 Z M604.83,498.55 L606.03,499.35 L607.23,498.55 Z M608.28,498.55 L609.48,499.35 L610.68,498.55 Z M611.73,498.55 L612.93,499.35 L614.13,498.55 Z M615.18,498.55 L616.38,499.35 L617.58,498.55 Z M618.63,498.55 L619.83,499.35 L621.03,498.55 Z M622.08,498.55 L623.28,499.35 L624.48,498.55 Z M625.53,498.55 L626.73,499.35 L627.93,498.55 Z M628.98,498.55 L630.18,499.35 L631.38,498.55 Z M632.43,498.55 L633.63,499.35 L634.83,498.55 Z M635.88,498.55 L637.08,499.35 L638.28,498.55 Z M639.33,498.55 L640.53,499.35 L641.73,498.55 Z M642.78,498.55 L643.98,499.35 L645.18,498.55 Z M646.23,498.55 L647.43,499.35 L648.63,498.55 Z M649.68,498.55 L650.88,499.35 L652.08,498.55 Z M653.13,498.55 L654.33,499.35 L655.53,498.55 Z M656.58,498.55 L657.78,499.35 L658.98,498.55 Z M660.03,498.55 L661.23,499.35 L662.43,498.55 Z M663.48,498.55 L664.68,499.35 L665.88,498.55 Z M666.93,498.55 L668.13,499.35 L669.33,498.55 Z M670.38,498.55 L671.58,499.35 L672.78,498.55 Z M673.83,498.55 L675.03,499.35 L676.23,498.55 Z M677.28,498.55 L678.48,499.35 L679.68,498.55 Z M680.73,498.55 L681.93,499.35 L683.13,498.55 Z " fill="#fff" opacity="0.85"/>
<rect x="459.6" y="525.0" width="8.4" height="16.7" fill="url(#cbar)" stroke="#6a6a6a" stroke-width="0.8"/>
<text x="468.3" y="528.9" font-size="9.0" text-anchor="start" fill="#1a1a1a" >78.9</text>
<text x="468.3" y="545.0" font-size="9.0" text-anchor="start" fill="#1a1a1a" >0</text>
<text x="624.6" y="549.7" font-size="9.6" text-anchor="start" fill="#1a1a1a" >Raichu</text>
<circle cx="571.7" cy="306.6" r="1.8" fill="#ff3030" stroke="#000" stroke-width="0.8"/>
<circle cx="574.6" cy="308.5" r="1.8" fill="#ff3030" stroke="#000" stroke-width="0.8"/>
<circle cx="577.6" cy="306.8" r="1.8" fill="#ff3030" stroke="#000" stroke-width="0.8"/>
<circle cx="562" cy="312.5" r="1.8" fill="#ff6060" stroke="#000" stroke-width="0.8"/>
<circle cx="564.7" cy="313.5" r="1.8" fill="#ff6060" stroke="#000" stroke-width="0.8"/>
<circle cx="553.7" cy="317.5" r="1.8" fill="none" stroke="#000" stroke-width="0.8"/>
<circle cx="573.6" cy="319.6" r="1.8" fill="none" stroke="#000" stroke-width="0.8"/>
<circle cx="646.4" cy="351.7" r="1.8" fill="#ff3030" stroke="#000" stroke-width="0.8"/>
<circle cx="649" cy="350.5" r="1.8" fill="#ff3030" stroke="#000" stroke-width="0.8"/>
<circle cx="481.6" cy="499.6" r="1.8" fill="none" stroke="#000" stroke-width="0.8"/>
<circle cx="484.3" cy="498.8" r="1.8" fill="none" stroke="#000" stroke-width="0.8"/>
<circle cx="490.8" cy="499.6" r="1.8" fill="none" stroke="#000" stroke-width="0.8"/>
<circle cx="499.6" cy="505.2" r="1.8" fill="none" stroke="#000" stroke-width="0.8"/>
<circle cx="501.8" cy="501.8" r="1.8" fill="none" stroke="#000" stroke-width="0.8"/>
<circle cx="502.3" cy="507.3" r="1.8" fill="none" stroke="#000" stroke-width="0.8"/>
<circle cx="505.6" cy="504.8" r="1.8" fill="none" stroke="#000" stroke-width="0.8"/>
<circle cx="509.1" cy="502.8" r="1.8" fill="none" stroke="#000" stroke-width="0.8"/>
<circle cx="512" cy="501.3" r="1.8" fill="none" stroke="#000" stroke-width="0.8"/>
<circle cx="519.7" cy="499.2" r="1.8" fill="none" stroke="#000" stroke-width="0.8"/>
<circle cx="515.8" cy="516.5" r="1.8" fill="none" stroke="#000" stroke-width="0.8"/>
<circle cx="517.2" cy="516.8" r="1.8" fill="none" stroke="#000" stroke-width="0.8"/>
<circle cx="520.5" cy="518" r="1.8" fill="none" stroke="#000" stroke-width="0.8"/>
<circle cx="525.7" cy="521.4" r="1.8" fill="none" stroke="#000" stroke-width="0.8"/>
<circle cx="595.7" cy="501.9" r="1.8" fill="none" stroke="#000" stroke-width="0.8"/>
<circle cx="646.6" cy="502.6" r="1.8" fill="none" stroke="#000" stroke-width="0.8"/>
<circle cx="648.8" cy="504.3" r="1.8" fill="none" stroke="#000" stroke-width="0.8"/>
<circle cx="652.5" cy="507.3" r="1.8" fill="none" stroke="#000" stroke-width="0.8"/>
<circle cx="658.7" cy="500.2" r="1.8" fill="none" stroke="#000" stroke-width="0.8"/>
<circle cx="553.8" cy="538.2" r="1.8" fill="none" stroke="#000" stroke-width="0.8"/>
<circle cx="561.5" cy="543.8" r="1.8" fill="none" stroke="#000" stroke-width="0.8"/>
<circle cx="563.5" cy="542.8" r="1.8" fill="none" stroke="#000" stroke-width="0.8"/>
<circle cx="567.9" cy="540.8" r="1.8" fill="none" stroke="#000" stroke-width="0.8"/>
<circle cx="572.1" cy="539.3" r="1.8" fill="none" stroke="#000" stroke-width="0.8"/>
<circle cx="575.4" cy="537.5" r="1.8" fill="none" stroke="#000" stroke-width="0.8"/>
<circle cx="582.8" cy="542" r="1.8" fill="none" stroke="#000" stroke-width="0.8"/>
<circle cx="586.1" cy="541" r="1.8" fill="none" stroke="#000" stroke-width="0.8"/>
<circle cx="588.7" cy="540.5" r="1.8" fill="none" stroke="#000" stroke-width="0.8"/>
<circle cx="565" cy="552.3" r="1.8" fill="none" stroke="#000" stroke-width="0.8"/>
<circle cx="572.1" cy="548.8" r="1.8" fill="none" stroke="#000" stroke-width="0.8"/>
<circle cx="574.6" cy="547.2" r="1.8" fill="none" stroke="#000" stroke-width="0.8"/>
<circle cx="575.4" cy="550.4" r="1.8" fill="none" stroke="#000" stroke-width="0.8"/>
<circle cx="578" cy="550.8" r="1.8" fill="none" stroke="#000" stroke-width="0.8"/>
<circle cx="573.4" cy="551.4" r="1.8" fill="none" stroke="#000" stroke-width="0.8"/>
<line x1="481.3" y1="509.6" x2="485.35" y2="505.90" stroke="#000" stroke-width="0.8"/>
<path d="M488.3,503.2 L486.63,507.30 L484.07,504.50 Z" fill="#000"/>
<line x1="490.2" y1="516.5" x2="495.36" y2="511.72" stroke="#000" stroke-width="0.8"/>
<path d="M498.3,509.0 L496.66,513.11 L494.07,510.32 Z" fill="#000"/>
<line x1="669.4" y1="509.8" x2="664.40" y2="505.05" stroke="#000" stroke-width="0.8"/>
<path d="M661.5,502.3 L665.71,503.68 L663.09,506.43 Z" fill="#000"/>
<line x1="663.2" y1="516.5" x2="658.28" y2="512.07" stroke="#000" stroke-width="0.8"/>
<path d="M655.3,509.4 L659.55,510.66 L657.01,513.49 Z" fill="#000"/>
<line x1="598.5" y1="530.3" x2="593.82" y2="534.67" stroke="#000" stroke-width="0.8"/>
<path d="M590.9,537.4 L592.53,533.28 L595.12,536.06 Z" fill="#000"/>
<line x1="563.9" y1="560.5" x2="568.31" y2="556.27" stroke="#000" stroke-width="0.8"/>
<path d="M571.2,553.5 L569.63,557.64 L567.00,554.90 Z" fill="#000"/>
</svg></body></html>
